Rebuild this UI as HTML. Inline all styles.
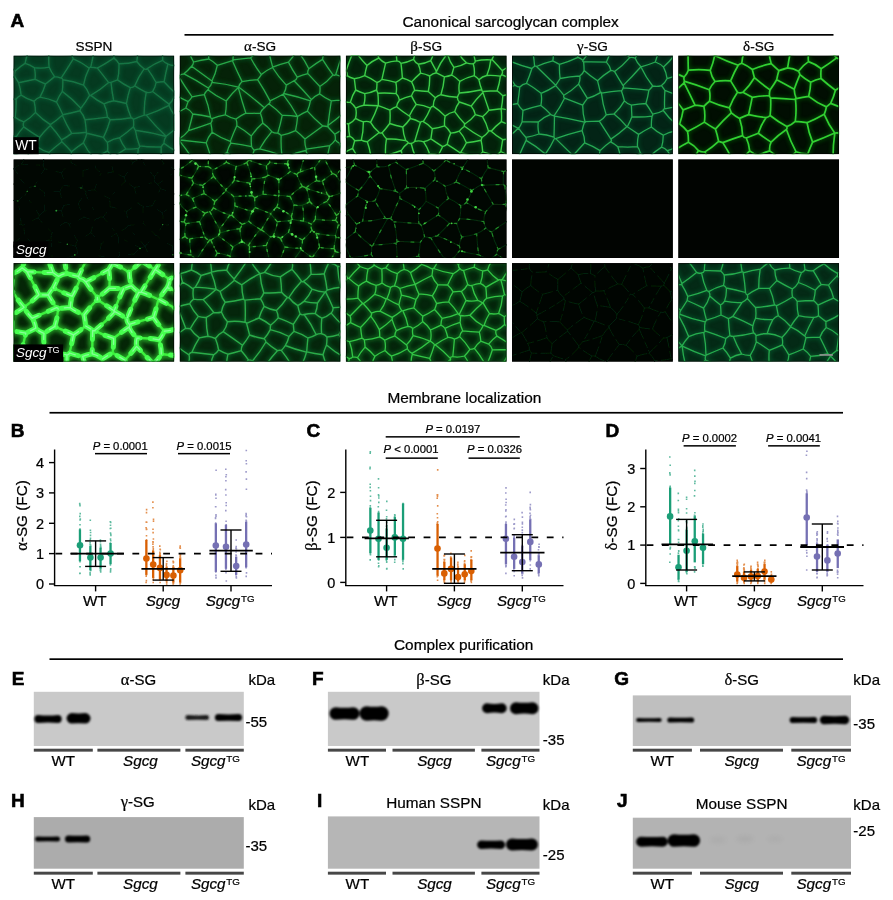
<!DOCTYPE html><html><head><meta charset="utf-8"><style>
html,body{margin:0;padding:0;background:#fff;width:893px;height:900px;overflow:hidden}
svg{display:block}
text{font-family:"Liberation Sans",Arial,sans-serif;fill:#000;stroke:#000;stroke-width:0.22px}
.gr{font-family:"Liberation Serif","Times New Roman",serif}
.b{font-weight:bold;stroke:#000;stroke-width:0.6px}
.i{font-style:italic}
.w{fill:#fff;stroke:none}
</style></head><body>
<svg width="893" height="900" viewBox="0 0 893 900">
<defs>
<filter id="blur05" x="-5%" y="-5%" width="110%" height="110%"><feGaussianBlur stdDeviation="0.5"/></filter>
<filter id="blur2" x="-5%" y="-5%" width="110%" height="110%"><feGaussianBlur stdDeviation="2"/></filter>
<filter id="bb" x="-20%" y="-80%" width="140%" height="260%"><feGaussianBlur stdDeviation="0.8"/></filter>
<filter id="bs" x="-20%" y="-80%" width="140%" height="260%"><feGaussianBlur stdDeviation="2.5"/></filter>
</defs>
<rect width="893" height="900" fill="#fff"/>
<text x="10.5" y="26.9" class="b" font-size="19">A</text>
<text x="510.6" y="26.6" font-size="15.4" text-anchor="middle">Canonical sarcoglycan complex</text>
<rect x="184.5" y="34" width="649" height="1.7" fill="#000"/>
<text x="93.9" y="50.5" font-size="13.6" text-anchor="middle">SSPN</text>
<text x="260.1" y="50.5" font-size="13.6" text-anchor="middle"><tspan class="gr" font-size="15">α</tspan>-SG</text>
<text x="426.2" y="50.5" font-size="13.6" text-anchor="middle"><tspan class="gr" font-size="15">β</tspan>-SG</text>
<text x="592.5" y="50.5" font-size="13.6" text-anchor="middle"><tspan class="gr" font-size="15">γ</tspan>-SG</text>
<text x="758.7" y="50.5" font-size="13.6" text-anchor="middle"><tspan class="gr" font-size="15">δ</tspan>-SG</text>
<clipPath id="c1"><rect x="13.4" y="55.5" width="160.9" height="98.7"/></clipPath>
<g clip-path="url(#c1)">
<rect x="13.4" y="55.5" width="160.9" height="98.7" fill="#053a20"/>
<g fill="none" stroke-linejoin="round" stroke-linecap="round">
<path d="M73.3 58.9Q81.8 62.5 89.2 68.1M73.3 58.9Q71.7 56.3 72 53.4M72 53.4Q77.4 48.7 81 42.6M94 50.6Q92.7 59 90.7 67.3M90.7 67.3Q89.5 66.9 89.2 68.1M27.8 152.5Q25.7 152.3 23.9 151M27.8 152.5Q29.6 159.9 30.2 167.5M1.1 159.6Q12.8 156.1 23.9 151M27.8 152.5Q32.1 149 37.1 146.8M37.1 146.8Q42.5 150.7 48.9 152.4M48.9 152.4Q50.8 157.5 53.4 162.3M93.1 157.3Q87.3 150.7 83.4 142.8M83.4 142.8Q77.2 146.9 71.5 151.8M71.5 151.8Q71.1 155.1 71.1 158.5M48.9 152.4Q55.2 146.8 61.9 141.7M71.5 151.8Q67 146.4 61.9 141.7M61.1 78.1Q62.7 78.2 62.8 79.8M61.1 78.1Q67.4 68.6 73.3 58.9M89.2 68.1Q85 76.2 83.5 85.1M62.8 79.8Q73.4 81.1 83.5 85.1M61.1 78.1Q58 76.8 54.6 76.6M51.6 46.7Q61.8 50 72 53.4M49.5 48Q48.2 57.5 49.1 67.1M54.6 76.6Q51.2 72.2 49.1 67.1M45 47.2Q37 51.4 28 53.1M18.5 42.2Q24.3 46.8 28 53.1M104.8 47.4Q109 50.5 112.9 53.8M112.9 53.8Q117.3 48.3 122.9 44M2 133.7Q9.1 135.3 16.3 136.6M4.4 120.2Q9.7 118.5 15.2 117.4M16.3 136.6Q19.6 131.4 23.7 126.9M15.2 117.4Q19.2 120.4 23.9 121.9M23.7 126.9Q22.7 124.3 23.9 121.9M23.9 151Q18.9 144.5 16.3 136.6M0.5 102Q8.2 99.7 16.1 98.9M16.1 98.9Q16.4 108.2 15.2 117.4M37.1 146.8Q37.9 141.9 39.6 137.3M39.6 137.3Q31.4 132.5 23.7 126.9M34.1 101.2Q27.1 99.3 21.1 95.2M34.1 101.2Q35.4 106.7 35.5 112.4M21.1 95.2Q18.3 96.6 16.1 98.9M35.5 112.4Q30.6 118.2 23.9 121.9M71.7 133.4Q66.3 124.7 62.3 115.3M71.7 133.4Q67 137.1 61.6 139.9M61.6 139.9Q56.5 132.3 50.3 125.5M62.3 115.3Q56.7 120.4 50.4 124.6M50.4 124.6Q50.6 125.1 50.3 125.5M39.6 137.3Q44.5 131 50.3 125.5M61.9 141.7Q61.3 140.9 61.6 139.9M35.5 112.4Q42.2 119.4 50.4 124.6M93.1 157.3Q100.9 155.2 107.6 150.8M107.6 150.8Q109.9 154.5 113.3 157.4M137.3 165Q137.5 156.7 138.3 148.4M138.3 148.4Q132.1 149.5 125.8 148.9M113.3 157.4Q119.3 152.7 125.8 148.9M56.5 102Q58.7 96.4 62.3 91.4M56.5 102Q60.1 108.2 62.8 114.7M62.3 91.4Q72.5 98.9 80.9 108.3M62.8 114.7Q71.5 113.1 79.9 110.8M79.9 110.8Q80.4 109.6 80.9 108.3M40 97.1Q43.4 90.9 45.5 84M40 97.1Q48.6 98.4 56.5 102M62.8 79.8Q63 85.7 62.3 91.4M54.6 76.6Q50.1 80.4 45.5 84M34.1 101.2Q36.5 98.4 40 97.1M62.3 115.3Q62.9 115.4 62.8 114.7M89.6 95.4Q87.7 89.6 83.5 85.1M89.6 95.4Q85.7 102.2 80.9 108.3M45.5 84Q40 82.1 35 79.2M49.1 67.1Q41.7 68.8 34.3 67.6M34.3 67.6Q35.8 73.3 35 79.2M28 53.1Q25.9 58 25.1 63.4M34.3 67.6Q30 64.9 25.1 63.4M21.1 95.2Q20.6 88.8 18.6 82.7M35 79.2Q26.8 81 18.6 82.7M90.7 95.4Q100.4 90 108.7 82.6M90.7 95.4Q96.8 100.5 104 103.9M104 103.9Q108.6 101.6 113.7 100.8M113.7 100.8Q111.9 91.7 111 82.4M108.7 82.6Q109.9 82.3 111 82.4M90.7 67.3Q94.1 67.5 97.4 68.1M89.6 95.4Q90.1 95.5 90.7 95.4M108.7 82.6Q103.2 75.3 97.4 68.1M112.9 53.8Q114.7 55.7 113.8 58.1M97.4 68.1Q105.9 63.5 113.8 58.1M175 65.5Q181.7 55.6 189.4 46.4M175 65.5Q178.1 68.7 181.4 71.7M139.6 145.9Q136.5 138.3 135.4 130.2M139.6 145.9Q150.3 147.5 161.2 146.9M135.4 130.2Q150.9 132.2 166 136.5M161.2 146.9Q162.2 144.8 164 143.4M164 143.4Q163.8 139.6 166 136.5M161.2 162.5Q161 154.7 161.2 146.9M138.3 148.4Q139.9 147.6 139.6 145.9M182.8 154.4Q172.8 150.1 164 143.4M71.7 133.4Q79.1 133.5 86.4 132.3M79.9 110.8Q83.5 114.8 85 119.8M85 119.8Q86 126 86.4 132.3M104 103.9Q106.9 110.2 107.4 117.1M85 119.8Q96.2 118.6 107.4 117.1M83.4 142.8Q85.6 138.2 86.9 133.2M86.4 132.3Q85.9 133.2 86.9 133.2M125.8 148.9Q121.8 143.9 119.6 137.8M135.4 130.2Q134.2 128.7 133.5 126.8M133.5 126.8Q126.9 132.7 119.6 137.8M107.4 117.1Q109 118.2 110.2 119.7M86.9 133.2Q95.2 135.1 103.5 137.4M110.2 119.7Q107.7 128.8 103.5 137.4M107.6 150.8Q108.1 146.5 107.3 142.3M119.6 137.8Q113 138.8 107.3 142.3M107.3 142.3Q105 140.2 103.5 137.4M113.7 100.8Q120.1 102 126.4 103.5M110.2 119.7Q120.8 119.7 131.2 117.7M126.4 103.5Q128.2 110.9 131.2 117.7M133.5 126.8Q133.9 123.1 133.4 119.4M133.4 119.4Q132.7 118.1 131.2 117.7M14.9 76.6Q14 73.7 15.2 70.9M14.9 76.6Q8 78.7 1.6 81.8M15.2 70.9Q10.2 67.2 6.1 62.5M25.1 63.4Q19.9 66.7 15.2 70.9M18.6 82.7Q16.6 79.7 14.9 76.6M117.5 79.9Q119.4 72 118.9 63.8M117.5 79.9Q123.5 84.4 130.3 87.6M134.8 85.8Q133 87.8 130.3 87.6M134.8 85.8Q138.3 76.7 144.1 68.8M118.9 63.8Q128.1 63.9 136.8 61.5M144.1 68.8Q139.8 65.8 136.8 61.5M111 82.4Q114.3 81.3 117.5 79.9M113.8 58.1Q117.2 60.2 118.9 63.8M126.4 103.5Q127.8 95.4 130.3 87.6M144.2 115.1Q138.6 116.9 133.4 119.4M144.2 115.1Q143.9 103.6 146.2 92.3M146.2 92.3Q140.2 89.4 134.8 85.8M137.6 46.5Q138 54.1 136.8 61.5M174.3 129.9Q170.2 133.1 166.1 136.3M174.3 129.9Q174.9 122.9 175 116M166.1 136.3Q155.5 126.3 146.3 115.1M175 116Q171.1 111.1 168.9 105.3M168.9 105.3Q158 111.2 146.3 115.1M192.3 137.9Q182.8 134.9 174.3 129.9M190.2 114.3Q182.5 114.5 175 116M144.2 115.1Q145.2 115.1 146.3 115.1M169 104.1Q160.8 97.8 152.6 91.5M169 104.1Q170.1 104.9 168.9 105.3M152.6 91.5Q149.5 93.2 146.2 92.3M162.6 60.4Q164.8 62.8 167.9 64M162.6 60.4Q154.4 63.6 147.3 68.6M167.9 64Q165.7 72.8 164.1 81.8M147.3 68.6Q152.2 75.2 156.1 82.5M156.1 82.5Q160.1 81.7 164.1 81.8M175 65.5Q171.2 65.9 167.9 64M161.5 46.3Q162.9 53.3 162.6 60.4M144.1 68.8Q145.7 70 147.3 68.6M152.6 91.5Q155.3 87.4 156.1 82.5M196.2 99.6Q184.8 98.8 173.4 97.9M181.4 82.4Q177.5 87 174.2 92.1M173.4 97.9Q175.1 95.2 174.2 92.1M169 104.1Q172.1 101.7 173.4 97.9M164.1 81.8Q168.9 87.2 174.2 92.1" stroke="#0f6a3c" stroke-width="4" filter="url(#blur2)" opacity="0.5"/>
<path d="M73.3 58.9Q81.8 62.5 89.2 68.1M73.3 58.9Q71.7 56.3 72 53.4M72 53.4Q77.4 48.7 81 42.6M94 50.6Q92.7 59 90.7 67.3M90.7 67.3Q89.5 66.9 89.2 68.1M27.8 152.5Q25.7 152.3 23.9 151M27.8 152.5Q29.6 159.9 30.2 167.5M1.1 159.6Q12.8 156.1 23.9 151M27.8 152.5Q32.1 149 37.1 146.8M37.1 146.8Q42.5 150.7 48.9 152.4M48.9 152.4Q50.8 157.5 53.4 162.3M93.1 157.3Q87.3 150.7 83.4 142.8M83.4 142.8Q77.2 146.9 71.5 151.8M71.5 151.8Q71.1 155.1 71.1 158.5M48.9 152.4Q55.2 146.8 61.9 141.7M71.5 151.8Q67 146.4 61.9 141.7M61.1 78.1Q62.7 78.2 62.8 79.8M61.1 78.1Q67.4 68.6 73.3 58.9M89.2 68.1Q85 76.2 83.5 85.1M62.8 79.8Q73.4 81.1 83.5 85.1M61.1 78.1Q58 76.8 54.6 76.6M51.6 46.7Q61.8 50 72 53.4M49.5 48Q48.2 57.5 49.1 67.1M54.6 76.6Q51.2 72.2 49.1 67.1M45 47.2Q37 51.4 28 53.1M18.5 42.2Q24.3 46.8 28 53.1M104.8 47.4Q109 50.5 112.9 53.8M112.9 53.8Q117.3 48.3 122.9 44M2 133.7Q9.1 135.3 16.3 136.6M4.4 120.2Q9.7 118.5 15.2 117.4M16.3 136.6Q19.6 131.4 23.7 126.9M15.2 117.4Q19.2 120.4 23.9 121.9M23.7 126.9Q22.7 124.3 23.9 121.9M23.9 151Q18.9 144.5 16.3 136.6M0.5 102Q8.2 99.7 16.1 98.9M16.1 98.9Q16.4 108.2 15.2 117.4M37.1 146.8Q37.9 141.9 39.6 137.3M39.6 137.3Q31.4 132.5 23.7 126.9M34.1 101.2Q27.1 99.3 21.1 95.2M34.1 101.2Q35.4 106.7 35.5 112.4M21.1 95.2Q18.3 96.6 16.1 98.9M35.5 112.4Q30.6 118.2 23.9 121.9M71.7 133.4Q66.3 124.7 62.3 115.3M71.7 133.4Q67 137.1 61.6 139.9M61.6 139.9Q56.5 132.3 50.3 125.5M62.3 115.3Q56.7 120.4 50.4 124.6M50.4 124.6Q50.6 125.1 50.3 125.5M39.6 137.3Q44.5 131 50.3 125.5M61.9 141.7Q61.3 140.9 61.6 139.9M35.5 112.4Q42.2 119.4 50.4 124.6M93.1 157.3Q100.9 155.2 107.6 150.8M107.6 150.8Q109.9 154.5 113.3 157.4M137.3 165Q137.5 156.7 138.3 148.4M138.3 148.4Q132.1 149.5 125.8 148.9M113.3 157.4Q119.3 152.7 125.8 148.9M56.5 102Q58.7 96.4 62.3 91.4M56.5 102Q60.1 108.2 62.8 114.7M62.3 91.4Q72.5 98.9 80.9 108.3M62.8 114.7Q71.5 113.1 79.9 110.8M79.9 110.8Q80.4 109.6 80.9 108.3M40 97.1Q43.4 90.9 45.5 84M40 97.1Q48.6 98.4 56.5 102M62.8 79.8Q63 85.7 62.3 91.4M54.6 76.6Q50.1 80.4 45.5 84M34.1 101.2Q36.5 98.4 40 97.1M62.3 115.3Q62.9 115.4 62.8 114.7M89.6 95.4Q87.7 89.6 83.5 85.1M89.6 95.4Q85.7 102.2 80.9 108.3M45.5 84Q40 82.1 35 79.2M49.1 67.1Q41.7 68.8 34.3 67.6M34.3 67.6Q35.8 73.3 35 79.2M28 53.1Q25.9 58 25.1 63.4M34.3 67.6Q30 64.9 25.1 63.4M21.1 95.2Q20.6 88.8 18.6 82.7M35 79.2Q26.8 81 18.6 82.7M90.7 95.4Q100.4 90 108.7 82.6M90.7 95.4Q96.8 100.5 104 103.9M104 103.9Q108.6 101.6 113.7 100.8M113.7 100.8Q111.9 91.7 111 82.4M108.7 82.6Q109.9 82.3 111 82.4M90.7 67.3Q94.1 67.5 97.4 68.1M89.6 95.4Q90.1 95.5 90.7 95.4M108.7 82.6Q103.2 75.3 97.4 68.1M112.9 53.8Q114.7 55.7 113.8 58.1M97.4 68.1Q105.9 63.5 113.8 58.1M175 65.5Q181.7 55.6 189.4 46.4M175 65.5Q178.1 68.7 181.4 71.7M139.6 145.9Q136.5 138.3 135.4 130.2M139.6 145.9Q150.3 147.5 161.2 146.9M135.4 130.2Q150.9 132.2 166 136.5M161.2 146.9Q162.2 144.8 164 143.4M164 143.4Q163.8 139.6 166 136.5M161.2 162.5Q161 154.7 161.2 146.9M138.3 148.4Q139.9 147.6 139.6 145.9M182.8 154.4Q172.8 150.1 164 143.4M71.7 133.4Q79.1 133.5 86.4 132.3M79.9 110.8Q83.5 114.8 85 119.8M85 119.8Q86 126 86.4 132.3M104 103.9Q106.9 110.2 107.4 117.1M85 119.8Q96.2 118.6 107.4 117.1M83.4 142.8Q85.6 138.2 86.9 133.2M86.4 132.3Q85.9 133.2 86.9 133.2M125.8 148.9Q121.8 143.9 119.6 137.8M135.4 130.2Q134.2 128.7 133.5 126.8M133.5 126.8Q126.9 132.7 119.6 137.8M107.4 117.1Q109 118.2 110.2 119.7M86.9 133.2Q95.2 135.1 103.5 137.4M110.2 119.7Q107.7 128.8 103.5 137.4M107.6 150.8Q108.1 146.5 107.3 142.3M119.6 137.8Q113 138.8 107.3 142.3M107.3 142.3Q105 140.2 103.5 137.4M113.7 100.8Q120.1 102 126.4 103.5M110.2 119.7Q120.8 119.7 131.2 117.7M126.4 103.5Q128.2 110.9 131.2 117.7M133.5 126.8Q133.9 123.1 133.4 119.4M133.4 119.4Q132.7 118.1 131.2 117.7M14.9 76.6Q14 73.7 15.2 70.9M14.9 76.6Q8 78.7 1.6 81.8M15.2 70.9Q10.2 67.2 6.1 62.5M25.1 63.4Q19.9 66.7 15.2 70.9M18.6 82.7Q16.6 79.7 14.9 76.6M117.5 79.9Q119.4 72 118.9 63.8M117.5 79.9Q123.5 84.4 130.3 87.6M134.8 85.8Q133 87.8 130.3 87.6M134.8 85.8Q138.3 76.7 144.1 68.8M118.9 63.8Q128.1 63.9 136.8 61.5M144.1 68.8Q139.8 65.8 136.8 61.5M111 82.4Q114.3 81.3 117.5 79.9M113.8 58.1Q117.2 60.2 118.9 63.8M126.4 103.5Q127.8 95.4 130.3 87.6M144.2 115.1Q138.6 116.9 133.4 119.4M144.2 115.1Q143.9 103.6 146.2 92.3M146.2 92.3Q140.2 89.4 134.8 85.8M137.6 46.5Q138 54.1 136.8 61.5M174.3 129.9Q170.2 133.1 166.1 136.3M174.3 129.9Q174.9 122.9 175 116M166.1 136.3Q155.5 126.3 146.3 115.1M175 116Q171.1 111.1 168.9 105.3M168.9 105.3Q158 111.2 146.3 115.1M192.3 137.9Q182.8 134.9 174.3 129.9M190.2 114.3Q182.5 114.5 175 116M144.2 115.1Q145.2 115.1 146.3 115.1M169 104.1Q160.8 97.8 152.6 91.5M169 104.1Q170.1 104.9 168.9 105.3M152.6 91.5Q149.5 93.2 146.2 92.3M162.6 60.4Q164.8 62.8 167.9 64M162.6 60.4Q154.4 63.6 147.3 68.6M167.9 64Q165.7 72.8 164.1 81.8M147.3 68.6Q152.2 75.2 156.1 82.5M156.1 82.5Q160.1 81.7 164.1 81.8M175 65.5Q171.2 65.9 167.9 64M161.5 46.3Q162.9 53.3 162.6 60.4M144.1 68.8Q145.7 70 147.3 68.6M152.6 91.5Q155.3 87.4 156.1 82.5M196.2 99.6Q184.8 98.8 173.4 97.9M181.4 82.4Q177.5 87 174.2 92.1M173.4 97.9Q175.1 95.2 174.2 92.1M169 104.1Q172.1 101.7 173.4 97.9M164.1 81.8Q168.9 87.2 174.2 92.1" stroke="#167544" stroke-width="1.4" filter="url(#blur05)"/>
</g>

<rect x="13.9" y="56" width="159.9" height="97.7" fill="none" stroke="#000" stroke-opacity="0.7" stroke-width="1"/>
</g>
<clipPath id="c2"><rect x="179.6" y="55.5" width="160.9" height="98.7"/></clipPath>
<g clip-path="url(#c2)">
<rect x="179.6" y="55.5" width="160.9" height="98.7" fill="#052208"/>
<g fill="none" stroke-linejoin="round" stroke-linecap="round">
<path d="M327.9 125.6Q329.4 113.2 331.3 100.9M327.9 125.6Q339.5 116.9 350.3 107.2M331.3 100.9Q336.7 100.1 342.3 100.1M350.3 107.2Q346.3 103.7 342.3 100.1M348.7 80Q346.6 90.5 342.3 100.1M297.6 116.5Q302.2 113.3 307.4 111.1M307.4 111.1Q309.5 106.1 310.4 100.8M283 94.3Q291.2 104.8 297.5 116.5M283 94.3Q283.3 93.8 283.7 93.5M283.7 93.5Q297.3 96.5 310.4 100.8M261.3 74.6Q255.2 66.7 250.6 57.8M261.3 74.6Q266.3 70.2 272.5 67.5M250.6 57.8Q254.9 54.5 257.8 50M268.5 49.1Q270.1 58.2 272.7 67.1M272.5 67.5Q272.3 67.2 272.7 67.1M283 94.3Q276.6 97.9 270 100.9M270 100.9Q264.4 89.9 257.6 79.6M257.6 79.6Q259.7 77.3 261.3 74.6M283.7 93.5Q286.1 89.7 286.3 85.1M272.5 67.5Q278.5 77.1 286.3 85.1M310.4 100.8Q310.9 100.2 311.4 99.6M311.4 99.6Q303 89.9 294 80.8M286.3 85.1Q290.2 83.1 294 80.8M334.8 134.3Q335.6 137 335.3 139.8M334.8 134.3Q331.1 130.5 327.6 126.5M329.8 145.6Q333 143.1 335.3 139.8M329.8 145.6Q318 147.2 306.2 149.1M327.6 126.5Q325.2 125.9 322.8 126M322.8 126Q313.9 132.5 305 139M305 139Q304.4 144.2 306.2 149.1M345.7 128.3Q339.9 130.6 334.8 134.3M327.9 125.6Q328.7 126.4 327.6 126.5M307.4 111.1Q314.4 119.1 322.8 126M319.5 93.8Q314.8 95.8 311.4 99.6M319.5 93.8Q324.9 98.1 331.3 100.9M297.6 116.5Q297 123.6 295.5 130.6M295.5 130.6Q300.5 134.5 305 139M326.3 164.5Q327.3 154.9 329.8 145.6M306.2 149.1Q307.1 150.2 305.7 150.5M310.6 161Q308.1 155.8 305.7 150.5M281.2 135.4Q288.7 133.9 295.5 130.6M281.2 135.4Q280.7 144.9 281.8 154.5M281.8 154.5Q284 155.9 286.5 156.5M305.7 150.5Q295.8 152.6 286.5 156.5M259.7 148.8Q256.8 149.1 254.2 150.2M259.7 148.8Q270.3 151.2 280.5 155M254.2 150.2Q251.7 157.1 250.9 164.4M280.5 155Q273.5 165 265.9 174.6M282.2 115.4Q276.2 108.8 268.8 103.7M282.2 115.4Q280.5 124.4 277.8 133.1M262.8 123.1Q268.1 126.6 271.8 131.7M262.8 123.1Q262.2 117.9 260.3 113.1M260.3 113.1Q261.5 109.7 264.4 107.7M271.8 131.7Q274.6 133.4 277.8 133.1M264.4 107.7Q266.4 105.5 268.8 103.7M297.5 116.5Q289.9 115.2 282.2 115.4M270 100.9Q270.5 102.8 268.8 103.7M281.2 135.4Q279.6 134.1 277.8 133.1M251.3 136Q251 141.4 251.6 146.7M251.3 136Q256.3 128.8 262.8 123.1M251.6 146.7Q252.7 148.7 254.2 150.2M259.7 148.8Q264.9 139.7 271.8 131.7M238.6 87Q251.9 96.9 264.4 107.7M245.9 113.2Q241.7 100.5 238.3 87.6M245.9 113.2Q253.1 113.5 260.3 113.1M281.8 154.5Q281.5 155.7 280.5 155M238.6 87Q239.6 83.8 242.1 81.6M257.6 79.6Q249.7 79.9 242.1 81.6M171.5 115Q178.9 112.1 185.9 108M185.9 108Q186.9 104.8 188.2 101.6M188.2 101.6Q176.4 96 165.1 89.3M188.2 101.6Q190.6 99.5 192.1 96.8M176.5 76.3Q177.6 76.2 178.7 76.3M192.1 96.8Q185 86.8 178.7 76.3M168.7 48.1Q179 51.7 189.7 53.3M199.6 33Q195.4 43.5 189.7 53.3M348.7 80Q342.5 76.6 335.7 74.7M343.6 50.5Q339.4 62.5 335.7 74.7M346 162.6Q343 152.7 339.3 143.1M339.3 143.1Q348.7 144.4 358.1 144.6M335.3 139.8Q336.9 142 339.3 143.1M286.5 156.5Q286.5 160 288.4 162.8M152 156.8Q166.5 149.8 179.9 140.8M176.3 135.2Q178.5 136.4 179.6 138.6M179.9 140.8Q179.1 140.3 180.1 140M179.6 138.6Q178.8 139.7 180.1 140M179.9 140.8Q180.8 141.1 180.1 141.7M173.1 162.3Q175.9 151.7 180.1 141.7M208.3 88Q196.6 80.1 184 73.8M208.3 88Q211.2 85.8 211.9 82.3M211.9 82.3Q212.9 81.7 211.9 81M211.9 81Q201.8 73.6 191.6 66.2M191.6 66.2Q188.1 70.2 184 73.8M207.9 89.8Q209.4 89.2 208.3 88M207.9 89.8Q205.5 91.8 204.3 94.6M204.3 94.6Q198.2 95.3 192.1 96.8M178.7 76.3Q180.8 73.8 184 73.8M226.2 101Q231.6 93.7 238.3 87.6M226.2 101Q216.3 96.5 207.9 89.8M238.4 87.2Q225.4 83.6 211.9 82.3M193.6 62Q191 57.9 189.7 53.3M193.6 62Q193.4 64.5 191.6 66.2M208.7 49Q208.5 54 208.8 59M208.8 59Q213.6 61.5 217.3 65.3M217.3 65.3Q224.9 63.2 232.4 60.7M232.4 60.7Q233.8 60.9 232.8 59.9M232.8 59.9Q233.7 55.6 232.6 51.4M193.6 62Q201 59.8 208.8 59M211.9 81Q215.7 73.6 217.3 65.3M242.1 81.6Q237 71.3 232.4 60.7M250.6 57.8Q241.7 58.8 232.8 59.9M272.7 67.1Q280.4 64.1 288.4 62.1M294 80.8Q296.7 79.9 297.2 77.2M297.2 77.2Q292.4 69.9 288.4 62.1M288.4 62.1Q293.2 56.9 296.9 50.8M322.5 59.4Q327.5 67.4 333 74.9M322.5 59.4Q315.4 63.7 308.8 68.8M307.9 73.6Q307.3 71 308.8 68.8M307.9 73.6Q313.8 80.1 319.9 86.5M319.9 86.5Q327.4 81.8 333 74.9M324.1 51.6Q323.2 55.5 322.5 59.4M335.7 74.7Q334.4 75.7 333 74.9M297.7 51.1Q304.3 59.3 308.8 68.8M297.2 77.2Q302.4 74.9 307.9 73.6M319.5 93.8Q320.4 90.2 319.9 86.5M185.9 108Q190.2 110 192.8 114M204.3 94.6Q208.6 105.5 210.5 117M210.5 117Q201.7 115.1 192.8 114M179.6 138.6Q184.8 135.5 188.5 130.7M192.8 114Q190.8 122.4 188.5 130.7M251.6 146.7Q241.2 144.6 230.8 143.2M246 166.4Q236.1 159.9 227.1 152.2M227.1 152.2Q228.3 147.4 230.8 143.2M180.1 140Q193.1 141.4 206.2 142.9M180.1 141.7Q188 151.4 194.6 162.1M206.2 142.9Q209.4 152.2 212.3 161.6M227.1 152.2Q220.2 157.7 212.3 161.6M212.1 132.2Q220.6 137.9 230.3 141.4M212.1 132.2Q211.9 127.6 210.8 123.1M212 118.7Q212.5 121.2 210.8 123.1M212 118.7Q218.4 115.9 225.2 114.8M225.2 114.8Q230.2 117.8 236 119.1M230.3 141.4Q233.2 133.4 236.8 125.7M236 119.1Q237.1 122.3 236.8 125.7M206.2 142.9Q208 136.9 212.1 132.2M230.8 143.2Q231 142.2 230.3 141.4M188.5 130.7Q199.7 127.1 210.8 123.1M210.5 117Q210.6 118.5 212 118.7M226.2 101Q226.6 107.9 225.2 114.8M245.9 113.2Q240.6 115.5 236 119.1M251.3 136Q244.6 130.1 236.8 125.7" stroke="#0e5a22" stroke-width="3.5" filter="url(#blur2)" opacity="0.7"/>
<path d="M327.9 125.6Q329.4 113.2 331.3 100.9M327.9 125.6Q339.5 116.9 350.3 107.2M331.3 100.9Q336.7 100.1 342.3 100.1M350.3 107.2Q346.3 103.7 342.3 100.1M348.7 80Q346.6 90.5 342.3 100.1M297.6 116.5Q302.2 113.3 307.4 111.1M307.4 111.1Q309.5 106.1 310.4 100.8M283 94.3Q291.2 104.8 297.5 116.5M283 94.3Q283.3 93.8 283.7 93.5M283.7 93.5Q297.3 96.5 310.4 100.8M261.3 74.6Q255.2 66.7 250.6 57.8M261.3 74.6Q266.3 70.2 272.5 67.5M250.6 57.8Q254.9 54.5 257.8 50M268.5 49.1Q270.1 58.2 272.7 67.1M272.5 67.5Q272.3 67.2 272.7 67.1M283 94.3Q276.6 97.9 270 100.9M270 100.9Q264.4 89.9 257.6 79.6M257.6 79.6Q259.7 77.3 261.3 74.6M283.7 93.5Q286.1 89.7 286.3 85.1M272.5 67.5Q278.5 77.1 286.3 85.1M310.4 100.8Q310.9 100.2 311.4 99.6M311.4 99.6Q303 89.9 294 80.8M286.3 85.1Q290.2 83.1 294 80.8M334.8 134.3Q335.6 137 335.3 139.8M334.8 134.3Q331.1 130.5 327.6 126.5M329.8 145.6Q333 143.1 335.3 139.8M329.8 145.6Q318 147.2 306.2 149.1M327.6 126.5Q325.2 125.9 322.8 126M322.8 126Q313.9 132.5 305 139M305 139Q304.4 144.2 306.2 149.1M345.7 128.3Q339.9 130.6 334.8 134.3M327.9 125.6Q328.7 126.4 327.6 126.5M307.4 111.1Q314.4 119.1 322.8 126M319.5 93.8Q314.8 95.8 311.4 99.6M319.5 93.8Q324.9 98.1 331.3 100.9M297.6 116.5Q297 123.6 295.5 130.6M295.5 130.6Q300.5 134.5 305 139M326.3 164.5Q327.3 154.9 329.8 145.6M306.2 149.1Q307.1 150.2 305.7 150.5M310.6 161Q308.1 155.8 305.7 150.5M281.2 135.4Q288.7 133.9 295.5 130.6M281.2 135.4Q280.7 144.9 281.8 154.5M281.8 154.5Q284 155.9 286.5 156.5M305.7 150.5Q295.8 152.6 286.5 156.5M259.7 148.8Q256.8 149.1 254.2 150.2M259.7 148.8Q270.3 151.2 280.5 155M254.2 150.2Q251.7 157.1 250.9 164.4M280.5 155Q273.5 165 265.9 174.6M282.2 115.4Q276.2 108.8 268.8 103.7M282.2 115.4Q280.5 124.4 277.8 133.1M262.8 123.1Q268.1 126.6 271.8 131.7M262.8 123.1Q262.2 117.9 260.3 113.1M260.3 113.1Q261.5 109.7 264.4 107.7M271.8 131.7Q274.6 133.4 277.8 133.1M264.4 107.7Q266.4 105.5 268.8 103.7M297.5 116.5Q289.9 115.2 282.2 115.4M270 100.9Q270.5 102.8 268.8 103.7M281.2 135.4Q279.6 134.1 277.8 133.1M251.3 136Q251 141.4 251.6 146.7M251.3 136Q256.3 128.8 262.8 123.1M251.6 146.7Q252.7 148.7 254.2 150.2M259.7 148.8Q264.9 139.7 271.8 131.7M238.6 87Q251.9 96.9 264.4 107.7M245.9 113.2Q241.7 100.5 238.3 87.6M245.9 113.2Q253.1 113.5 260.3 113.1M281.8 154.5Q281.5 155.7 280.5 155M238.6 87Q239.6 83.8 242.1 81.6M257.6 79.6Q249.7 79.9 242.1 81.6M171.5 115Q178.9 112.1 185.9 108M185.9 108Q186.9 104.8 188.2 101.6M188.2 101.6Q176.4 96 165.1 89.3M188.2 101.6Q190.6 99.5 192.1 96.8M176.5 76.3Q177.6 76.2 178.7 76.3M192.1 96.8Q185 86.8 178.7 76.3M168.7 48.1Q179 51.7 189.7 53.3M199.6 33Q195.4 43.5 189.7 53.3M348.7 80Q342.5 76.6 335.7 74.7M343.6 50.5Q339.4 62.5 335.7 74.7M346 162.6Q343 152.7 339.3 143.1M339.3 143.1Q348.7 144.4 358.1 144.6M335.3 139.8Q336.9 142 339.3 143.1M286.5 156.5Q286.5 160 288.4 162.8M152 156.8Q166.5 149.8 179.9 140.8M176.3 135.2Q178.5 136.4 179.6 138.6M179.9 140.8Q179.1 140.3 180.1 140M179.6 138.6Q178.8 139.7 180.1 140M179.9 140.8Q180.8 141.1 180.1 141.7M173.1 162.3Q175.9 151.7 180.1 141.7M208.3 88Q196.6 80.1 184 73.8M208.3 88Q211.2 85.8 211.9 82.3M211.9 82.3Q212.9 81.7 211.9 81M211.9 81Q201.8 73.6 191.6 66.2M191.6 66.2Q188.1 70.2 184 73.8M207.9 89.8Q209.4 89.2 208.3 88M207.9 89.8Q205.5 91.8 204.3 94.6M204.3 94.6Q198.2 95.3 192.1 96.8M178.7 76.3Q180.8 73.8 184 73.8M226.2 101Q231.6 93.7 238.3 87.6M226.2 101Q216.3 96.5 207.9 89.8M238.4 87.2Q225.4 83.6 211.9 82.3M193.6 62Q191 57.9 189.7 53.3M193.6 62Q193.4 64.5 191.6 66.2M208.7 49Q208.5 54 208.8 59M208.8 59Q213.6 61.5 217.3 65.3M217.3 65.3Q224.9 63.2 232.4 60.7M232.4 60.7Q233.8 60.9 232.8 59.9M232.8 59.9Q233.7 55.6 232.6 51.4M193.6 62Q201 59.8 208.8 59M211.9 81Q215.7 73.6 217.3 65.3M242.1 81.6Q237 71.3 232.4 60.7M250.6 57.8Q241.7 58.8 232.8 59.9M272.7 67.1Q280.4 64.1 288.4 62.1M294 80.8Q296.7 79.9 297.2 77.2M297.2 77.2Q292.4 69.9 288.4 62.1M288.4 62.1Q293.2 56.9 296.9 50.8M322.5 59.4Q327.5 67.4 333 74.9M322.5 59.4Q315.4 63.7 308.8 68.8M307.9 73.6Q307.3 71 308.8 68.8M307.9 73.6Q313.8 80.1 319.9 86.5M319.9 86.5Q327.4 81.8 333 74.9M324.1 51.6Q323.2 55.5 322.5 59.4M335.7 74.7Q334.4 75.7 333 74.9M297.7 51.1Q304.3 59.3 308.8 68.8M297.2 77.2Q302.4 74.9 307.9 73.6M319.5 93.8Q320.4 90.2 319.9 86.5M185.9 108Q190.2 110 192.8 114M204.3 94.6Q208.6 105.5 210.5 117M210.5 117Q201.7 115.1 192.8 114M179.6 138.6Q184.8 135.5 188.5 130.7M192.8 114Q190.8 122.4 188.5 130.7M251.6 146.7Q241.2 144.6 230.8 143.2M246 166.4Q236.1 159.9 227.1 152.2M227.1 152.2Q228.3 147.4 230.8 143.2M180.1 140Q193.1 141.4 206.2 142.9M180.1 141.7Q188 151.4 194.6 162.1M206.2 142.9Q209.4 152.2 212.3 161.6M227.1 152.2Q220.2 157.7 212.3 161.6M212.1 132.2Q220.6 137.9 230.3 141.4M212.1 132.2Q211.9 127.6 210.8 123.1M212 118.7Q212.5 121.2 210.8 123.1M212 118.7Q218.4 115.9 225.2 114.8M225.2 114.8Q230.2 117.8 236 119.1M230.3 141.4Q233.2 133.4 236.8 125.7M236 119.1Q237.1 122.3 236.8 125.7M206.2 142.9Q208 136.9 212.1 132.2M230.8 143.2Q231 142.2 230.3 141.4M188.5 130.7Q199.7 127.1 210.8 123.1M210.5 117Q210.6 118.5 212 118.7M226.2 101Q226.6 107.9 225.2 114.8M245.9 113.2Q240.6 115.5 236 119.1M251.3 136Q244.6 130.1 236.8 125.7" stroke="#26a848" stroke-width="1.3" filter="url(#blur05)"/>
</g>

<rect x="180.1" y="56" width="159.9" height="97.7" fill="none" stroke="#000" stroke-opacity="0.7" stroke-width="1"/>
</g>
<clipPath id="c3"><rect x="345.8" y="55.5" width="160.9" height="98.7"/></clipPath>
<g clip-path="url(#c3)">
<rect x="345.8" y="55.5" width="160.9" height="98.7" fill="#03210a"/>
<g fill="none" stroke-linejoin="round" stroke-linecap="round">
<path d="M501.3 108.6Q510.8 110.3 520.2 113M501.1 108.8Q501.9 115.2 501.4 121.6M501.4 121.6Q504.9 123.5 508.9 124.1M508.9 124.1Q514.6 122.1 520.1 119.6M508.9 124.1Q508 131 509.3 137.9M516.6 139.2Q513 138 509.3 137.9M409.3 116Q412.2 109.9 416.2 104.4M409.3 116Q402.7 111.8 396.6 106.7M396.6 106.7Q397.1 103 399.4 100.2M399.4 100.2Q405.2 97.4 411.5 95.9M411.5 95.9Q413.6 100.3 416.2 104.4M411.6 81.9Q407.2 79.3 402.4 78M411.6 81.9Q413.7 85.9 414.7 90.3M402.4 78Q399.3 80.5 395.8 82.4M414.7 90.3Q412.3 92.7 411.5 95.9M399.4 100.2Q398.9 96.3 396.1 93.6M395.8 82.4Q397.1 88 396.1 93.6M396.9 60.9Q399.5 61.1 401 63.4M396.9 60.9Q391.1 61.3 385.6 63.1M385.6 63.1Q383.7 71.3 381.9 79.4M401 63.4Q401.9 70.7 402.4 78M395.8 82.4Q388.9 80.5 381.9 79.4M454.7 111.6Q459.3 118.3 464.9 124M454.7 111.6Q456 106.3 459.4 102M464.9 124Q471 120.2 475.3 114.6M475.3 114.6Q474.4 109.8 471.2 106.1M459.4 102Q465.4 103.8 471.2 106.1M489 110.2Q485.9 101.3 482.9 92.4M489 110.2Q486.2 113.9 482.5 116.7M482.5 116.7Q478.9 115.4 475.3 114.6M471.2 106.1Q476.4 98.7 482.9 92.4M438.4 155Q440.6 150.9 442.6 146.7M438.4 155Q434.2 153.3 429.6 153.7M442.6 146.7Q436.8 142.7 430.9 138.8M429.6 153.7Q427.4 147.3 423.6 141.8M430.9 138.8Q427.6 141.1 423.6 141.8M433.4 106.3Q431.3 106.3 430.5 108.2M433.4 106.3Q439.9 110.4 445.1 116.1M430.5 108.2Q427.6 115.3 423.3 121.6M445.1 116.1Q444.2 120.9 444.6 125.8M444.6 125.8Q438.5 127.8 432.3 128.7M423.3 121.6Q428.5 124.3 432.3 128.7M410.3 118.5Q415.8 119.4 420.4 122.5M410.3 118.5Q410.6 116.9 409.3 116M416.2 104.4Q423.7 105 430.5 108.2M420.4 122.5Q421.5 120.9 423.3 121.6M454.7 111.6Q449.4 112.7 445.1 116.1M464.9 124Q463.9 124.9 464.5 126.3M459.2 131.1Q461.6 128.4 464.5 126.3M459.2 131.1Q455.2 132.9 450.7 133.1M450.7 133.1Q448.4 128.8 444.6 125.8M450.7 133.1Q448.2 138.5 447.2 144.3M442.6 146.7Q445.1 145.9 447.2 144.3M430.9 138.8Q431.7 133.7 432.3 128.7M420.4 122.5Q417.5 131.9 414.7 141.4M423.6 141.8Q419.2 140.2 414.7 141.4M336.7 86.1Q340.4 93.9 344.1 101.5M344.1 101.5Q339 106.2 332.6 108.9M339.4 140.2Q344.1 137.1 349.7 136.2M335.5 120.6Q342 122.6 348.6 124M348.6 124Q348.5 130.2 349.7 136.2M396.6 106.7Q393.1 108.1 389.9 110.2M396.1 93.6Q387 92.7 377.8 93.2M377.8 93.2Q378.6 99.4 378.2 105.6M378.2 105.6Q384.2 107.6 389.9 110.2M410.3 118.5Q407.1 123.2 402.8 127M402.8 127Q396.2 125.6 389.7 123.5M389.9 110.2Q390.5 116.8 389.7 123.5M402.4 166.6Q402.8 158.5 401.3 150.5M401.3 150.5Q404.1 146 408.3 142.9M416.6 159.5Q413.1 151.8 411.2 143.5M408.3 142.9Q409.6 143.8 411.2 143.5M429.6 153.7Q423.2 156.9 416.6 159.5M414.7 141.4Q413.2 142.8 411.2 143.5M439.8 163.6Q440.4 159.1 438.4 155M402.8 127Q403.2 134 405.7 140.6M405.7 140.6Q407.5 141.2 408.3 142.9M381.9 79.4Q379.9 81.8 377 82.5M377.8 93.2Q377.2 91.6 376.6 90M376.6 90Q377 86.3 377 82.5M351.7 55.6Q354.9 55.1 358.2 55.4M351.7 55.6Q348.6 63.3 346 71.1M358.2 55.4Q362.2 60.7 367 65.5M354.3 78.7Q359.7 78.1 364.7 75.7M354.3 78.7Q350.4 77.8 347 75.6M367 65.5Q365.5 70.5 364.7 75.7M346 71.1Q347.7 73.1 347 75.6M331.5 61.3Q339.4 65.2 346 71.1M343.8 45.5Q348.7 49.8 351.7 55.6M376.6 90Q371 92.8 364.7 93.6M377 82.5Q371.2 78.4 364.7 75.7M364.7 93.6Q360 92.1 355.7 90M355.7 90Q355 84.4 354.3 78.7M339.6 80.9Q343.3 78.1 347 75.6M350.4 102.2Q347.2 102.7 344.1 101.5M350.4 102.2Q351.9 95.6 355.7 90M385.6 63.1Q381.6 61.3 378.8 58M378.8 58Q372.4 60.9 367 65.5M378.8 58Q377.4 54 376.9 49.7M358.2 55.4Q361.2 52.1 364.5 49.1M396.9 60.9Q396 54.1 396.5 47.2M514.4 62.5Q512.3 55.9 509 49.7M501.3 108.6Q502.6 102.2 502.8 95.7M501.1 108.8Q495.1 109.8 489 110.2M483.1 91.5Q483 91.9 482.9 92.4M483.1 91.5Q490.1 90.8 497.1 90.8M502.8 95.7Q500 93.1 497.1 90.8M502.8 95.7Q511.2 93.8 519.5 91.5M460 152.8Q458.7 159.6 457.7 166.5M460 152.8Q460.8 153.7 460.5 152.6M460.5 152.6Q469.4 155.4 478.6 155.6M475.5 168Q475.9 161.5 478.6 155.6M447.2 144.3Q453.8 148.3 460 152.8M459.2 131.1Q463.9 136.2 466.4 142.8M466.4 142.8Q463.8 147.9 460.5 152.6M464.5 126.3Q472.8 132.6 482 137.5M466.4 142.8Q473.8 142 481.1 140.3M482 137.5Q481.4 138.8 481.1 140.3M482.5 116.7Q486.6 123.5 488.6 131.3M482 137.5Q485.9 135 488.6 131.3M478.6 155.6Q480.9 154 482.7 151.9M481.1 140.3Q482.4 146 482.7 151.9M501.4 121.6Q495.7 125.9 491.2 131.3M488.6 131.3Q489.9 130 491.2 131.3M509.3 137.9Q506.2 139.7 502.7 139.7M491.2 131.3Q496.5 136.2 502.7 139.7M339.3 155.6Q344.9 161.6 348.5 169M349.7 136.2Q352.9 137.7 354.7 140.7M352.6 148.4Q353.6 144.5 354.7 140.7M352.6 148.4Q345.7 151.5 339.3 155.6M358.5 159.2Q355.8 153.7 352.6 148.4M355.7 108.1Q356.9 113.2 355.5 118.3M355.7 108.1Q359.6 106.1 363.8 105.3M355.5 118.3Q359.2 120.6 363.3 121.8M363.8 105.3Q370.9 105.1 377.9 105.8M377.9 105.8Q375 114.4 370.6 122.3M363.3 121.8Q367 120.7 370.6 122.3M350.4 102.2Q353.6 104.7 355.7 108.1M348.6 124Q352.8 122.1 355.5 118.3M364.7 93.6Q365.5 99.5 363.8 105.3M361.3 140.2Q358 140.3 354.7 140.7M361.3 140.2Q363.5 131.1 363.3 121.8M370.7 155Q369.6 148.3 367.3 141.8M370.7 155Q375.5 157.4 379.7 160.7M385.6 155.7Q384 157.9 383.1 160.5M385.6 155.7Q385 147.2 386.5 138.7M367.3 141.8Q373.3 137.1 379.2 132.5M386.5 138.7Q383.8 136.1 382.1 132.7M379.2 132.5Q380.6 133.7 382.1 132.7M358.5 159.2Q364.9 158.1 370.7 155M361.3 140.2Q364.1 141.7 367.3 141.8M401.3 150.5Q393.6 153.4 385.6 155.7M405.7 140.6Q396.2 138.8 386.5 138.7M370.6 122.3Q373.9 128.3 379.2 132.5M389.7 123.5Q386.2 128.3 382.1 132.7M502.7 139.7Q501.7 145.6 500.8 151.5M512 155.8Q506.1 154.5 500.8 151.5M482.7 151.9Q488.8 153.2 494.1 156.5M495.4 163.4Q495.4 159.8 494.1 156.5M500.8 151.5Q498.2 155 494.1 156.5M502.2 70.6Q497.3 64.8 492 59.4M502.2 70.6Q503 72.8 501.6 74.7M500.4 76.1Q501.4 75.7 501.6 74.7M500.4 76.1Q493.6 75.1 486.8 75.5M486.8 75.5Q490 68 490.8 59.9M492 59.4Q491.5 59.9 490.8 59.9M496.2 49.4Q494.4 54.5 492 59.4M514.4 62.5Q508.4 66.8 502.2 70.6M518.1 83.2Q510.1 78.4 501.6 74.7M497.1 90.8Q499.5 83.7 500.4 76.1M483.1 91.5Q481.6 91.2 481.8 89.7M481.8 89.7Q479.9 84.9 478.9 79.7M478.9 79.7Q482.3 76.5 486.8 75.5M481.8 89.7Q470.7 92.1 459.4 93M478.9 79.7Q477 77.2 474.2 75.6M474.2 75.6Q466.5 77.4 459.8 81.4M459.8 81.4Q458.3 87.2 459.4 93M459.4 102Q457.3 100 457.4 97.2M457.4 97.2Q458.2 95 459.4 93M401 63.4Q407.5 62.4 413.5 59.4M416.7 48.1Q415.1 53.7 413.5 59.4M411.6 81.9Q415.8 77.2 420.6 73.1M420.6 73.1Q420.2 68.4 418.3 64.2M413.5 59.4Q415.2 62.5 418.3 64.2M444.4 76.9Q443.7 86 440.9 94.7M444.4 76.9Q440.5 74.8 436.5 72.8M429.7 76Q432.7 73.5 436.5 72.8M429.7 76Q429.9 83.8 428.3 91.5M428.3 91.5Q431.8 94.7 435.3 97.8M435.3 97.8Q437.8 95.6 440.9 94.7M459.8 81.4Q456.3 77.5 451.7 75M451.7 75Q448.2 76.3 444.4 76.9M457.4 97.2Q449.1 96.8 440.9 94.7M414.7 90.3Q421.5 91.2 428.3 91.5M420.6 73.1Q425.3 73.9 429.7 76M433.4 106.3Q433.1 101.8 435.3 97.8M418.3 64.2Q424.9 63.7 430.7 60.6M433.5 52.3Q432.9 56.7 430.7 60.6M436.5 72.8Q435.5 72.1 436.5 71.4M436.5 71.4Q433.5 66 430.7 60.6M466.4 62.8Q460.7 57.7 457.3 50.8M466.4 62.8Q469.7 64.1 473.2 63.8M475.3 61.1Q475.2 63.2 473.2 63.8M475.3 61.1Q473.1 53.5 473.4 45.5M474.2 75.6Q475 69.6 473.2 63.8M451.7 75Q452.8 71.2 453.9 67.4M453.9 67.4Q460.6 66.2 466.4 62.8M490.8 59.9Q483 59.4 475.3 61.1M438.7 50.7Q442.1 53.5 446.1 55.2M455 50.3Q452.2 53.9 447.9 55.4M446.1 55.2Q447 55.7 447.9 55.4M436.5 71.4Q440.2 62.6 446.1 55.2M453.9 67.4Q449.7 62 447.9 55.4" stroke="#108a28" stroke-width="3" filter="url(#blur2)" opacity="0.45"/>
<path d="M501.3 108.6Q510.8 110.3 520.2 113M501.1 108.8Q501.9 115.2 501.4 121.6M501.4 121.6Q504.9 123.5 508.9 124.1M508.9 124.1Q514.6 122.1 520.1 119.6M508.9 124.1Q508 131 509.3 137.9M516.6 139.2Q513 138 509.3 137.9M409.3 116Q412.2 109.9 416.2 104.4M409.3 116Q402.7 111.8 396.6 106.7M396.6 106.7Q397.1 103 399.4 100.2M399.4 100.2Q405.2 97.4 411.5 95.9M411.5 95.9Q413.6 100.3 416.2 104.4M411.6 81.9Q407.2 79.3 402.4 78M411.6 81.9Q413.7 85.9 414.7 90.3M402.4 78Q399.3 80.5 395.8 82.4M414.7 90.3Q412.3 92.7 411.5 95.9M399.4 100.2Q398.9 96.3 396.1 93.6M395.8 82.4Q397.1 88 396.1 93.6M396.9 60.9Q399.5 61.1 401 63.4M396.9 60.9Q391.1 61.3 385.6 63.1M385.6 63.1Q383.7 71.3 381.9 79.4M401 63.4Q401.9 70.7 402.4 78M395.8 82.4Q388.9 80.5 381.9 79.4M454.7 111.6Q459.3 118.3 464.9 124M454.7 111.6Q456 106.3 459.4 102M464.9 124Q471 120.2 475.3 114.6M475.3 114.6Q474.4 109.8 471.2 106.1M459.4 102Q465.4 103.8 471.2 106.1M489 110.2Q485.9 101.3 482.9 92.4M489 110.2Q486.2 113.9 482.5 116.7M482.5 116.7Q478.9 115.4 475.3 114.6M471.2 106.1Q476.4 98.7 482.9 92.4M438.4 155Q440.6 150.9 442.6 146.7M438.4 155Q434.2 153.3 429.6 153.7M442.6 146.7Q436.8 142.7 430.9 138.8M429.6 153.7Q427.4 147.3 423.6 141.8M430.9 138.8Q427.6 141.1 423.6 141.8M433.4 106.3Q431.3 106.3 430.5 108.2M433.4 106.3Q439.9 110.4 445.1 116.1M430.5 108.2Q427.6 115.3 423.3 121.6M445.1 116.1Q444.2 120.9 444.6 125.8M444.6 125.8Q438.5 127.8 432.3 128.7M423.3 121.6Q428.5 124.3 432.3 128.7M410.3 118.5Q415.8 119.4 420.4 122.5M410.3 118.5Q410.6 116.9 409.3 116M416.2 104.4Q423.7 105 430.5 108.2M420.4 122.5Q421.5 120.9 423.3 121.6M454.7 111.6Q449.4 112.7 445.1 116.1M464.9 124Q463.9 124.9 464.5 126.3M459.2 131.1Q461.6 128.4 464.5 126.3M459.2 131.1Q455.2 132.9 450.7 133.1M450.7 133.1Q448.4 128.8 444.6 125.8M450.7 133.1Q448.2 138.5 447.2 144.3M442.6 146.7Q445.1 145.9 447.2 144.3M430.9 138.8Q431.7 133.7 432.3 128.7M420.4 122.5Q417.5 131.9 414.7 141.4M423.6 141.8Q419.2 140.2 414.7 141.4M336.7 86.1Q340.4 93.9 344.1 101.5M344.1 101.5Q339 106.2 332.6 108.9M339.4 140.2Q344.1 137.1 349.7 136.2M335.5 120.6Q342 122.6 348.6 124M348.6 124Q348.5 130.2 349.7 136.2M396.6 106.7Q393.1 108.1 389.9 110.2M396.1 93.6Q387 92.7 377.8 93.2M377.8 93.2Q378.6 99.4 378.2 105.6M378.2 105.6Q384.2 107.6 389.9 110.2M410.3 118.5Q407.1 123.2 402.8 127M402.8 127Q396.2 125.6 389.7 123.5M389.9 110.2Q390.5 116.8 389.7 123.5M402.4 166.6Q402.8 158.5 401.3 150.5M401.3 150.5Q404.1 146 408.3 142.9M416.6 159.5Q413.1 151.8 411.2 143.5M408.3 142.9Q409.6 143.8 411.2 143.5M429.6 153.7Q423.2 156.9 416.6 159.5M414.7 141.4Q413.2 142.8 411.2 143.5M439.8 163.6Q440.4 159.1 438.4 155M402.8 127Q403.2 134 405.7 140.6M405.7 140.6Q407.5 141.2 408.3 142.9M381.9 79.4Q379.9 81.8 377 82.5M377.8 93.2Q377.2 91.6 376.6 90M376.6 90Q377 86.3 377 82.5M351.7 55.6Q354.9 55.1 358.2 55.4M351.7 55.6Q348.6 63.3 346 71.1M358.2 55.4Q362.2 60.7 367 65.5M354.3 78.7Q359.7 78.1 364.7 75.7M354.3 78.7Q350.4 77.8 347 75.6M367 65.5Q365.5 70.5 364.7 75.7M346 71.1Q347.7 73.1 347 75.6M331.5 61.3Q339.4 65.2 346 71.1M343.8 45.5Q348.7 49.8 351.7 55.6M376.6 90Q371 92.8 364.7 93.6M377 82.5Q371.2 78.4 364.7 75.7M364.7 93.6Q360 92.1 355.7 90M355.7 90Q355 84.4 354.3 78.7M339.6 80.9Q343.3 78.1 347 75.6M350.4 102.2Q347.2 102.7 344.1 101.5M350.4 102.2Q351.9 95.6 355.7 90M385.6 63.1Q381.6 61.3 378.8 58M378.8 58Q372.4 60.9 367 65.5M378.8 58Q377.4 54 376.9 49.7M358.2 55.4Q361.2 52.1 364.5 49.1M396.9 60.9Q396 54.1 396.5 47.2M514.4 62.5Q512.3 55.9 509 49.7M501.3 108.6Q502.6 102.2 502.8 95.7M501.1 108.8Q495.1 109.8 489 110.2M483.1 91.5Q483 91.9 482.9 92.4M483.1 91.5Q490.1 90.8 497.1 90.8M502.8 95.7Q500 93.1 497.1 90.8M502.8 95.7Q511.2 93.8 519.5 91.5M460 152.8Q458.7 159.6 457.7 166.5M460 152.8Q460.8 153.7 460.5 152.6M460.5 152.6Q469.4 155.4 478.6 155.6M475.5 168Q475.9 161.5 478.6 155.6M447.2 144.3Q453.8 148.3 460 152.8M459.2 131.1Q463.9 136.2 466.4 142.8M466.4 142.8Q463.8 147.9 460.5 152.6M464.5 126.3Q472.8 132.6 482 137.5M466.4 142.8Q473.8 142 481.1 140.3M482 137.5Q481.4 138.8 481.1 140.3M482.5 116.7Q486.6 123.5 488.6 131.3M482 137.5Q485.9 135 488.6 131.3M478.6 155.6Q480.9 154 482.7 151.9M481.1 140.3Q482.4 146 482.7 151.9M501.4 121.6Q495.7 125.9 491.2 131.3M488.6 131.3Q489.9 130 491.2 131.3M509.3 137.9Q506.2 139.7 502.7 139.7M491.2 131.3Q496.5 136.2 502.7 139.7M339.3 155.6Q344.9 161.6 348.5 169M349.7 136.2Q352.9 137.7 354.7 140.7M352.6 148.4Q353.6 144.5 354.7 140.7M352.6 148.4Q345.7 151.5 339.3 155.6M358.5 159.2Q355.8 153.7 352.6 148.4M355.7 108.1Q356.9 113.2 355.5 118.3M355.7 108.1Q359.6 106.1 363.8 105.3M355.5 118.3Q359.2 120.6 363.3 121.8M363.8 105.3Q370.9 105.1 377.9 105.8M377.9 105.8Q375 114.4 370.6 122.3M363.3 121.8Q367 120.7 370.6 122.3M350.4 102.2Q353.6 104.7 355.7 108.1M348.6 124Q352.8 122.1 355.5 118.3M364.7 93.6Q365.5 99.5 363.8 105.3M361.3 140.2Q358 140.3 354.7 140.7M361.3 140.2Q363.5 131.1 363.3 121.8M370.7 155Q369.6 148.3 367.3 141.8M370.7 155Q375.5 157.4 379.7 160.7M385.6 155.7Q384 157.9 383.1 160.5M385.6 155.7Q385 147.2 386.5 138.7M367.3 141.8Q373.3 137.1 379.2 132.5M386.5 138.7Q383.8 136.1 382.1 132.7M379.2 132.5Q380.6 133.7 382.1 132.7M358.5 159.2Q364.9 158.1 370.7 155M361.3 140.2Q364.1 141.7 367.3 141.8M401.3 150.5Q393.6 153.4 385.6 155.7M405.7 140.6Q396.2 138.8 386.5 138.7M370.6 122.3Q373.9 128.3 379.2 132.5M389.7 123.5Q386.2 128.3 382.1 132.7M502.7 139.7Q501.7 145.6 500.8 151.5M512 155.8Q506.1 154.5 500.8 151.5M482.7 151.9Q488.8 153.2 494.1 156.5M495.4 163.4Q495.4 159.8 494.1 156.5M500.8 151.5Q498.2 155 494.1 156.5M502.2 70.6Q497.3 64.8 492 59.4M502.2 70.6Q503 72.8 501.6 74.7M500.4 76.1Q501.4 75.7 501.6 74.7M500.4 76.1Q493.6 75.1 486.8 75.5M486.8 75.5Q490 68 490.8 59.9M492 59.4Q491.5 59.9 490.8 59.9M496.2 49.4Q494.4 54.5 492 59.4M514.4 62.5Q508.4 66.8 502.2 70.6M518.1 83.2Q510.1 78.4 501.6 74.7M497.1 90.8Q499.5 83.7 500.4 76.1M483.1 91.5Q481.6 91.2 481.8 89.7M481.8 89.7Q479.9 84.9 478.9 79.7M478.9 79.7Q482.3 76.5 486.8 75.5M481.8 89.7Q470.7 92.1 459.4 93M478.9 79.7Q477 77.2 474.2 75.6M474.2 75.6Q466.5 77.4 459.8 81.4M459.8 81.4Q458.3 87.2 459.4 93M459.4 102Q457.3 100 457.4 97.2M457.4 97.2Q458.2 95 459.4 93M401 63.4Q407.5 62.4 413.5 59.4M416.7 48.1Q415.1 53.7 413.5 59.4M411.6 81.9Q415.8 77.2 420.6 73.1M420.6 73.1Q420.2 68.4 418.3 64.2M413.5 59.4Q415.2 62.5 418.3 64.2M444.4 76.9Q443.7 86 440.9 94.7M444.4 76.9Q440.5 74.8 436.5 72.8M429.7 76Q432.7 73.5 436.5 72.8M429.7 76Q429.9 83.8 428.3 91.5M428.3 91.5Q431.8 94.7 435.3 97.8M435.3 97.8Q437.8 95.6 440.9 94.7M459.8 81.4Q456.3 77.5 451.7 75M451.7 75Q448.2 76.3 444.4 76.9M457.4 97.2Q449.1 96.8 440.9 94.7M414.7 90.3Q421.5 91.2 428.3 91.5M420.6 73.1Q425.3 73.9 429.7 76M433.4 106.3Q433.1 101.8 435.3 97.8M418.3 64.2Q424.9 63.7 430.7 60.6M433.5 52.3Q432.9 56.7 430.7 60.6M436.5 72.8Q435.5 72.1 436.5 71.4M436.5 71.4Q433.5 66 430.7 60.6M466.4 62.8Q460.7 57.7 457.3 50.8M466.4 62.8Q469.7 64.1 473.2 63.8M475.3 61.1Q475.2 63.2 473.2 63.8M475.3 61.1Q473.1 53.5 473.4 45.5M474.2 75.6Q475 69.6 473.2 63.8M451.7 75Q452.8 71.2 453.9 67.4M453.9 67.4Q460.6 66.2 466.4 62.8M490.8 59.9Q483 59.4 475.3 61.1M438.7 50.7Q442.1 53.5 446.1 55.2M455 50.3Q452.2 53.9 447.9 55.4M446.1 55.2Q447 55.7 447.9 55.4M436.5 71.4Q440.2 62.6 446.1 55.2M453.9 67.4Q449.7 62 447.9 55.4" stroke="#3ccc48" stroke-width="1.4" filter="url(#blur05)"/>
</g>

<rect x="346.3" y="56" width="159.9" height="97.7" fill="none" stroke="#000" stroke-opacity="0.7" stroke-width="1"/>
</g>
<clipPath id="c4"><rect x="512" y="55.5" width="160.9" height="98.7"/></clipPath>
<g clip-path="url(#c4)">
<rect x="512" y="55.5" width="160.9" height="98.7" fill="#032416"/>
<g fill="none" stroke-linejoin="round" stroke-linecap="round">
<path d="M538.3 122Q537.4 128.1 539 134M538.3 122Q543.7 117 550.7 114.4M550.7 114.4Q552.2 115.5 554.2 115.6M539 134Q546.7 134.6 554 137.1M554 137.1Q554.3 126.6 554.5 116.1M554.2 115.6Q553.5 116.3 554.5 116.1M582.1 130.7Q583 126.3 584.6 122.1M582.1 130.7Q568.7 134.1 555.7 138.6M555.7 138.6Q555 139 554.6 138.3M554.6 138.3Q554.5 137.6 554 137.1M584.6 122.1Q569.7 118.5 554.5 116.1M638.6 134.4Q633 130.4 627.3 126.7M638.6 134.4Q644.7 130.3 651.4 127M652.1 116.1Q651.1 121.5 651.4 127M652.1 116.1Q642 117.4 631.9 116.8M631.9 116.8Q630 121.9 627.3 126.7M610.9 139.1Q619.3 133.5 626.8 126.7M610.9 139.1Q605.1 130.2 599.3 121.2M614 114.1Q621.2 119.6 626.8 126.7M614 114.1Q610 114 606.2 114.9M599.3 121.2Q603.5 118.9 606.2 114.9M584.7 142.8Q592.8 145.9 600.1 150.6M584.7 142.8Q584.6 136.5 582.1 130.7M610.9 139.1Q612.1 140.6 610.6 141.8M584.6 122.1Q585.7 122.8 585 121.7M599.3 121.2Q592.1 121.2 585 121.7M600.1 150.6Q604.9 145.7 610.6 141.8M558.6 170.3Q564.5 161.7 571.9 154.4M571.9 154.4Q573.1 154 574.4 154M574.4 154Q579.4 159.7 584.1 165.7M584.7 142.8Q579.6 148.4 574.4 154M555.7 138.6Q563.7 146.5 571.9 154.4M600.2 156.5Q599 153.6 600.1 150.6M600.2 156.5Q592.5 161.7 584.1 165.7M605.2 165Q601.8 161.2 600.2 156.5M661.6 147.1Q663.3 141.3 663.2 135.2M661.6 147.1Q664.9 148.1 667.3 150.7M667.3 150.7Q673.5 148.6 679.4 145.6M663.2 135.2Q669.3 131.9 676.2 130.8M667.3 150.7Q671 156.6 675.5 162.1M522.1 121.7Q530.2 121.7 538.3 122M522.1 121.7Q522.5 116.1 523 110.4M550.7 114.4Q546.2 109.3 540.9 105.4M523 110.4Q531.8 107.4 540.9 105.4M684.1 74.2Q675.4 75.8 667.1 78.6M667.1 78.6Q666.4 72.5 663.5 67.1M663.5 67.1Q669.4 61.7 674.3 55.5M684.5 67.3Q679.7 61.2 674.3 55.5M660.5 48Q657.4 54.8 655.3 62M663.5 67.1Q660 63.6 655.3 62M674.3 55.5Q672.4 52.9 673 49.7M614 114.1Q620.3 108.3 624.4 100.9M631.9 116.8Q631.6 111 631.4 105.2M624.4 100.9Q627.3 104 631.4 105.2M606.2 114.9Q602.6 104.2 601.4 93.1M601.4 93.1Q611.3 91.3 621.4 90.7M624.4 100.9Q623.1 95.7 621.4 90.7M500.3 118.7Q509.1 123.7 518.2 128.3M504.5 139.1Q512.1 134.7 518.2 128.3M522.1 121.7Q520.9 125.2 518.7 128.3M539 134Q532.6 136.3 525.8 137.3M518.7 128.3Q522 133 525.8 137.3M554.6 138.3Q550.8 146.6 545.4 154M545.4 154Q536.4 146.2 526.1 140.4M525.8 137.3Q526.7 138.8 526.1 140.4M518.2 128.3Q518.3 126.9 518.7 128.3M526.1 140.4Q521.9 148.9 518.4 157.6M545.4 154Q546 156.5 545.1 159M661.6 147.1Q653.8 152 647.4 158.7M578.6 84.1Q571.9 90.6 563.9 95.3M578.6 84.1Q583 91.2 587.4 98.3M587.4 98.3Q584.8 101.6 582.7 105.2M582.7 105.2Q573.6 101.6 564.6 98.1M564.6 98.1Q563.1 97 563.9 95.3M600.4 92.6Q599 86.6 597.5 80.7M600.4 92.6Q594.3 96.4 587.4 98.3M579.8 76Q580.5 80.3 578.6 84.1M579.8 76Q582.9 74 584.1 70.5M597.5 80.7Q590.4 76.2 584.1 70.5M585 121.7Q582.6 113.6 582.7 105.2M600.4 92.6Q601.5 91.6 601.4 93.1M554.2 115.6Q560.3 107.4 564.6 98.1M582.9 60.4Q582.4 61.6 583.6 61.9M582.9 60.4Q580.8 58.3 578 57.3M579.8 76Q569.9 76.5 560.1 78.5M560.1 78.5Q559.2 71.5 559.5 64.4M584.1 70.5Q584.1 66.2 583.6 61.9M559.5 64.4Q569 61.5 578 57.3M582.9 60.4Q585.4 56.6 589 53.6M595.1 36.7Q591.4 45 589 53.6M578 57.3Q575.6 49.8 571.7 43M664.9 90.3Q663.2 87.9 661.5 85.6M664.9 90.3Q664.3 99.6 664.6 108.8M661.5 85.6Q657.1 87.1 652.7 86M652.7 86Q651 88.3 648.9 90.2M648.9 90.2Q647.9 97 645.9 103.5M645.9 103.5Q649.6 108.7 652.7 114.2M652.7 114.2Q658.4 113.5 663.3 110.5M664.6 108.8Q662.9 109 663.3 110.5M667.1 78.6Q665.2 82.8 661.5 85.6M684.9 98.3Q675 94.1 664.9 90.3M684.5 104.3Q674.7 107.4 664.6 108.8M641 66.9Q648.3 64.9 655.3 62M641 66.9Q645.7 77.1 652.7 86M622.9 87.9Q623 89.8 621.4 90.7M622.9 87.9Q636 88.7 648.9 90.2M631.4 105.2Q638.6 103.9 645.9 103.5M652.1 116.1Q653 115.3 652.7 114.2M651.4 127Q656.8 131.9 663.2 135.2M676.6 124.6Q669 118.5 663.3 110.5M597.5 80.7Q603.7 74.9 610.9 70.4M583.6 61.9Q595 61.7 606.4 62.1M610.9 70.4Q609.8 65.6 606.4 62.1M589 53.6Q601 50.8 612.5 46.7M606.4 62.1Q609.8 54.5 612.5 46.7M621 163.5Q620.7 154.8 617.8 146.7M621.6 163.8Q630.9 158.2 640.4 153.1M617.8 146.7Q627.6 147.6 637.5 146.7M637.5 146.7Q639.6 149.6 640.4 153.1M610.6 141.8Q614.5 143.7 617.8 146.7M647.4 158.7Q644.6 155 640.4 153.1M638.6 134.4Q637.1 140.5 637.5 146.7M512 46.7Q508.9 53.2 506.6 59.9M523 110.4Q519.6 107.5 517.7 103.5M517.7 103.5Q508.8 105.5 499.6 106.4M540.9 105.4Q542.2 99.3 541.1 93.3M519.8 87Q518.9 95.3 517.7 103.5M519.8 87Q522.5 84 526.5 83.3M526.5 83.3Q534.2 87.7 541.1 93.3M563.9 95.3Q560 90.3 555.7 85.6M541.1 93.3Q548.8 90.3 555.7 85.6M560.1 78.5Q558 82 555.7 85.3M553.2 51.4Q553.7 56.1 552.8 60.8M552.8 60.8Q544.4 62.9 536.5 66.5M532.1 47.5Q533.9 56.8 534.6 66.3M534.6 66.3Q535.6 65.7 536.5 66.5M559.5 64.4Q556.2 62.4 552.8 60.8M555.7 85.3Q546.1 75.8 536.5 66.5M506.6 59.9Q518.9 65.2 531.9 68.5M531.9 68.5Q533.1 67.3 534.6 66.3M526.5 83.3Q529.6 76 531.9 68.5M623.1 85.6Q618.7 78.7 614.6 71.6M623.1 85.6Q632.3 76.6 640.9 66.8M614.6 71.6Q622.9 65.5 629.7 57.6M640.9 66.8Q637.1 63.2 635.2 58.3M635.2 58.3Q632.6 56.9 629.7 57.6M622.9 87.9Q624.1 86.8 623.1 85.6M610.9 70.4Q612.9 70.6 614.6 71.6M614 45.9Q622.7 50.7 629.7 57.6M642.3 43.9Q638.9 51.1 635.2 58.3M503.3 87.8Q509.3 87 515.2 85.3M515.2 85.3Q509.2 77 504.7 67.9M519.8 87Q517.2 87 515.2 85.3" stroke="#0e6a36" stroke-width="3" filter="url(#blur2)" opacity="0.5"/>
<path d="M538.3 122Q537.4 128.1 539 134M538.3 122Q543.7 117 550.7 114.4M550.7 114.4Q552.2 115.5 554.2 115.6M539 134Q546.7 134.6 554 137.1M554 137.1Q554.3 126.6 554.5 116.1M554.2 115.6Q553.5 116.3 554.5 116.1M582.1 130.7Q583 126.3 584.6 122.1M582.1 130.7Q568.7 134.1 555.7 138.6M555.7 138.6Q555 139 554.6 138.3M554.6 138.3Q554.5 137.6 554 137.1M584.6 122.1Q569.7 118.5 554.5 116.1M638.6 134.4Q633 130.4 627.3 126.7M638.6 134.4Q644.7 130.3 651.4 127M652.1 116.1Q651.1 121.5 651.4 127M652.1 116.1Q642 117.4 631.9 116.8M631.9 116.8Q630 121.9 627.3 126.7M610.9 139.1Q619.3 133.5 626.8 126.7M610.9 139.1Q605.1 130.2 599.3 121.2M614 114.1Q621.2 119.6 626.8 126.7M614 114.1Q610 114 606.2 114.9M599.3 121.2Q603.5 118.9 606.2 114.9M584.7 142.8Q592.8 145.9 600.1 150.6M584.7 142.8Q584.6 136.5 582.1 130.7M610.9 139.1Q612.1 140.6 610.6 141.8M584.6 122.1Q585.7 122.8 585 121.7M599.3 121.2Q592.1 121.2 585 121.7M600.1 150.6Q604.9 145.7 610.6 141.8M558.6 170.3Q564.5 161.7 571.9 154.4M571.9 154.4Q573.1 154 574.4 154M574.4 154Q579.4 159.7 584.1 165.7M584.7 142.8Q579.6 148.4 574.4 154M555.7 138.6Q563.7 146.5 571.9 154.4M600.2 156.5Q599 153.6 600.1 150.6M600.2 156.5Q592.5 161.7 584.1 165.7M605.2 165Q601.8 161.2 600.2 156.5M661.6 147.1Q663.3 141.3 663.2 135.2M661.6 147.1Q664.9 148.1 667.3 150.7M667.3 150.7Q673.5 148.6 679.4 145.6M663.2 135.2Q669.3 131.9 676.2 130.8M667.3 150.7Q671 156.6 675.5 162.1M522.1 121.7Q530.2 121.7 538.3 122M522.1 121.7Q522.5 116.1 523 110.4M550.7 114.4Q546.2 109.3 540.9 105.4M523 110.4Q531.8 107.4 540.9 105.4M684.1 74.2Q675.4 75.8 667.1 78.6M667.1 78.6Q666.4 72.5 663.5 67.1M663.5 67.1Q669.4 61.7 674.3 55.5M684.5 67.3Q679.7 61.2 674.3 55.5M660.5 48Q657.4 54.8 655.3 62M663.5 67.1Q660 63.6 655.3 62M674.3 55.5Q672.4 52.9 673 49.7M614 114.1Q620.3 108.3 624.4 100.9M631.9 116.8Q631.6 111 631.4 105.2M624.4 100.9Q627.3 104 631.4 105.2M606.2 114.9Q602.6 104.2 601.4 93.1M601.4 93.1Q611.3 91.3 621.4 90.7M624.4 100.9Q623.1 95.7 621.4 90.7M500.3 118.7Q509.1 123.7 518.2 128.3M504.5 139.1Q512.1 134.7 518.2 128.3M522.1 121.7Q520.9 125.2 518.7 128.3M539 134Q532.6 136.3 525.8 137.3M518.7 128.3Q522 133 525.8 137.3M554.6 138.3Q550.8 146.6 545.4 154M545.4 154Q536.4 146.2 526.1 140.4M525.8 137.3Q526.7 138.8 526.1 140.4M518.2 128.3Q518.3 126.9 518.7 128.3M526.1 140.4Q521.9 148.9 518.4 157.6M545.4 154Q546 156.5 545.1 159M661.6 147.1Q653.8 152 647.4 158.7M578.6 84.1Q571.9 90.6 563.9 95.3M578.6 84.1Q583 91.2 587.4 98.3M587.4 98.3Q584.8 101.6 582.7 105.2M582.7 105.2Q573.6 101.6 564.6 98.1M564.6 98.1Q563.1 97 563.9 95.3M600.4 92.6Q599 86.6 597.5 80.7M600.4 92.6Q594.3 96.4 587.4 98.3M579.8 76Q580.5 80.3 578.6 84.1M579.8 76Q582.9 74 584.1 70.5M597.5 80.7Q590.4 76.2 584.1 70.5M585 121.7Q582.6 113.6 582.7 105.2M600.4 92.6Q601.5 91.6 601.4 93.1M554.2 115.6Q560.3 107.4 564.6 98.1M582.9 60.4Q582.4 61.6 583.6 61.9M582.9 60.4Q580.8 58.3 578 57.3M579.8 76Q569.9 76.5 560.1 78.5M560.1 78.5Q559.2 71.5 559.5 64.4M584.1 70.5Q584.1 66.2 583.6 61.9M559.5 64.4Q569 61.5 578 57.3M582.9 60.4Q585.4 56.6 589 53.6M595.1 36.7Q591.4 45 589 53.6M578 57.3Q575.6 49.8 571.7 43M664.9 90.3Q663.2 87.9 661.5 85.6M664.9 90.3Q664.3 99.6 664.6 108.8M661.5 85.6Q657.1 87.1 652.7 86M652.7 86Q651 88.3 648.9 90.2M648.9 90.2Q647.9 97 645.9 103.5M645.9 103.5Q649.6 108.7 652.7 114.2M652.7 114.2Q658.4 113.5 663.3 110.5M664.6 108.8Q662.9 109 663.3 110.5M667.1 78.6Q665.2 82.8 661.5 85.6M684.9 98.3Q675 94.1 664.9 90.3M684.5 104.3Q674.7 107.4 664.6 108.8M641 66.9Q648.3 64.9 655.3 62M641 66.9Q645.7 77.1 652.7 86M622.9 87.9Q623 89.8 621.4 90.7M622.9 87.9Q636 88.7 648.9 90.2M631.4 105.2Q638.6 103.9 645.9 103.5M652.1 116.1Q653 115.3 652.7 114.2M651.4 127Q656.8 131.9 663.2 135.2M676.6 124.6Q669 118.5 663.3 110.5M597.5 80.7Q603.7 74.9 610.9 70.4M583.6 61.9Q595 61.7 606.4 62.1M610.9 70.4Q609.8 65.6 606.4 62.1M589 53.6Q601 50.8 612.5 46.7M606.4 62.1Q609.8 54.5 612.5 46.7M621 163.5Q620.7 154.8 617.8 146.7M621.6 163.8Q630.9 158.2 640.4 153.1M617.8 146.7Q627.6 147.6 637.5 146.7M637.5 146.7Q639.6 149.6 640.4 153.1M610.6 141.8Q614.5 143.7 617.8 146.7M647.4 158.7Q644.6 155 640.4 153.1M638.6 134.4Q637.1 140.5 637.5 146.7M512 46.7Q508.9 53.2 506.6 59.9M523 110.4Q519.6 107.5 517.7 103.5M517.7 103.5Q508.8 105.5 499.6 106.4M540.9 105.4Q542.2 99.3 541.1 93.3M519.8 87Q518.9 95.3 517.7 103.5M519.8 87Q522.5 84 526.5 83.3M526.5 83.3Q534.2 87.7 541.1 93.3M563.9 95.3Q560 90.3 555.7 85.6M541.1 93.3Q548.8 90.3 555.7 85.6M560.1 78.5Q558 82 555.7 85.3M553.2 51.4Q553.7 56.1 552.8 60.8M552.8 60.8Q544.4 62.9 536.5 66.5M532.1 47.5Q533.9 56.8 534.6 66.3M534.6 66.3Q535.6 65.7 536.5 66.5M559.5 64.4Q556.2 62.4 552.8 60.8M555.7 85.3Q546.1 75.8 536.5 66.5M506.6 59.9Q518.9 65.2 531.9 68.5M531.9 68.5Q533.1 67.3 534.6 66.3M526.5 83.3Q529.6 76 531.9 68.5M623.1 85.6Q618.7 78.7 614.6 71.6M623.1 85.6Q632.3 76.6 640.9 66.8M614.6 71.6Q622.9 65.5 629.7 57.6M640.9 66.8Q637.1 63.2 635.2 58.3M635.2 58.3Q632.6 56.9 629.7 57.6M622.9 87.9Q624.1 86.8 623.1 85.6M610.9 70.4Q612.9 70.6 614.6 71.6M614 45.9Q622.7 50.7 629.7 57.6M642.3 43.9Q638.9 51.1 635.2 58.3M503.3 87.8Q509.3 87 515.2 85.3M515.2 85.3Q509.2 77 504.7 67.9M519.8 87Q517.2 87 515.2 85.3" stroke="#26a852" stroke-width="1.3" filter="url(#blur05)"/>
</g>

<rect x="512.5" y="56" width="159.9" height="97.7" fill="none" stroke="#000" stroke-opacity="0.7" stroke-width="1"/>
</g>
<clipPath id="c5"><rect x="678.2" y="55.5" width="160.9" height="98.7"/></clipPath>
<g clip-path="url(#c5)">
<rect x="678.2" y="55.5" width="160.9" height="98.7" fill="#010e02"/>
<g fill="none" stroke-linejoin="round" stroke-linecap="round">
<path d="M776.7 79.7Q785.5 84.3 794.2 89.2M776.7 79.7Q773.6 85 770 89.9M770 89.9Q769.2 92.8 769.5 95.8M794.2 89.2Q794.4 94.1 796.3 98.7M770.6 97.9Q769.6 97.1 769.5 95.8M770.6 97.9Q783.1 98.6 795.5 99.5M795.5 99.5Q795 98.3 796.3 98.7M798.5 71.2Q799.6 72.7 799.9 74.6M798.5 71.2Q793.4 68.4 787.6 67.9M778.9 70.6Q783.2 69.3 787.6 67.9M778.9 70.6Q777.6 75.1 776.7 79.7M799.9 74.6Q796.8 81.8 794.2 89.2M808.7 96.3Q802.4 97.3 796.3 98.7M808.7 96.3Q810.5 89.5 810.7 82.3M810.7 82.3Q804.9 79 799.9 74.6M770 89.9Q761.9 84.2 754.4 77.7M769.5 95.8Q760.7 95.5 752.2 97.3M752.2 97.3Q747.6 94.8 742.9 92.3M742.9 92.3Q749.7 85.8 754.4 77.7M851.7 42.3Q846.4 51 839.5 58.6M839.5 58.6Q844.3 66.2 850.3 72.8M778.9 70.6Q775 67.2 771.2 63.6M754.4 77.7Q753.3 73.6 752.3 69.5M771.2 63.6Q761.4 65.6 752.3 69.5M742.9 92.3Q740.2 93.3 737.5 92.2M737.5 92.2Q734.1 86.5 730.6 80.9M730.6 80.9Q733.8 72.7 738.2 65.2M738.2 65.2Q739.8 63.8 741.8 63.2M752.3 69.5Q747.5 65.6 741.8 63.2M821 78.5Q820.7 73.6 821.1 68.7M821 78.5Q815.5 79.7 810.7 82.3M798.5 71.2Q802.6 65.4 808.5 61.6M821.1 68.7Q815.5 63.9 808.5 61.6M660.1 58.6Q671.6 51.3 681.5 42M821 78.5Q827.9 84.7 835.4 90.2M839.5 58.6Q837.8 59 836.7 57.8M821.1 68.7Q829.2 63.6 836.7 57.8M848.7 80.5Q842.5 86 835.4 90.2M787.6 67.9Q789.3 56.8 791.7 45.7M771.2 63.6Q768.7 55.2 768.7 46.5M741.8 63.2Q742.2 56.5 744.9 50.5M836.7 57.8Q829.5 51.1 823.8 43.2M808.5 61.6Q807.8 56.9 808.9 52.4M714.7 55.6Q726.1 61.3 738.2 65.2M714.7 55.6Q713.2 63.2 710.2 70.3M730.6 80.9Q722.8 80.2 715 81.5M715 81.5Q711.4 76.4 710.2 70.3M729.4 107.8Q732.4 99.4 737.5 92.2M729.4 107.8Q719.1 105.6 709.5 101.2M709.5 101.2Q710.6 95.4 709.3 89.7M715 81.5Q711.4 85.1 709.3 89.7M661.6 124.4Q670.6 122.8 679.6 124M661 142.2Q669 146.4 677.7 148.2M679.6 124Q684.1 127.2 687.6 131.6M687.6 131.6Q688.6 136.9 688.4 142.3M688.4 142.3Q682.9 145.1 677.7 148.2M674.2 160.4Q675.1 154.1 677.7 148.2M704.4 122.1Q705.5 114.2 703.9 106.4M704.4 122.1Q696.2 127.2 687.6 131.6M703.9 106.4Q699.5 105.6 695 105.2M683.2 109.9Q689.2 107.7 695 105.2M683.2 109.9Q682 117.1 679.6 124M690.2 162.9Q694.9 157.1 698.4 150.6M698.4 150.6Q694.3 145.4 688.4 142.3M704.4 122.1Q709.8 125.8 715.4 129.1M705 151.9Q701.5 152.4 698.4 150.6M705 151.9Q712.3 147.4 718.6 141.4M718.6 141.4Q717.4 135.1 715.4 129.1M729.4 107.8Q730.4 110.3 731.3 112.9M709.5 101.2Q706.4 103.5 703.9 106.4M715.4 129.1Q722.9 120.5 731.3 112.9M705 151.9Q708.2 159 710.4 166.5M718.6 141.4Q720.7 142 722.8 142.6M722.8 142.6Q729.8 153.3 734.7 165.2M688.1 46.5Q688 58.4 688.3 70.2M688.3 70.2Q687.1 74.1 684.2 77M659.7 67.4Q672.2 71.6 684.2 77M683.2 109.9Q678 102.2 671.1 96.1M695 105.2Q689.8 93.9 684.1 82.8M671.1 96.1Q677.1 88.9 684.1 82.8M709.3 89.7Q697.2 85 684.7 81.4M710.2 70.3Q699.3 68.9 688.3 70.2M684.2 77Q683.4 79.3 684.7 81.4M684.7 81.4Q683.6 81.7 684.1 82.8M714.7 55.6Q712.3 50.8 710.8 45.6M837.9 133Q846.7 127 855.3 120.7M837.9 133Q836.3 132.8 834.8 133.2M834.7 133.1Q828.4 124.3 824.2 114.3M824.2 114.3Q825.8 110.8 826.4 106.9M851.4 111.4Q841 107.4 830.6 103.4M826.4 106.9Q828.5 105.2 830.6 103.4M850.2 140.6Q844.4 136.2 837.9 133M833.1 159.8Q832.8 146.4 834.8 133.2M835.4 90.2Q833.7 97.1 830.6 103.4M808.7 96.3Q816.8 102.8 826.4 106.9M834.7 133.1Q823.8 138.1 812.6 142.1M824.2 114.3Q815.9 119.1 807 122.7M812.6 142.1Q808.6 132.7 807 122.7M816.3 163.5Q811.6 159 807.8 153.9M812.6 142.1Q810 147.9 807.8 153.9M795.5 99.5Q796.7 110.4 795.3 121.3M795.3 121.3Q801.2 121.4 807 122.7M770.6 97.9Q771.1 106.7 770.1 115.5M795.3 121.3Q791.6 124.8 786.8 126.6M770.1 115.5Q778 121.7 786.8 126.6M742.6 135.6Q742.4 126.7 739.6 118.4M742.6 135.6Q743.8 137.8 746.3 138M746.3 138Q752.3 135.5 758.3 133.2M758.3 133.2Q761.1 124.8 766.1 117.6M766.1 117.6Q757.3 116.5 748.6 114.6M748.6 114.6Q744.1 116.4 739.6 118.4M722.8 142.6Q732.6 138.8 742.6 135.6M731.3 112.9Q735.1 116.2 739.6 118.4M734.7 165.2Q742.7 158.6 749.7 150.9M749.7 150.9Q749.1 144.2 746.3 138M752.2 97.3Q750.5 106 748.6 114.6M770.1 115.5Q768.4 117.2 766.1 117.6M749.7 150.9Q753.4 154 758.1 155.1M758.1 155.1Q758.3 166.6 760.6 177.8M796.1 151.8Q790.3 141.1 786.4 129.5M796.1 151.8Q790.1 157.4 783.2 161.7M783.2 161.7Q776.7 155.9 769.7 150.9M786.4 129.5Q778.1 135.1 771.1 142.1M771.1 142.1Q769.1 146.3 769.7 150.9M807.8 153.9Q801.7 154.2 796.1 151.8M786.8 126.6Q787.4 128.2 786.4 129.5M758.1 155.1Q763.8 152.8 769.7 150.9M758.3 133.2Q764.6 137.8 771.1 142.1" stroke="#0b7010" stroke-width="3.5" filter="url(#blur2)" opacity="0.6"/>
<path d="M776.7 79.7Q785.5 84.3 794.2 89.2M776.7 79.7Q773.6 85 770 89.9M770 89.9Q769.2 92.8 769.5 95.8M794.2 89.2Q794.4 94.1 796.3 98.7M770.6 97.9Q769.6 97.1 769.5 95.8M770.6 97.9Q783.1 98.6 795.5 99.5M795.5 99.5Q795 98.3 796.3 98.7M798.5 71.2Q799.6 72.7 799.9 74.6M798.5 71.2Q793.4 68.4 787.6 67.9M778.9 70.6Q783.2 69.3 787.6 67.9M778.9 70.6Q777.6 75.1 776.7 79.7M799.9 74.6Q796.8 81.8 794.2 89.2M808.7 96.3Q802.4 97.3 796.3 98.7M808.7 96.3Q810.5 89.5 810.7 82.3M810.7 82.3Q804.9 79 799.9 74.6M770 89.9Q761.9 84.2 754.4 77.7M769.5 95.8Q760.7 95.5 752.2 97.3M752.2 97.3Q747.6 94.8 742.9 92.3M742.9 92.3Q749.7 85.8 754.4 77.7M851.7 42.3Q846.4 51 839.5 58.6M839.5 58.6Q844.3 66.2 850.3 72.8M778.9 70.6Q775 67.2 771.2 63.6M754.4 77.7Q753.3 73.6 752.3 69.5M771.2 63.6Q761.4 65.6 752.3 69.5M742.9 92.3Q740.2 93.3 737.5 92.2M737.5 92.2Q734.1 86.5 730.6 80.9M730.6 80.9Q733.8 72.7 738.2 65.2M738.2 65.2Q739.8 63.8 741.8 63.2M752.3 69.5Q747.5 65.6 741.8 63.2M821 78.5Q820.7 73.6 821.1 68.7M821 78.5Q815.5 79.7 810.7 82.3M798.5 71.2Q802.6 65.4 808.5 61.6M821.1 68.7Q815.5 63.9 808.5 61.6M660.1 58.6Q671.6 51.3 681.5 42M821 78.5Q827.9 84.7 835.4 90.2M839.5 58.6Q837.8 59 836.7 57.8M821.1 68.7Q829.2 63.6 836.7 57.8M848.7 80.5Q842.5 86 835.4 90.2M787.6 67.9Q789.3 56.8 791.7 45.7M771.2 63.6Q768.7 55.2 768.7 46.5M741.8 63.2Q742.2 56.5 744.9 50.5M836.7 57.8Q829.5 51.1 823.8 43.2M808.5 61.6Q807.8 56.9 808.9 52.4M714.7 55.6Q726.1 61.3 738.2 65.2M714.7 55.6Q713.2 63.2 710.2 70.3M730.6 80.9Q722.8 80.2 715 81.5M715 81.5Q711.4 76.4 710.2 70.3M729.4 107.8Q732.4 99.4 737.5 92.2M729.4 107.8Q719.1 105.6 709.5 101.2M709.5 101.2Q710.6 95.4 709.3 89.7M715 81.5Q711.4 85.1 709.3 89.7M661.6 124.4Q670.6 122.8 679.6 124M661 142.2Q669 146.4 677.7 148.2M679.6 124Q684.1 127.2 687.6 131.6M687.6 131.6Q688.6 136.9 688.4 142.3M688.4 142.3Q682.9 145.1 677.7 148.2M674.2 160.4Q675.1 154.1 677.7 148.2M704.4 122.1Q705.5 114.2 703.9 106.4M704.4 122.1Q696.2 127.2 687.6 131.6M703.9 106.4Q699.5 105.6 695 105.2M683.2 109.9Q689.2 107.7 695 105.2M683.2 109.9Q682 117.1 679.6 124M690.2 162.9Q694.9 157.1 698.4 150.6M698.4 150.6Q694.3 145.4 688.4 142.3M704.4 122.1Q709.8 125.8 715.4 129.1M705 151.9Q701.5 152.4 698.4 150.6M705 151.9Q712.3 147.4 718.6 141.4M718.6 141.4Q717.4 135.1 715.4 129.1M729.4 107.8Q730.4 110.3 731.3 112.9M709.5 101.2Q706.4 103.5 703.9 106.4M715.4 129.1Q722.9 120.5 731.3 112.9M705 151.9Q708.2 159 710.4 166.5M718.6 141.4Q720.7 142 722.8 142.6M722.8 142.6Q729.8 153.3 734.7 165.2M688.1 46.5Q688 58.4 688.3 70.2M688.3 70.2Q687.1 74.1 684.2 77M659.7 67.4Q672.2 71.6 684.2 77M683.2 109.9Q678 102.2 671.1 96.1M695 105.2Q689.8 93.9 684.1 82.8M671.1 96.1Q677.1 88.9 684.1 82.8M709.3 89.7Q697.2 85 684.7 81.4M710.2 70.3Q699.3 68.9 688.3 70.2M684.2 77Q683.4 79.3 684.7 81.4M684.7 81.4Q683.6 81.7 684.1 82.8M714.7 55.6Q712.3 50.8 710.8 45.6M837.9 133Q846.7 127 855.3 120.7M837.9 133Q836.3 132.8 834.8 133.2M834.7 133.1Q828.4 124.3 824.2 114.3M824.2 114.3Q825.8 110.8 826.4 106.9M851.4 111.4Q841 107.4 830.6 103.4M826.4 106.9Q828.5 105.2 830.6 103.4M850.2 140.6Q844.4 136.2 837.9 133M833.1 159.8Q832.8 146.4 834.8 133.2M835.4 90.2Q833.7 97.1 830.6 103.4M808.7 96.3Q816.8 102.8 826.4 106.9M834.7 133.1Q823.8 138.1 812.6 142.1M824.2 114.3Q815.9 119.1 807 122.7M812.6 142.1Q808.6 132.7 807 122.7M816.3 163.5Q811.6 159 807.8 153.9M812.6 142.1Q810 147.9 807.8 153.9M795.5 99.5Q796.7 110.4 795.3 121.3M795.3 121.3Q801.2 121.4 807 122.7M770.6 97.9Q771.1 106.7 770.1 115.5M795.3 121.3Q791.6 124.8 786.8 126.6M770.1 115.5Q778 121.7 786.8 126.6M742.6 135.6Q742.4 126.7 739.6 118.4M742.6 135.6Q743.8 137.8 746.3 138M746.3 138Q752.3 135.5 758.3 133.2M758.3 133.2Q761.1 124.8 766.1 117.6M766.1 117.6Q757.3 116.5 748.6 114.6M748.6 114.6Q744.1 116.4 739.6 118.4M722.8 142.6Q732.6 138.8 742.6 135.6M731.3 112.9Q735.1 116.2 739.6 118.4M734.7 165.2Q742.7 158.6 749.7 150.9M749.7 150.9Q749.1 144.2 746.3 138M752.2 97.3Q750.5 106 748.6 114.6M770.1 115.5Q768.4 117.2 766.1 117.6M749.7 150.9Q753.4 154 758.1 155.1M758.1 155.1Q758.3 166.6 760.6 177.8M796.1 151.8Q790.3 141.1 786.4 129.5M796.1 151.8Q790.1 157.4 783.2 161.7M783.2 161.7Q776.7 155.9 769.7 150.9M786.4 129.5Q778.1 135.1 771.1 142.1M771.1 142.1Q769.1 146.3 769.7 150.9M807.8 153.9Q801.7 154.2 796.1 151.8M786.8 126.6Q787.4 128.2 786.4 129.5M758.1 155.1Q763.8 152.8 769.7 150.9M758.3 133.2Q764.6 137.8 771.1 142.1" stroke="#30d030" stroke-width="1.7" filter="url(#blur05)"/>
</g>

<rect x="678.7" y="56" width="159.9" height="97.7" fill="none" stroke="#000" stroke-opacity="0.7" stroke-width="1"/>
</g>
<clipPath id="c6"><rect x="13.4" y="159.3" width="160.9" height="98.7"/></clipPath>
<g clip-path="url(#c6)">
<rect x="13.4" y="159.3" width="160.9" height="98.7" fill="#010702"/>
<g fill="none" stroke-linejoin="round" stroke-linecap="round">
<path d="M71.2 157Q64 152.6 57 147.9M71.2 157Q78.2 151.6 83.9 144.8M2.2 238.8Q8.9 239.6 15 242.4M4.2 224.4Q12.7 224.8 21.2 224.4M15 242.4Q19.6 238 24.7 234.4M21.2 224.4Q22.7 223.9 22.9 225.4M24.7 234.4Q24.5 229.8 22.9 225.4M15 242.4Q12.1 249.3 10 256.5M31.7 243.4Q28.1 239 24.7 234.4M31.7 243.4Q30.8 249.8 29.8 256.2M29.8 256.2Q19.9 256.7 10 256.5M178.9 201.7Q170.4 206.8 162.5 212.9M183.7 222.4Q173.4 225 162.7 225M162.5 212.9Q163.7 218.9 162.7 225M185.9 239.2Q179.6 243.6 172.3 246M172.3 246Q164 241.8 156.9 235.7M162.7 225Q159.7 230.3 156.9 235.7M61.4 210.6Q62.4 208 63.7 205.6M61.4 210.6Q52.9 210.3 44.3 210.9M59.8 191.7Q61.7 198.6 63.7 205.6M59.8 191.7Q52 191.3 44.2 192.5M44.3 210.9Q44.9 201.7 44.2 192.5M59.8 191.7Q60.8 187.8 64 185.3M61.6 173Q64 178.9 64 185.3M61.6 173Q53.3 170.5 44.8 168.9M44.8 168.9Q39 177.1 34.9 186.3M44.2 192.5Q40.1 188.6 34.9 186.3M18.1 201Q20.9 197.2 25.2 195.3M18.1 201Q10 199.9 1.9 199.4M0.7 195.8Q9.8 186.6 20.2 178.8M25.2 195.3Q26.8 191.1 29.3 187.4M20.2 178.8Q24.1 183.8 29.3 187.4M21.2 224.4Q20 212.7 18.1 201M38.1 218.1Q30.1 220.9 22.9 225.4M38.1 218.1Q39 216.8 39.3 215.3M39.3 215.3Q33.2 204.7 25.2 195.3M44.3 210.9Q42.3 213.6 39.3 215.3M34.9 186.3Q32.1 186.9 29.3 187.4M29.8 256.2Q30.2 259.4 32.7 261.4M147.2 276.7Q149.9 269 151.2 261M151.2 261Q162.3 259.5 173.4 260.6M173.4 260.6Q175.9 263.7 176.9 267.6M172.3 246Q173.2 253.3 173.4 260.6M145.2 246.1Q147.9 253.7 151.2 261M145.2 246.1Q150.3 240.6 156.1 235.9M156.9 235.7Q156.3 234.9 156.1 235.9M197.5 254.9Q186.8 260.5 176.9 267.6M135.6 275.8Q134.6 265 134.2 254.1M134.2 254.1Q136.8 250.6 140.3 248.1M144.8 246.2Q142.9 247.8 140.3 248.1M126.3 211.6Q127.9 218.5 128.1 225.5M126.3 211.6Q132.3 207.5 138.2 203.4M138.2 203.4Q140.7 205.1 143.3 206.5M143.3 206.5Q142.3 215.1 143.5 223.6M128.1 225.5Q135.8 224.6 143.5 223.6M134.2 187.5Q129.9 184.3 125.4 181.4M134.2 187.5Q136.9 195.3 138.2 203.4M125.4 181.4Q116.5 189.1 109.6 198.6M110.2 206.8Q109.8 202.7 109.6 198.6M110.2 206.8Q118.5 208.2 126.3 211.6M162.5 212.9Q157.1 209.7 152.4 205.6M156.1 235.9Q150.3 229.3 143.5 223.6M152.4 205.6Q147.9 206.7 143.3 206.5M144.8 246.2Q136.8 235.8 126.9 227.3M126.9 227.3Q127.6 226.5 128.1 225.5M152.4 205.6Q157.2 197.4 160.4 188.4M160.4 188.4Q169.9 192.4 179.6 195.8M157.8 184.3Q167.3 177.9 176.1 170.7M157.8 184.3Q156 183.3 154.5 181.8M154.5 181.8Q155.2 179.3 154.3 176.8M154.3 176.8Q159.7 170.6 163.7 163.5M176.1 170.7Q170.3 166.3 163.7 163.5M160.4 188.4Q159.4 186.1 157.8 184.3M183.6 171.2Q179.9 170.1 176.1 170.7M134.2 187.5Q144.5 185.5 154.5 181.8M154.3 176.8Q147.2 168.5 141.3 159.4M163.7 163.5Q160.8 158.8 160.4 153.2M141.3 159.4Q151.2 157.5 160.4 153.2M184.4 159.3Q175.2 150.9 166.5 142M78.5 203.8Q81 198.1 85.5 193.8M78.5 203.8Q80.3 210.8 83.9 217.1M85.5 193.8Q91.2 206.3 98.6 218M83.9 217.1Q89 219 94.3 220.3M94.3 220.3Q95.9 218.1 98.6 218M94.4 189.9Q90 189.8 86 191.7M94.4 189.9Q97.8 181.3 101.3 172.7M82.9 170.7Q83.7 179.4 82.2 188.1M82.9 170.7Q89 168.4 95.5 167.9M82.2 188.1Q84.8 189.2 86 191.7M95.5 167.9Q97.7 171.1 101.3 172.7M102.9 217Q107.4 212.5 110.2 206.8M102.9 217Q100.5 216.3 98.6 218M109.6 198.6Q101.8 194.7 94.4 189.9M85.5 193.8Q86 192.8 86 191.7M125.4 181.4Q125.1 179.1 124.2 177.1M124.2 177.1Q118.5 174.8 113.1 171.9M113.1 171.9Q107.3 173.6 101.3 172.7M61.6 173Q65.4 166.9 71 162.5M71 162.5Q77.6 165.6 82.9 170.7M64 185.3Q73.1 186.6 82.2 188.1M71 162.5Q70.8 159.8 71.2 157M94.9 150.8Q96.5 159.3 95.5 167.9M63.7 205.6Q71 203.5 78.5 203.8M113.1 171.9Q110.9 160 109.3 148.1M21.6 164.1Q32.4 165.1 43.2 165.3M21.6 164.1Q25.3 156.3 28.9 148.5M33.4 147.3Q37.9 153.8 43.6 159.4M43.6 159.4Q43.2 162.3 43.2 165.3M13.9 168.9Q18 173.2 20.2 178.8M13.9 168.9Q17.1 165.6 21.6 164.1M44.8 168.9Q43.6 167.2 43.2 165.3M10.9 140.7Q6.5 148.5 2.5 156.6M13.9 168.9Q8.8 166 3.1 165M57 147.9Q49.6 152.8 43.6 159.4M90.4 261.5Q84.6 256.2 77.4 253.1M72.7 256.3Q75.6 255.6 77.4 253.1M72.7 256.3Q70.8 265.3 68.3 274.1M72.7 256.3Q62.6 258.8 52.5 261.6M77.4 240.4Q72.2 232.8 69.1 224M77.4 240.4Q75.4 243 75.7 246.2M75.7 246.2Q63.7 243.2 51.6 240.6M65.1 222.4Q67.6 222 69.1 224M65.1 222.4Q57.9 226.5 52.1 232.4M52.1 232.4Q50.9 236 51 239.7M51 239.7Q50.1 240.9 51.6 240.6M90.9 232.6Q84.7 237.5 77.4 240.4M90.9 232.6Q92.4 226.4 94.3 220.3M83.9 217.1Q77 221.6 69.1 224M77.4 253.1Q77.7 249.4 75.7 246.2M52.5 261.6Q51.1 251.2 51.6 240.6M61.4 210.6Q62.7 216.7 65.1 222.4M38.1 218.1Q44.8 225.6 52.1 232.4M31.7 243.4Q41.4 241.8 51 239.7M118.4 237.3Q117.5 235.6 116.7 233.8M118.4 237.3Q119.1 246.4 119.3 255.6M116.3 233.7Q108.3 238.1 101.2 243.9M101.2 243.9Q99.9 249.8 99 255.9M99 255.9Q107.4 257.2 115.7 259.5M115.7 259.5Q118 258 119.3 255.6M140.3 248.1Q129.6 242.3 118.4 237.3M126.9 227.3Q121.9 230.7 116.7 233.8M134.2 254.1Q126.7 254.3 119.3 255.6M102.9 217Q110.3 224.8 116.3 233.7M90.9 232.6Q96.2 238.1 101.2 243.9M90.4 261.5Q95.1 259.3 99 255.9M119.4 273.2Q118.3 266.1 115.7 259.5M139.5 136.6Q139 147.9 139.8 159.2M121.2 149.1Q126 156.6 133 162.3M133 162.3Q136.3 160.5 139.8 159.2M141.3 159.4Q140.8 158.2 139.8 159.2M124.2 177.1Q129.3 170.1 133 162.3" stroke="#04180a" stroke-width="1.0" stroke-dasharray="6 9 3 12" filter="url(#blur05)"/>
</g>
<g fill="#2a9a30" filter="url(#blur05)"><circle cx="17.8" cy="200.9" r="0.6"/><circle cx="74.8" cy="254.9" r="0.8"/><circle cx="56.3" cy="210.7" r="0.9"/><circle cx="140" cy="248.5" r="0.8"/><circle cx="67.3" cy="244.3" r="0.7"/><circle cx="162.7" cy="224.6" r="0.7"/><circle cx="173" cy="254.7" r="0.7"/><circle cx="35" cy="186.3" r="0.7"/><circle cx="30.4" cy="252.1" r="0.8"/><circle cx="27.2" cy="191.4" r="0.6"/><circle cx="81" cy="187.9" r="0.6"/></g>

<rect x="13.9" y="159.8" width="159.9" height="97.7" fill="none" stroke="#000" stroke-opacity="0.7" stroke-width="1"/>
</g>
<clipPath id="c7"><rect x="179.6" y="159.3" width="160.9" height="98.7"/></clipPath>
<g clip-path="url(#c7)">
<rect x="179.6" y="159.3" width="160.9" height="98.7" fill="#010702"/>
<g fill="none" stroke-linejoin="round" stroke-linecap="round">
<path d="M343.4 185.4Q348.3 182.4 352.8 178.8M343.4 185.4Q343.1 188.6 343 191.9M343 191.9Q347 195.8 350.6 200.2M336.4 215.4Q332.2 208 326.7 201.5M336.4 215.4Q344.5 209.4 351.2 201.9M343 191.9Q336.5 195.1 329.3 196.6M329.3 196.6Q328.9 199.5 326.7 201.5M335.4 220.2Q325.3 220.7 315.4 219.1M335.4 220.2Q337.2 218.1 336.4 215.4M326.7 201.5Q321.1 203.6 316.8 207.8M315.4 219.1Q315.3 213.4 316.8 207.8M331.5 258.8Q327.3 260.1 324.7 263.6M331.5 258.8Q338.3 264.9 343.9 272.2M331.5 258.8Q333.4 255.2 335.2 251.5M335.2 251.5Q341.8 253.3 348.5 255.2M185.1 236.4Q186.8 238.8 189.7 239.2M185.1 236.4Q184.3 230 186.1 223.7M186.1 223.7Q192.8 222.2 199.6 221.7M199.6 221.7Q202.1 229.6 205.1 237.3M189.7 239.2Q197.2 237 205.1 237.3M270.1 262.1Q267.5 253.9 266.2 245.4M266.2 245.4Q257.9 246.3 249.5 247M249.5 247Q248.7 255.2 250 263.2M231.8 215Q236.4 220.2 242 224.3M231.8 215Q234.2 210.7 234.8 205.8M234.8 205.8Q243.4 209.3 252.5 211.4M242 224.3Q245.6 223.3 248.8 221.3M252.5 211.4Q249.7 216 248.8 221.3M239.9 228.7Q240.4 235.3 241.9 241.7M239.9 228.7Q241.5 226.8 242 224.3M241.9 241.7Q245.4 243.1 248.4 245.5M248.4 245.5Q253.6 236.9 260.3 229.4M248.8 221.3Q254.1 225.9 260.3 229.4M213.3 207.7Q212.3 210.3 209.8 211.6M213.3 207.7Q221.1 212.5 229.8 215.1M209.8 211.6Q214.4 220.4 219.5 228.8M229.8 215.1Q225 222.3 219.5 228.8M239.9 228.7Q229.6 229.6 219.9 232.9M231.8 215Q230.8 216.1 229.8 215.1M219.9 232.9Q219.7 230.9 219.5 228.8M306.3 187.9Q310.8 183.3 316.7 180.6M306.3 187.9Q305.3 188.9 306.6 188.4M306.6 188.4Q317 191.8 327.6 194.9M316.7 180.6Q319.5 181.6 322.4 181M327.6 194.9Q324.4 188.2 322.4 181M329.3 196.6Q329.1 195.1 327.6 194.9M309.7 201.5Q312.9 205.1 316.8 207.8M309.7 201.5Q308.5 194.9 306.6 188.4M303.4 221.1Q304.1 213 302.4 205.1M303.4 221.1Q297.8 220.4 292.3 219.4M292.3 219.4Q291.7 217.9 291.4 216.3M291.4 216.3Q293.2 210.7 294 204.9M294 204.9Q298.2 205.9 302.4 205.1M315.4 219.1Q313.7 221.9 311.3 224.2M311.3 224.2Q307.5 222.2 303.4 221.1M309.7 201.5Q306.4 204 302.4 205.1M302.4 240Q295.5 236.1 288.4 232.4M302.4 240Q307.8 235.6 312 230M312 230Q310.5 227.3 311.3 224.2M288.4 232.4Q290.4 226.6 291.2 220.6M291.2 220.6Q290.8 219.1 292.3 219.4M302.3 186.4Q295.3 190.4 290 196.5M302.3 186.4Q304.3 187.1 306.3 187.9M290 196.5Q292.2 200.6 294 204.9M278.6 262.7Q282.3 255.1 284.9 247M288.2 268Q294.7 258.8 301.1 249.6M284.9 247Q292.7 248.3 300.5 248.2M300.5 248.2Q301.9 248.4 301.1 249.6M312.1 257.7Q312 258.1 312.3 258.4M312.1 257.7Q306.7 253.5 301.1 249.6M312.3 258.4Q308.7 262.6 307.3 268M302.4 240Q302.7 244.4 300.5 248.2M280.6 238.4Q284.4 235.3 288.4 232.4M280.6 238.4Q282.4 242.9 284.9 247M312.3 258.4Q318.4 261.1 324.7 263.6M335.4 220.2Q337.9 222 338.3 225.1M338.3 225.1Q344.2 224.9 350.1 224.1M334.1 248.7Q334.3 242.9 336.1 237.3M334.1 248.7Q326.7 248.8 319.5 247.2M316.1 233.4Q325.6 235.5 335.3 235.5M316.1 233.4Q318.6 240.1 319.5 247.2M335.3 235.5Q335.8 236.4 336.1 237.3M335.2 251.5Q335.3 249.8 334.1 248.7M350.9 239.9Q343.6 238 336.1 237.3M312.1 257.7Q315.9 252.6 319.5 247.2M312 230Q313.5 232.4 316.1 233.4M338.3 225.1Q336.9 230.3 335.3 235.5M189.7 239.2Q190 247.1 191 254.9M205.1 237.3Q206.7 239.5 209.4 240.3M209.4 240.3Q202.7 249.3 197 258.9M197 258.9Q196.1 258.4 195.3 258.8M195.3 258.8Q193 257 191 254.9M208.9 269.2Q203.1 263.9 197 258.9M195.3 258.8Q193.8 260.8 191.9 262.4M270.6 150.6Q269.5 156.5 269.8 162.5M270.6 150.6Q259.9 153.8 249 156.5M249 156.5Q249 158.2 248.8 159.9M248.8 159.9Q257.4 163.6 266.4 166M269.8 162.5Q268.1 164.2 266.4 166M343.4 185.4Q339.4 180.7 336.1 175.4M347.4 162.7Q341 168.4 336.1 175.4M322.4 181Q327.2 177.1 332.4 173.7M336.1 175.4Q334.7 173.6 332.4 173.7M343.8 157.5Q335.7 155.3 327.4 154.6M332.4 173.7Q328.2 166.2 324.3 158.5M324.3 158.5Q326.3 157 327.4 154.6M287.6 163.6Q278.6 164.3 269.8 162.5M287.6 163.6Q287.6 161.7 288.3 160M288.3 160Q281.2 152.2 272.8 145.8M248.7 154.6Q248.6 155.6 249 156.5M219.9 232.9Q218.9 234.3 218.2 235.9M241.9 241.7Q237.1 244 232.9 247M232.9 247Q225.8 241.1 218.2 235.9M204.9 213.3Q202.1 217.4 199.6 221.7M204.9 213.3Q207.3 212.2 209.8 211.6M209.4 240.3Q210.1 239.4 210.9 240.3M210.9 240.3Q214.2 237.6 218.2 235.9M261.5 229.7Q265.7 221.6 270.9 214.2M261.5 229.7Q266.1 233.1 270.4 236.8M273 236.3Q276.5 229.4 277.3 221.7M273 236.3Q271.8 237 270.4 236.8M277.3 221.7Q274 218 270.9 214.2M252.5 211.4Q253.5 209.3 255.2 207.6M255.2 207.6Q262.9 210.8 270.8 213.5M270.8 213.5Q269.6 214.1 270.9 214.2M260.3 229.4Q260.7 230.6 261.5 229.7M266.2 245.4Q268 241 270.4 236.8M248.4 245.5Q249.5 245.9 249.5 247M280.6 238.4Q277.1 236.3 273 236.3M291.2 220.6Q284.2 221.1 277.3 221.7M276.8 207Q273.4 209.9 270.8 213.5M276.8 207Q284.7 210.7 291.4 216.3M178.4 201.9Q182 207.4 187.1 211.5M178.4 201.9Q178 198.8 178.6 195.7M178.6 195.7Q182.4 195.1 186.2 194.6M186.2 194.6Q189.7 195.9 192.4 198.6M192.4 198.6Q194.4 202.8 196.1 207.1M196.1 207.1Q191.2 208.5 187.1 211.5M214.8 201.5Q210.1 196.9 204.2 193.7M214.8 201.5Q214.1 204.6 213.3 207.7M204.2 193.7Q198 195.4 192.4 198.6M204.9 213.3Q200.4 210.3 196.1 207.1M186.1 223.7Q185 223.1 184.2 221.9M184.2 221.9Q185.8 216.8 187.1 211.5M185.1 236.4Q180.1 239.6 174.4 241.2M191 254.9Q183.6 254.1 176.3 252.3M169.2 189.2Q173.6 192.9 178.6 195.7M178.4 201.9Q174.3 209.1 171.6 217M184.2 221.9Q177.8 221.5 172 218.8M279.1 179.7Q273.7 176.8 267.8 175.1M279.1 179.7Q278.3 187.5 279.2 195.3M263.1 194.2Q270.9 194.8 278.6 195.8M263.1 194.2Q263.2 185.4 265.7 176.9M265.7 176.9Q267.1 176.4 267.8 175.1M278.6 195.8Q278.5 195 279.2 195.3M287.6 163.6Q288.6 167.7 290.3 171.6M290.3 171.6Q284.9 175.9 279.1 179.7M266.4 166Q266.7 170.6 267.8 175.1M302.3 186.4Q299 180.8 296.9 174.6M296.9 174.6Q293.5 173.2 290.3 171.6M290 196.5Q284.6 195.8 279.2 195.3M254.8 197.8Q254.6 202.7 255.2 207.6M254.8 197.8Q258.6 195.3 263.1 194.2M276.8 207Q279 201.6 278.6 195.8M316.7 180.6Q315.1 174 314.7 167.3M324.3 158.5Q322.5 159.4 320.5 159.3M320.5 159.3Q318.1 163.7 314.7 167.3M296.9 174.6Q297.8 172.4 300.2 172M300.2 172Q307.4 169.4 314.7 167.3M320.5 159.3Q316.7 156.5 312.3 155.2M288.3 160Q292.1 156 294.9 151.4M300.2 172Q301.8 163.7 305.1 155.8M230.4 257Q229.3 256.9 230.1 256.2M230.4 257Q226.9 262.8 222.7 268M230.1 256.2Q223.8 253.9 217.2 253M217.2 253Q213.2 261.1 209.2 269.1M246.1 267.3Q238.9 261.1 230.4 257M232.9 247Q231.1 251.5 230.1 256.2M210.9 240.3Q213.7 246.8 217.2 253M209.4 150.7Q208.1 158.7 208.3 166.7M225.4 150.1Q225.2 156.3 226.5 162.3M226.5 162.3Q219.9 166.5 212.8 170M208.3 166.7Q210.9 167.8 212.8 170M204.2 193.7Q203.3 189.5 202.8 185.3M186.2 194.6Q189.8 188.8 193.5 182.9M202.8 185.3Q197.9 185.1 193.5 182.9M248.8 159.9Q247.9 161.3 246.8 162.5M226.5 162.3Q231.2 164.8 236.1 166.5M246.8 162.5Q241.8 165.5 236.1 166.5M265.7 176.9Q258.9 178.9 251.9 178.8M246.8 162.5Q250.2 170.4 251.9 178.8M198.6 166.4Q195.7 172.5 191.9 178M198.6 166.4Q196.2 162.4 192 160.4M192 160.4Q186.4 165.9 179.3 169.2M191.9 178Q185.6 177.4 179.8 175.1M179.8 175.1Q178.6 172.2 179.3 169.2M208.3 166.7Q203.4 166.6 198.6 166.4M213.7 176.3Q211.9 173.4 212.8 170M213.7 176.3Q208.3 180.9 202.8 185.3M193.5 182.9Q191.8 180.8 191.9 178M189.4 151.3Q191.3 155.7 192 160.4M174.6 164.8Q176.4 167.6 179.3 169.2M169 188.1Q173.7 181 179.8 175.1M252.1 195.7Q242.9 195.8 233.7 196.6M252.1 195.7Q250.7 189.5 249.8 183.2M249.8 183.2Q241.9 182 234.2 180.4M233.7 196.6Q230.2 192.9 225.7 190.8M234.2 180.4Q230.6 185.7 225.6 189.6M225.7 190.8Q226.8 190.1 225.6 189.6M234.8 205.8Q235.3 201 233.7 196.6M254.8 197.8Q253.7 196.4 252.1 195.7M251.9 178.8Q252 181.6 249.8 183.2M236.1 166.5Q234.7 173.4 234.2 180.4M214.8 201.5Q220.4 196.3 225.7 190.8M213.7 176.3Q219.1 183.5 225.6 189.6" stroke="#0a380e" stroke-width="1.1" filter="url(#blur05)"/>
<path d="M343.4 185.4Q348.3 182.4 352.8 178.8M343.4 185.4Q343.1 188.6 343 191.9M343 191.9Q347 195.8 350.6 200.2M336.4 215.4Q332.2 208 326.7 201.5M336.4 215.4Q344.5 209.4 351.2 201.9M343 191.9Q336.5 195.1 329.3 196.6M329.3 196.6Q328.9 199.5 326.7 201.5M335.4 220.2Q325.3 220.7 315.4 219.1M335.4 220.2Q337.2 218.1 336.4 215.4M326.7 201.5Q321.1 203.6 316.8 207.8M315.4 219.1Q315.3 213.4 316.8 207.8M331.5 258.8Q327.3 260.1 324.7 263.6M331.5 258.8Q338.3 264.9 343.9 272.2M331.5 258.8Q333.4 255.2 335.2 251.5M335.2 251.5Q341.8 253.3 348.5 255.2M185.1 236.4Q186.8 238.8 189.7 239.2M185.1 236.4Q184.3 230 186.1 223.7M186.1 223.7Q192.8 222.2 199.6 221.7M199.6 221.7Q202.1 229.6 205.1 237.3M189.7 239.2Q197.2 237 205.1 237.3M270.1 262.1Q267.5 253.9 266.2 245.4M266.2 245.4Q257.9 246.3 249.5 247M249.5 247Q248.7 255.2 250 263.2M231.8 215Q236.4 220.2 242 224.3M231.8 215Q234.2 210.7 234.8 205.8M234.8 205.8Q243.4 209.3 252.5 211.4M242 224.3Q245.6 223.3 248.8 221.3M252.5 211.4Q249.7 216 248.8 221.3M239.9 228.7Q240.4 235.3 241.9 241.7M239.9 228.7Q241.5 226.8 242 224.3M241.9 241.7Q245.4 243.1 248.4 245.5M248.4 245.5Q253.6 236.9 260.3 229.4M248.8 221.3Q254.1 225.9 260.3 229.4M213.3 207.7Q212.3 210.3 209.8 211.6M213.3 207.7Q221.1 212.5 229.8 215.1M209.8 211.6Q214.4 220.4 219.5 228.8M229.8 215.1Q225 222.3 219.5 228.8M239.9 228.7Q229.6 229.6 219.9 232.9M231.8 215Q230.8 216.1 229.8 215.1M219.9 232.9Q219.7 230.9 219.5 228.8M306.3 187.9Q310.8 183.3 316.7 180.6M306.3 187.9Q305.3 188.9 306.6 188.4M306.6 188.4Q317 191.8 327.6 194.9M316.7 180.6Q319.5 181.6 322.4 181M327.6 194.9Q324.4 188.2 322.4 181M329.3 196.6Q329.1 195.1 327.6 194.9M309.7 201.5Q312.9 205.1 316.8 207.8M309.7 201.5Q308.5 194.9 306.6 188.4M303.4 221.1Q304.1 213 302.4 205.1M303.4 221.1Q297.8 220.4 292.3 219.4M292.3 219.4Q291.7 217.9 291.4 216.3M291.4 216.3Q293.2 210.7 294 204.9M294 204.9Q298.2 205.9 302.4 205.1M315.4 219.1Q313.7 221.9 311.3 224.2M311.3 224.2Q307.5 222.2 303.4 221.1M309.7 201.5Q306.4 204 302.4 205.1M302.4 240Q295.5 236.1 288.4 232.4M302.4 240Q307.8 235.6 312 230M312 230Q310.5 227.3 311.3 224.2M288.4 232.4Q290.4 226.6 291.2 220.6M291.2 220.6Q290.8 219.1 292.3 219.4M302.3 186.4Q295.3 190.4 290 196.5M302.3 186.4Q304.3 187.1 306.3 187.9M290 196.5Q292.2 200.6 294 204.9M278.6 262.7Q282.3 255.1 284.9 247M288.2 268Q294.7 258.8 301.1 249.6M284.9 247Q292.7 248.3 300.5 248.2M300.5 248.2Q301.9 248.4 301.1 249.6M312.1 257.7Q312 258.1 312.3 258.4M312.1 257.7Q306.7 253.5 301.1 249.6M312.3 258.4Q308.7 262.6 307.3 268M302.4 240Q302.7 244.4 300.5 248.2M280.6 238.4Q284.4 235.3 288.4 232.4M280.6 238.4Q282.4 242.9 284.9 247M312.3 258.4Q318.4 261.1 324.7 263.6M335.4 220.2Q337.9 222 338.3 225.1M338.3 225.1Q344.2 224.9 350.1 224.1M334.1 248.7Q334.3 242.9 336.1 237.3M334.1 248.7Q326.7 248.8 319.5 247.2M316.1 233.4Q325.6 235.5 335.3 235.5M316.1 233.4Q318.6 240.1 319.5 247.2M335.3 235.5Q335.8 236.4 336.1 237.3M335.2 251.5Q335.3 249.8 334.1 248.7M350.9 239.9Q343.6 238 336.1 237.3M312.1 257.7Q315.9 252.6 319.5 247.2M312 230Q313.5 232.4 316.1 233.4M338.3 225.1Q336.9 230.3 335.3 235.5M189.7 239.2Q190 247.1 191 254.9M205.1 237.3Q206.7 239.5 209.4 240.3M209.4 240.3Q202.7 249.3 197 258.9M197 258.9Q196.1 258.4 195.3 258.8M195.3 258.8Q193 257 191 254.9M208.9 269.2Q203.1 263.9 197 258.9M195.3 258.8Q193.8 260.8 191.9 262.4M270.6 150.6Q269.5 156.5 269.8 162.5M270.6 150.6Q259.9 153.8 249 156.5M249 156.5Q249 158.2 248.8 159.9M248.8 159.9Q257.4 163.6 266.4 166M269.8 162.5Q268.1 164.2 266.4 166M343.4 185.4Q339.4 180.7 336.1 175.4M347.4 162.7Q341 168.4 336.1 175.4M322.4 181Q327.2 177.1 332.4 173.7M336.1 175.4Q334.7 173.6 332.4 173.7M343.8 157.5Q335.7 155.3 327.4 154.6M332.4 173.7Q328.2 166.2 324.3 158.5M324.3 158.5Q326.3 157 327.4 154.6M287.6 163.6Q278.6 164.3 269.8 162.5M287.6 163.6Q287.6 161.7 288.3 160M288.3 160Q281.2 152.2 272.8 145.8M248.7 154.6Q248.6 155.6 249 156.5M219.9 232.9Q218.9 234.3 218.2 235.9M241.9 241.7Q237.1 244 232.9 247M232.9 247Q225.8 241.1 218.2 235.9M204.9 213.3Q202.1 217.4 199.6 221.7M204.9 213.3Q207.3 212.2 209.8 211.6M209.4 240.3Q210.1 239.4 210.9 240.3M210.9 240.3Q214.2 237.6 218.2 235.9M261.5 229.7Q265.7 221.6 270.9 214.2M261.5 229.7Q266.1 233.1 270.4 236.8M273 236.3Q276.5 229.4 277.3 221.7M273 236.3Q271.8 237 270.4 236.8M277.3 221.7Q274 218 270.9 214.2M252.5 211.4Q253.5 209.3 255.2 207.6M255.2 207.6Q262.9 210.8 270.8 213.5M270.8 213.5Q269.6 214.1 270.9 214.2M260.3 229.4Q260.7 230.6 261.5 229.7M266.2 245.4Q268 241 270.4 236.8M248.4 245.5Q249.5 245.9 249.5 247M280.6 238.4Q277.1 236.3 273 236.3M291.2 220.6Q284.2 221.1 277.3 221.7M276.8 207Q273.4 209.9 270.8 213.5M276.8 207Q284.7 210.7 291.4 216.3M178.4 201.9Q182 207.4 187.1 211.5M178.4 201.9Q178 198.8 178.6 195.7M178.6 195.7Q182.4 195.1 186.2 194.6M186.2 194.6Q189.7 195.9 192.4 198.6M192.4 198.6Q194.4 202.8 196.1 207.1M196.1 207.1Q191.2 208.5 187.1 211.5M214.8 201.5Q210.1 196.9 204.2 193.7M214.8 201.5Q214.1 204.6 213.3 207.7M204.2 193.7Q198 195.4 192.4 198.6M204.9 213.3Q200.4 210.3 196.1 207.1M186.1 223.7Q185 223.1 184.2 221.9M184.2 221.9Q185.8 216.8 187.1 211.5M185.1 236.4Q180.1 239.6 174.4 241.2M191 254.9Q183.6 254.1 176.3 252.3M169.2 189.2Q173.6 192.9 178.6 195.7M178.4 201.9Q174.3 209.1 171.6 217M184.2 221.9Q177.8 221.5 172 218.8M279.1 179.7Q273.7 176.8 267.8 175.1M279.1 179.7Q278.3 187.5 279.2 195.3M263.1 194.2Q270.9 194.8 278.6 195.8M263.1 194.2Q263.2 185.4 265.7 176.9M265.7 176.9Q267.1 176.4 267.8 175.1M278.6 195.8Q278.5 195 279.2 195.3M287.6 163.6Q288.6 167.7 290.3 171.6M290.3 171.6Q284.9 175.9 279.1 179.7M266.4 166Q266.7 170.6 267.8 175.1M302.3 186.4Q299 180.8 296.9 174.6M296.9 174.6Q293.5 173.2 290.3 171.6M290 196.5Q284.6 195.8 279.2 195.3M254.8 197.8Q254.6 202.7 255.2 207.6M254.8 197.8Q258.6 195.3 263.1 194.2M276.8 207Q279 201.6 278.6 195.8M316.7 180.6Q315.1 174 314.7 167.3M324.3 158.5Q322.5 159.4 320.5 159.3M320.5 159.3Q318.1 163.7 314.7 167.3M296.9 174.6Q297.8 172.4 300.2 172M300.2 172Q307.4 169.4 314.7 167.3M320.5 159.3Q316.7 156.5 312.3 155.2M288.3 160Q292.1 156 294.9 151.4M300.2 172Q301.8 163.7 305.1 155.8M230.4 257Q229.3 256.9 230.1 256.2M230.4 257Q226.9 262.8 222.7 268M230.1 256.2Q223.8 253.9 217.2 253M217.2 253Q213.2 261.1 209.2 269.1M246.1 267.3Q238.9 261.1 230.4 257M232.9 247Q231.1 251.5 230.1 256.2M210.9 240.3Q213.7 246.8 217.2 253M209.4 150.7Q208.1 158.7 208.3 166.7M225.4 150.1Q225.2 156.3 226.5 162.3M226.5 162.3Q219.9 166.5 212.8 170M208.3 166.7Q210.9 167.8 212.8 170M204.2 193.7Q203.3 189.5 202.8 185.3M186.2 194.6Q189.8 188.8 193.5 182.9M202.8 185.3Q197.9 185.1 193.5 182.9M248.8 159.9Q247.9 161.3 246.8 162.5M226.5 162.3Q231.2 164.8 236.1 166.5M246.8 162.5Q241.8 165.5 236.1 166.5M265.7 176.9Q258.9 178.9 251.9 178.8M246.8 162.5Q250.2 170.4 251.9 178.8M198.6 166.4Q195.7 172.5 191.9 178M198.6 166.4Q196.2 162.4 192 160.4M192 160.4Q186.4 165.9 179.3 169.2M191.9 178Q185.6 177.4 179.8 175.1M179.8 175.1Q178.6 172.2 179.3 169.2M208.3 166.7Q203.4 166.6 198.6 166.4M213.7 176.3Q211.9 173.4 212.8 170M213.7 176.3Q208.3 180.9 202.8 185.3M193.5 182.9Q191.8 180.8 191.9 178M189.4 151.3Q191.3 155.7 192 160.4M174.6 164.8Q176.4 167.6 179.3 169.2M169 188.1Q173.7 181 179.8 175.1M252.1 195.7Q242.9 195.8 233.7 196.6M252.1 195.7Q250.7 189.5 249.8 183.2M249.8 183.2Q241.9 182 234.2 180.4M233.7 196.6Q230.2 192.9 225.7 190.8M234.2 180.4Q230.6 185.7 225.6 189.6M225.7 190.8Q226.8 190.1 225.6 189.6M234.8 205.8Q235.3 201 233.7 196.6M254.8 197.8Q253.7 196.4 252.1 195.7M251.9 178.8Q252 181.6 249.8 183.2M236.1 166.5Q234.7 173.4 234.2 180.4M214.8 201.5Q220.4 196.3 225.7 190.8M213.7 176.3Q219.1 183.5 225.6 189.6" stroke="#0a6a14" stroke-width="3.5" stroke-dasharray="5 9 3 13" filter="url(#blur2)" opacity="0.5"/>
<path d="M343.4 185.4Q348.3 182.4 352.8 178.8M343.4 185.4Q343.1 188.6 343 191.9M343 191.9Q347 195.8 350.6 200.2M336.4 215.4Q332.2 208 326.7 201.5M336.4 215.4Q344.5 209.4 351.2 201.9M343 191.9Q336.5 195.1 329.3 196.6M329.3 196.6Q328.9 199.5 326.7 201.5M335.4 220.2Q325.3 220.7 315.4 219.1M335.4 220.2Q337.2 218.1 336.4 215.4M326.7 201.5Q321.1 203.6 316.8 207.8M315.4 219.1Q315.3 213.4 316.8 207.8M331.5 258.8Q327.3 260.1 324.7 263.6M331.5 258.8Q338.3 264.9 343.9 272.2M331.5 258.8Q333.4 255.2 335.2 251.5M335.2 251.5Q341.8 253.3 348.5 255.2M185.1 236.4Q186.8 238.8 189.7 239.2M185.1 236.4Q184.3 230 186.1 223.7M186.1 223.7Q192.8 222.2 199.6 221.7M199.6 221.7Q202.1 229.6 205.1 237.3M189.7 239.2Q197.2 237 205.1 237.3M270.1 262.1Q267.5 253.9 266.2 245.4M266.2 245.4Q257.9 246.3 249.5 247M249.5 247Q248.7 255.2 250 263.2M231.8 215Q236.4 220.2 242 224.3M231.8 215Q234.2 210.7 234.8 205.8M234.8 205.8Q243.4 209.3 252.5 211.4M242 224.3Q245.6 223.3 248.8 221.3M252.5 211.4Q249.7 216 248.8 221.3M239.9 228.7Q240.4 235.3 241.9 241.7M239.9 228.7Q241.5 226.8 242 224.3M241.9 241.7Q245.4 243.1 248.4 245.5M248.4 245.5Q253.6 236.9 260.3 229.4M248.8 221.3Q254.1 225.9 260.3 229.4M213.3 207.7Q212.3 210.3 209.8 211.6M213.3 207.7Q221.1 212.5 229.8 215.1M209.8 211.6Q214.4 220.4 219.5 228.8M229.8 215.1Q225 222.3 219.5 228.8M239.9 228.7Q229.6 229.6 219.9 232.9M231.8 215Q230.8 216.1 229.8 215.1M219.9 232.9Q219.7 230.9 219.5 228.8M306.3 187.9Q310.8 183.3 316.7 180.6M306.3 187.9Q305.3 188.9 306.6 188.4M306.6 188.4Q317 191.8 327.6 194.9M316.7 180.6Q319.5 181.6 322.4 181M327.6 194.9Q324.4 188.2 322.4 181M329.3 196.6Q329.1 195.1 327.6 194.9M309.7 201.5Q312.9 205.1 316.8 207.8M309.7 201.5Q308.5 194.9 306.6 188.4M303.4 221.1Q304.1 213 302.4 205.1M303.4 221.1Q297.8 220.4 292.3 219.4M292.3 219.4Q291.7 217.9 291.4 216.3M291.4 216.3Q293.2 210.7 294 204.9M294 204.9Q298.2 205.9 302.4 205.1M315.4 219.1Q313.7 221.9 311.3 224.2M311.3 224.2Q307.5 222.2 303.4 221.1M309.7 201.5Q306.4 204 302.4 205.1M302.4 240Q295.5 236.1 288.4 232.4M302.4 240Q307.8 235.6 312 230M312 230Q310.5 227.3 311.3 224.2M288.4 232.4Q290.4 226.6 291.2 220.6M291.2 220.6Q290.8 219.1 292.3 219.4M302.3 186.4Q295.3 190.4 290 196.5M302.3 186.4Q304.3 187.1 306.3 187.9M290 196.5Q292.2 200.6 294 204.9M278.6 262.7Q282.3 255.1 284.9 247M288.2 268Q294.7 258.8 301.1 249.6M284.9 247Q292.7 248.3 300.5 248.2M300.5 248.2Q301.9 248.4 301.1 249.6M312.1 257.7Q312 258.1 312.3 258.4M312.1 257.7Q306.7 253.5 301.1 249.6M312.3 258.4Q308.7 262.6 307.3 268M302.4 240Q302.7 244.4 300.5 248.2M280.6 238.4Q284.4 235.3 288.4 232.4M280.6 238.4Q282.4 242.9 284.9 247M312.3 258.4Q318.4 261.1 324.7 263.6M335.4 220.2Q337.9 222 338.3 225.1M338.3 225.1Q344.2 224.9 350.1 224.1M334.1 248.7Q334.3 242.9 336.1 237.3M334.1 248.7Q326.7 248.8 319.5 247.2M316.1 233.4Q325.6 235.5 335.3 235.5M316.1 233.4Q318.6 240.1 319.5 247.2M335.3 235.5Q335.8 236.4 336.1 237.3M335.2 251.5Q335.3 249.8 334.1 248.7M350.9 239.9Q343.6 238 336.1 237.3M312.1 257.7Q315.9 252.6 319.5 247.2M312 230Q313.5 232.4 316.1 233.4M338.3 225.1Q336.9 230.3 335.3 235.5M189.7 239.2Q190 247.1 191 254.9M205.1 237.3Q206.7 239.5 209.4 240.3M209.4 240.3Q202.7 249.3 197 258.9M197 258.9Q196.1 258.4 195.3 258.8M195.3 258.8Q193 257 191 254.9M208.9 269.2Q203.1 263.9 197 258.9M195.3 258.8Q193.8 260.8 191.9 262.4M270.6 150.6Q269.5 156.5 269.8 162.5M270.6 150.6Q259.9 153.8 249 156.5M249 156.5Q249 158.2 248.8 159.9M248.8 159.9Q257.4 163.6 266.4 166M269.8 162.5Q268.1 164.2 266.4 166M343.4 185.4Q339.4 180.7 336.1 175.4M347.4 162.7Q341 168.4 336.1 175.4M322.4 181Q327.2 177.1 332.4 173.7M336.1 175.4Q334.7 173.6 332.4 173.7M343.8 157.5Q335.7 155.3 327.4 154.6M332.4 173.7Q328.2 166.2 324.3 158.5M324.3 158.5Q326.3 157 327.4 154.6M287.6 163.6Q278.6 164.3 269.8 162.5M287.6 163.6Q287.6 161.7 288.3 160M288.3 160Q281.2 152.2 272.8 145.8M248.7 154.6Q248.6 155.6 249 156.5M219.9 232.9Q218.9 234.3 218.2 235.9M241.9 241.7Q237.1 244 232.9 247M232.9 247Q225.8 241.1 218.2 235.9M204.9 213.3Q202.1 217.4 199.6 221.7M204.9 213.3Q207.3 212.2 209.8 211.6M209.4 240.3Q210.1 239.4 210.9 240.3M210.9 240.3Q214.2 237.6 218.2 235.9M261.5 229.7Q265.7 221.6 270.9 214.2M261.5 229.7Q266.1 233.1 270.4 236.8M273 236.3Q276.5 229.4 277.3 221.7M273 236.3Q271.8 237 270.4 236.8M277.3 221.7Q274 218 270.9 214.2M252.5 211.4Q253.5 209.3 255.2 207.6M255.2 207.6Q262.9 210.8 270.8 213.5M270.8 213.5Q269.6 214.1 270.9 214.2M260.3 229.4Q260.7 230.6 261.5 229.7M266.2 245.4Q268 241 270.4 236.8M248.4 245.5Q249.5 245.9 249.5 247M280.6 238.4Q277.1 236.3 273 236.3M291.2 220.6Q284.2 221.1 277.3 221.7M276.8 207Q273.4 209.9 270.8 213.5M276.8 207Q284.7 210.7 291.4 216.3M178.4 201.9Q182 207.4 187.1 211.5M178.4 201.9Q178 198.8 178.6 195.7M178.6 195.7Q182.4 195.1 186.2 194.6M186.2 194.6Q189.7 195.9 192.4 198.6M192.4 198.6Q194.4 202.8 196.1 207.1M196.1 207.1Q191.2 208.5 187.1 211.5M214.8 201.5Q210.1 196.9 204.2 193.7M214.8 201.5Q214.1 204.6 213.3 207.7M204.2 193.7Q198 195.4 192.4 198.6M204.9 213.3Q200.4 210.3 196.1 207.1M186.1 223.7Q185 223.1 184.2 221.9M184.2 221.9Q185.8 216.8 187.1 211.5M185.1 236.4Q180.1 239.6 174.4 241.2M191 254.9Q183.6 254.1 176.3 252.3M169.2 189.2Q173.6 192.9 178.6 195.7M178.4 201.9Q174.3 209.1 171.6 217M184.2 221.9Q177.8 221.5 172 218.8M279.1 179.7Q273.7 176.8 267.8 175.1M279.1 179.7Q278.3 187.5 279.2 195.3M263.1 194.2Q270.9 194.8 278.6 195.8M263.1 194.2Q263.2 185.4 265.7 176.9M265.7 176.9Q267.1 176.4 267.8 175.1M278.6 195.8Q278.5 195 279.2 195.3M287.6 163.6Q288.6 167.7 290.3 171.6M290.3 171.6Q284.9 175.9 279.1 179.7M266.4 166Q266.7 170.6 267.8 175.1M302.3 186.4Q299 180.8 296.9 174.6M296.9 174.6Q293.5 173.2 290.3 171.6M290 196.5Q284.6 195.8 279.2 195.3M254.8 197.8Q254.6 202.7 255.2 207.6M254.8 197.8Q258.6 195.3 263.1 194.2M276.8 207Q279 201.6 278.6 195.8M316.7 180.6Q315.1 174 314.7 167.3M324.3 158.5Q322.5 159.4 320.5 159.3M320.5 159.3Q318.1 163.7 314.7 167.3M296.9 174.6Q297.8 172.4 300.2 172M300.2 172Q307.4 169.4 314.7 167.3M320.5 159.3Q316.7 156.5 312.3 155.2M288.3 160Q292.1 156 294.9 151.4M300.2 172Q301.8 163.7 305.1 155.8M230.4 257Q229.3 256.9 230.1 256.2M230.4 257Q226.9 262.8 222.7 268M230.1 256.2Q223.8 253.9 217.2 253M217.2 253Q213.2 261.1 209.2 269.1M246.1 267.3Q238.9 261.1 230.4 257M232.9 247Q231.1 251.5 230.1 256.2M210.9 240.3Q213.7 246.8 217.2 253M209.4 150.7Q208.1 158.7 208.3 166.7M225.4 150.1Q225.2 156.3 226.5 162.3M226.5 162.3Q219.9 166.5 212.8 170M208.3 166.7Q210.9 167.8 212.8 170M204.2 193.7Q203.3 189.5 202.8 185.3M186.2 194.6Q189.8 188.8 193.5 182.9M202.8 185.3Q197.9 185.1 193.5 182.9M248.8 159.9Q247.9 161.3 246.8 162.5M226.5 162.3Q231.2 164.8 236.1 166.5M246.8 162.5Q241.8 165.5 236.1 166.5M265.7 176.9Q258.9 178.9 251.9 178.8M246.8 162.5Q250.2 170.4 251.9 178.8M198.6 166.4Q195.7 172.5 191.9 178M198.6 166.4Q196.2 162.4 192 160.4M192 160.4Q186.4 165.9 179.3 169.2M191.9 178Q185.6 177.4 179.8 175.1M179.8 175.1Q178.6 172.2 179.3 169.2M208.3 166.7Q203.4 166.6 198.6 166.4M213.7 176.3Q211.9 173.4 212.8 170M213.7 176.3Q208.3 180.9 202.8 185.3M193.5 182.9Q191.8 180.8 191.9 178M189.4 151.3Q191.3 155.7 192 160.4M174.6 164.8Q176.4 167.6 179.3 169.2M169 188.1Q173.7 181 179.8 175.1M252.1 195.7Q242.9 195.8 233.7 196.6M252.1 195.7Q250.7 189.5 249.8 183.2M249.8 183.2Q241.9 182 234.2 180.4M233.7 196.6Q230.2 192.9 225.7 190.8M234.2 180.4Q230.6 185.7 225.6 189.6M225.7 190.8Q226.8 190.1 225.6 189.6M234.8 205.8Q235.3 201 233.7 196.6M254.8 197.8Q253.7 196.4 252.1 195.7M251.9 178.8Q252 181.6 249.8 183.2M236.1 166.5Q234.7 173.4 234.2 180.4M214.8 201.5Q220.4 196.3 225.7 190.8M213.7 176.3Q219.1 183.5 225.6 189.6" stroke="#3ccc40" stroke-width="1.3" stroke-dasharray="3 8 2 11 4 14" filter="url(#blur05)" opacity="0.75"/>
</g>
<g fill="#50e050" filter="url(#blur05)"><circle cx="245.9" cy="196" r="0.7"/><circle cx="329.1" cy="196.4" r="0.7"/><circle cx="249.7" cy="252" r="1"/><circle cx="249.9" cy="184.1" r="0.8"/><circle cx="317.8" cy="207.2" r="1.1"/><circle cx="251.1" cy="176.4" r="0.9"/><circle cx="241.9" cy="241.7" r="1.2"/><circle cx="232.5" cy="212.8" r="0.7"/><circle cx="290.6" cy="222.9" r="1.1"/><circle cx="300.6" cy="248.5" r="0.8"/><circle cx="300.6" cy="247.7" r="0.8"/><circle cx="327.5" cy="200.1" r="0.7"/><circle cx="203" cy="186.9" r="0.7"/><circle cx="214.1" cy="246.9" r="0.6"/><circle cx="200.1" cy="166.4" r="0.7"/><circle cx="234.6" cy="177.2" r="1.1"/><circle cx="317.2" cy="237.7" r="1.1"/><circle cx="283.4" cy="211.2" r="1.3"/><circle cx="316.1" cy="176.7" r="1.2"/><circle cx="186" cy="215.3" r="1.2"/><circle cx="180.4" cy="253" r="1.2"/><circle cx="252.6" cy="211.3" r="1.4"/><circle cx="321.6" cy="193" r="0.8"/><circle cx="250.4" cy="186.5" r="0.8"/><circle cx="195.5" cy="163.6" r="1.3"/><circle cx="274.1" cy="209.9" r="0.8"/><circle cx="316.1" cy="176.5" r="0.7"/><circle cx="282.3" cy="237.1" r="0.8"/><circle cx="335" cy="251" r="0.7"/><circle cx="219.1" cy="234.3" r="0.8"/><circle cx="292.1" cy="234.4" r="1.3"/><circle cx="340.4" cy="211.7" r="1.1"/><circle cx="314.1" cy="231.7" r="0.7"/><circle cx="287.9" cy="164.6" r="1.3"/><circle cx="295.8" cy="236.4" r="1.2"/><circle cx="278.3" cy="179.4" r="1.1"/><circle cx="274" cy="236.6" r="1.3"/><circle cx="289" cy="167.8" r="0.9"/><circle cx="203.1" cy="187.3" r="0.7"/><circle cx="251.5" cy="192.4" r="1.3"/></g>

<rect x="180.1" y="159.8" width="159.9" height="97.7" fill="none" stroke="#000" stroke-opacity="0.7" stroke-width="1"/>
</g>
<clipPath id="c8"><rect x="345.8" y="159.3" width="160.9" height="98.7"/></clipPath>
<g clip-path="url(#c8)">
<rect x="345.8" y="159.3" width="160.9" height="98.7" fill="#010702"/>
<g fill="none" stroke-linejoin="round" stroke-linecap="round">
<path d="M344 204.9Q335.9 208.7 327.4 211.3M344 204.9Q338.2 196.9 333.1 188.4M498.3 249.2Q493.9 241 491.7 232M498.3 249.2Q505.6 245.4 513.1 241.7M510 219.5Q500.5 225.2 491.7 232M528 196.2Q517.2 199.8 506.3 202.9M510 219.5Q507.6 211.8 505.1 204.2M506.3 202.9Q505.5 203.4 505.1 204.2M466.1 202.5Q475.3 208.3 485.6 212M466.1 202.5Q469.9 196.9 471.9 190.4M471.9 190.4Q476.6 187.4 481.4 184.6M485.6 212Q489 207.7 493.1 204.1M481.4 184.6Q481.2 185.6 482.1 185.2M493.1 204.1Q487.7 194.6 482.1 185.2M485.6 212Q483.8 216.6 483.8 221.6M491.7 232Q488.3 230.8 485.9 228M505.1 204.2Q499.1 204.8 493.1 204.1M483.8 221.6Q484.4 225 485.9 228M376.4 264.9Q386.7 261.9 396.9 258.3M396.9 258.3Q398.4 258.7 399.5 260M399.5 260Q402 269.2 403.8 278.5M350.7 257.8Q350.1 260.4 348.7 262.7M350.7 257.8Q361.1 256.9 371.2 254.5M371.2 254.5Q374.9 259.2 376.4 264.9M350.7 257.8Q346.6 249.6 343.9 240.8M371.2 254.5Q371.9 250.3 371.5 246M371.5 246Q362.9 239.6 355.5 231.7M355.5 231.7Q349.5 236 343.9 240.8M343.9 240.8Q338.8 241.3 333.5 241.4M396.9 258.3Q397.3 250.6 396 243M371.5 246Q372.7 246.2 373 245.1M396 243Q384.5 244.6 373 245.1M355.5 231.7Q355.2 227.8 356.6 224.1M328.9 226.2Q338 219.1 348.3 214.2M356.6 224.1Q352.3 219.3 348.3 214.2M344 204.9Q344.6 205 345 205.4M345 205.4Q346 210.1 348.3 214.2M333.1 188.4Q339.2 185.4 344.5 181.3M328.7 168.5Q340.4 168.3 352 166.7M344.5 181.3Q348.7 174.3 352 166.7M352 166.7Q353.4 166.1 354.5 164.9M354.5 164.9Q352.6 158.1 351.1 151.3M476.7 233.8Q469.4 236.2 461.8 237M476.7 233.8Q477.1 244.4 478.8 254.8M461.8 237Q459.8 241.3 459.3 246M459.3 246Q460.4 248.3 459.6 250.8M478.8 254.8Q469.1 253.4 459.6 250.8M497 290.7Q493.5 275.1 489.8 259.6M515 265.7Q505.6 260.6 496.8 254.3M496.8 254.3Q493.3 257 489.8 259.6M498.3 249.2Q496.5 251.5 496.8 254.3M485.9 228Q481.6 231.4 476.7 233.8M478.8 254.8Q483.8 257.5 489.1 259.6M489.1 259.6Q489.5 259.8 489.8 259.6M373 245.1Q379.9 231.7 387.5 218.7M387.5 218.7Q386.3 218.8 385.4 218M356.6 224.1Q359.6 222.4 362.7 221.2M385.4 218Q374.2 221 362.7 221.2M466.1 202.5Q464 205.1 460.7 205.8M483.8 221.6Q471.8 219.3 459.6 218.6M460.7 205.8Q461.1 212.3 459.6 218.6M461.8 237Q458.6 230.3 456.6 223.3M459.6 218.6Q458.2 221 456.6 223.3M459.3 246Q448.7 240.1 437.3 235.8M437.3 235.8Q443.8 230 449.4 223.4M456.6 223.3Q453 223.4 449.4 223.4M471.9 190.4Q464.3 185.6 456 182M481.4 178.9Q482 181.7 481.4 184.6M481.4 178.9Q472.4 172.8 462.6 168.2M456 182Q458.2 174.6 462.6 168.2M470.6 154.6Q467.1 161.6 462.5 167.8M481.4 178.9Q484.2 172.9 488.2 167.6M488.2 167.6Q487.2 161.7 486.8 155.8M374.8 200.7Q371.1 202 367.3 201.3M374.8 200.7Q378.4 195.1 380 188.6M367.3 201.3Q362.2 199 357.6 195.9M380 188.6Q375.2 182.1 370.1 175.8M370.1 175.8Q365.4 183.9 358.8 190.5M357.6 195.9Q358.2 193.2 358.8 190.5M385.4 218Q379.9 209.5 374.8 200.7M362.7 221.2Q363.8 211 367.3 201.3M345 205.4Q351.3 200.7 357.6 195.9M344.5 181.3Q351.4 186.4 358.8 190.5M354.5 164.9Q361.8 169.5 369.8 172.5M369.8 172.5Q369.3 174.2 370.1 175.8M503.6 171.6Q509.5 169.8 514.7 166.6M503.6 171.6Q503.1 178.1 503.3 184.6M504.9 186.5Q504.5 185.2 503.3 184.6M504.9 186.5Q513.2 183.4 521.7 180.7M488.2 167.6Q496 169.5 503.6 171.6M482.1 185.2Q492.7 184.5 503.3 184.6M506.3 202.9Q506 194.7 504.9 186.5M418.6 256Q422 260.5 425 265.3M418.6 256Q409 257.9 399.5 260M396.9 241.3Q396.5 231.4 394 221.8M396.9 241.3Q408.6 242.1 420.3 242.2M394 221.8Q406.5 222.7 419 223.6M420.3 242.2Q422.4 239.3 424.5 236.6M424.5 236.6Q423.5 231 421.3 225.6M421.3 225.6Q420.6 224.1 419 223.6M396 243Q397.4 242.7 396.9 241.3M387.5 218.7Q389.1 218.2 390.7 218.7M390.7 218.7Q392.4 220.2 394 221.8M418.6 256Q419.7 249.1 420.3 242.2M430.9 238Q436.9 248.5 444.2 258.2M430.9 238Q427.8 237.3 424.5 236.6M444.2 258.2Q434.9 262.6 425 265.3M437.3 235.8Q433.9 236.3 430.9 238M438.1 215Q444.4 218.4 449.4 223.4M438.1 215Q429.7 220.3 421.3 225.6M438.1 215Q439.5 211.5 438.1 208M460.7 205.8Q455.2 201.3 448.6 198.6M448.6 198.6Q442.6 202.5 438.1 208M456 182Q450.8 184.9 445.1 186.3M448.6 198.6Q445.5 192.8 445.1 186.3M462.5 167.8Q453.7 164.9 445.9 159.9M445.1 186.3Q440.3 182.4 434.8 179.7M434.8 179.7Q435.6 175.2 433.9 171M433.9 171Q440.8 166.4 445.9 159.9M447.6 148.6Q446.9 154.3 445.9 159.9M454.5 257.4Q462.5 267 471.5 275.7M454.5 257.4Q452.2 257.7 450.7 259.5M450.7 259.5Q451.2 266.4 449.2 272.9M489.1 259.6Q480.2 267.6 471.5 275.7M459.6 250.8Q456.5 253.7 454.5 257.4M444.2 258.2Q447.6 258.5 450.7 259.5M406.5 187.8Q403.2 190.6 399.8 193.4M406.5 187.8Q415.8 186.8 424.9 188.4M424.9 188.4Q426.3 194.8 426 201.3M399.9 198.5Q409.9 203.1 418.9 209.5M399.9 198.5Q399.8 195.9 399.8 193.4M418.9 209.5Q423.3 206.2 426 201.3M438.1 208Q432.2 204.4 426 201.3M434.8 179.7Q429.7 184 424.9 188.4M390.7 218.7Q394.8 208.4 399.9 198.5M419 223.6Q417.8 216.5 418.9 209.5M380 188.6Q387.9 189.8 395.8 191.3M395.8 191.3Q397.8 192.3 399.8 193.4M369.8 172.5Q373.1 169.2 377 166.7M395.8 191.3Q391 178.8 388.5 165.7M377 166.7Q382.8 167.4 388.5 165.7M377 166.7Q376.8 157.5 375.9 148.4M398.2 151.3Q396.9 156.8 395.9 162.3M407.4 143.3Q414.5 150.4 421.9 157.1M395.9 162.3Q400.9 166.2 406.3 169.6M406.3 169.6Q414.8 166.6 423.2 163.2M423.2 163.2Q423 160 421.9 157.1M388.5 165.7Q391.9 163.4 395.9 162.3M436 137.2Q429.7 147.7 421.9 157.1M406.5 187.8Q406.6 178.7 406.3 169.6M433.9 171Q429 166.4 423.2 163.2" stroke="#072a0a" stroke-width="1.1" filter="url(#blur05)"/>
<path d="M344 204.9Q335.9 208.7 327.4 211.3M344 204.9Q338.2 196.9 333.1 188.4M498.3 249.2Q493.9 241 491.7 232M498.3 249.2Q505.6 245.4 513.1 241.7M510 219.5Q500.5 225.2 491.7 232M528 196.2Q517.2 199.8 506.3 202.9M510 219.5Q507.6 211.8 505.1 204.2M506.3 202.9Q505.5 203.4 505.1 204.2M466.1 202.5Q475.3 208.3 485.6 212M466.1 202.5Q469.9 196.9 471.9 190.4M471.9 190.4Q476.6 187.4 481.4 184.6M485.6 212Q489 207.7 493.1 204.1M481.4 184.6Q481.2 185.6 482.1 185.2M493.1 204.1Q487.7 194.6 482.1 185.2M485.6 212Q483.8 216.6 483.8 221.6M491.7 232Q488.3 230.8 485.9 228M505.1 204.2Q499.1 204.8 493.1 204.1M483.8 221.6Q484.4 225 485.9 228M376.4 264.9Q386.7 261.9 396.9 258.3M396.9 258.3Q398.4 258.7 399.5 260M399.5 260Q402 269.2 403.8 278.5M350.7 257.8Q350.1 260.4 348.7 262.7M350.7 257.8Q361.1 256.9 371.2 254.5M371.2 254.5Q374.9 259.2 376.4 264.9M350.7 257.8Q346.6 249.6 343.9 240.8M371.2 254.5Q371.9 250.3 371.5 246M371.5 246Q362.9 239.6 355.5 231.7M355.5 231.7Q349.5 236 343.9 240.8M343.9 240.8Q338.8 241.3 333.5 241.4M396.9 258.3Q397.3 250.6 396 243M371.5 246Q372.7 246.2 373 245.1M396 243Q384.5 244.6 373 245.1M355.5 231.7Q355.2 227.8 356.6 224.1M328.9 226.2Q338 219.1 348.3 214.2M356.6 224.1Q352.3 219.3 348.3 214.2M344 204.9Q344.6 205 345 205.4M345 205.4Q346 210.1 348.3 214.2M333.1 188.4Q339.2 185.4 344.5 181.3M328.7 168.5Q340.4 168.3 352 166.7M344.5 181.3Q348.7 174.3 352 166.7M352 166.7Q353.4 166.1 354.5 164.9M354.5 164.9Q352.6 158.1 351.1 151.3M476.7 233.8Q469.4 236.2 461.8 237M476.7 233.8Q477.1 244.4 478.8 254.8M461.8 237Q459.8 241.3 459.3 246M459.3 246Q460.4 248.3 459.6 250.8M478.8 254.8Q469.1 253.4 459.6 250.8M497 290.7Q493.5 275.1 489.8 259.6M515 265.7Q505.6 260.6 496.8 254.3M496.8 254.3Q493.3 257 489.8 259.6M498.3 249.2Q496.5 251.5 496.8 254.3M485.9 228Q481.6 231.4 476.7 233.8M478.8 254.8Q483.8 257.5 489.1 259.6M489.1 259.6Q489.5 259.8 489.8 259.6M373 245.1Q379.9 231.7 387.5 218.7M387.5 218.7Q386.3 218.8 385.4 218M356.6 224.1Q359.6 222.4 362.7 221.2M385.4 218Q374.2 221 362.7 221.2M466.1 202.5Q464 205.1 460.7 205.8M483.8 221.6Q471.8 219.3 459.6 218.6M460.7 205.8Q461.1 212.3 459.6 218.6M461.8 237Q458.6 230.3 456.6 223.3M459.6 218.6Q458.2 221 456.6 223.3M459.3 246Q448.7 240.1 437.3 235.8M437.3 235.8Q443.8 230 449.4 223.4M456.6 223.3Q453 223.4 449.4 223.4M471.9 190.4Q464.3 185.6 456 182M481.4 178.9Q482 181.7 481.4 184.6M481.4 178.9Q472.4 172.8 462.6 168.2M456 182Q458.2 174.6 462.6 168.2M470.6 154.6Q467.1 161.6 462.5 167.8M481.4 178.9Q484.2 172.9 488.2 167.6M488.2 167.6Q487.2 161.7 486.8 155.8M374.8 200.7Q371.1 202 367.3 201.3M374.8 200.7Q378.4 195.1 380 188.6M367.3 201.3Q362.2 199 357.6 195.9M380 188.6Q375.2 182.1 370.1 175.8M370.1 175.8Q365.4 183.9 358.8 190.5M357.6 195.9Q358.2 193.2 358.8 190.5M385.4 218Q379.9 209.5 374.8 200.7M362.7 221.2Q363.8 211 367.3 201.3M345 205.4Q351.3 200.7 357.6 195.9M344.5 181.3Q351.4 186.4 358.8 190.5M354.5 164.9Q361.8 169.5 369.8 172.5M369.8 172.5Q369.3 174.2 370.1 175.8M503.6 171.6Q509.5 169.8 514.7 166.6M503.6 171.6Q503.1 178.1 503.3 184.6M504.9 186.5Q504.5 185.2 503.3 184.6M504.9 186.5Q513.2 183.4 521.7 180.7M488.2 167.6Q496 169.5 503.6 171.6M482.1 185.2Q492.7 184.5 503.3 184.6M506.3 202.9Q506 194.7 504.9 186.5M418.6 256Q422 260.5 425 265.3M418.6 256Q409 257.9 399.5 260M396.9 241.3Q396.5 231.4 394 221.8M396.9 241.3Q408.6 242.1 420.3 242.2M394 221.8Q406.5 222.7 419 223.6M420.3 242.2Q422.4 239.3 424.5 236.6M424.5 236.6Q423.5 231 421.3 225.6M421.3 225.6Q420.6 224.1 419 223.6M396 243Q397.4 242.7 396.9 241.3M387.5 218.7Q389.1 218.2 390.7 218.7M390.7 218.7Q392.4 220.2 394 221.8M418.6 256Q419.7 249.1 420.3 242.2M430.9 238Q436.9 248.5 444.2 258.2M430.9 238Q427.8 237.3 424.5 236.6M444.2 258.2Q434.9 262.6 425 265.3M437.3 235.8Q433.9 236.3 430.9 238M438.1 215Q444.4 218.4 449.4 223.4M438.1 215Q429.7 220.3 421.3 225.6M438.1 215Q439.5 211.5 438.1 208M460.7 205.8Q455.2 201.3 448.6 198.6M448.6 198.6Q442.6 202.5 438.1 208M456 182Q450.8 184.9 445.1 186.3M448.6 198.6Q445.5 192.8 445.1 186.3M462.5 167.8Q453.7 164.9 445.9 159.9M445.1 186.3Q440.3 182.4 434.8 179.7M434.8 179.7Q435.6 175.2 433.9 171M433.9 171Q440.8 166.4 445.9 159.9M447.6 148.6Q446.9 154.3 445.9 159.9M454.5 257.4Q462.5 267 471.5 275.7M454.5 257.4Q452.2 257.7 450.7 259.5M450.7 259.5Q451.2 266.4 449.2 272.9M489.1 259.6Q480.2 267.6 471.5 275.7M459.6 250.8Q456.5 253.7 454.5 257.4M444.2 258.2Q447.6 258.5 450.7 259.5M406.5 187.8Q403.2 190.6 399.8 193.4M406.5 187.8Q415.8 186.8 424.9 188.4M424.9 188.4Q426.3 194.8 426 201.3M399.9 198.5Q409.9 203.1 418.9 209.5M399.9 198.5Q399.8 195.9 399.8 193.4M418.9 209.5Q423.3 206.2 426 201.3M438.1 208Q432.2 204.4 426 201.3M434.8 179.7Q429.7 184 424.9 188.4M390.7 218.7Q394.8 208.4 399.9 198.5M419 223.6Q417.8 216.5 418.9 209.5M380 188.6Q387.9 189.8 395.8 191.3M395.8 191.3Q397.8 192.3 399.8 193.4M369.8 172.5Q373.1 169.2 377 166.7M395.8 191.3Q391 178.8 388.5 165.7M377 166.7Q382.8 167.4 388.5 165.7M377 166.7Q376.8 157.5 375.9 148.4M398.2 151.3Q396.9 156.8 395.9 162.3M407.4 143.3Q414.5 150.4 421.9 157.1M395.9 162.3Q400.9 166.2 406.3 169.6M406.3 169.6Q414.8 166.6 423.2 163.2M423.2 163.2Q423 160 421.9 157.1M388.5 165.7Q391.9 163.4 395.9 162.3M436 137.2Q429.7 147.7 421.9 157.1M406.5 187.8Q406.6 178.7 406.3 169.6M433.9 171Q429 166.4 423.2 163.2" stroke="#2aa030" stroke-width="1.2" stroke-dasharray="2 12 3 20" filter="url(#blur05)" opacity="0.8"/>
</g>
<g fill="#40d040" filter="url(#blur05)"><circle cx="451.6" cy="223.3" r="0.9"/><circle cx="467.5" cy="199.5" r="1.3"/><circle cx="471.4" cy="191.4" r="1.4"/><circle cx="454.1" cy="163.8" r="0.7"/><circle cx="379.4" cy="187.8" r="0.8"/><circle cx="475.5" cy="207.1" r="1"/><circle cx="462" cy="251.3" r="1"/><circle cx="424.8" cy="223.4" r="0.8"/><circle cx="462.2" cy="169.1" r="0.9"/><circle cx="482.1" cy="185.1" r="1.1"/><circle cx="450.9" cy="242.1" r="0.9"/><circle cx="356" cy="228.2" r="0.6"/><circle cx="414.7" cy="207.1" r="0.8"/><circle cx="437" cy="181.2" r="0.7"/><circle cx="359.5" cy="222.7" r="0.7"/><circle cx="475.7" cy="207.2" r="1.2"/><circle cx="368.9" cy="172" r="1.3"/><circle cx="367.1" cy="202.3" r="1"/><circle cx="416.3" cy="188.1" r="0.7"/><circle cx="378.1" cy="186.1" r="1.1"/><circle cx="418.9" cy="213.3" r="0.9"/><circle cx="365.8" cy="207.9" r="1.1"/><circle cx="353.2" cy="165.8" r="0.9"/></g>

<rect x="346.3" y="159.8" width="159.9" height="97.7" fill="none" stroke="#000" stroke-opacity="0.7" stroke-width="1"/>
</g>
<clipPath id="c9"><rect x="512" y="159.3" width="160.9" height="98.7"/></clipPath>
<g clip-path="url(#c9)">
<rect x="512" y="159.3" width="160.9" height="98.7" fill="#010401"/>

<rect x="512.5" y="159.8" width="159.9" height="97.7" fill="none" stroke="#000" stroke-opacity="0.7" stroke-width="1"/>
</g>
<clipPath id="c10"><rect x="678.2" y="159.3" width="160.9" height="98.7"/></clipPath>
<g clip-path="url(#c10)">
<rect x="678.2" y="159.3" width="160.9" height="98.7" fill="#010401"/>

<rect x="678.7" y="159.8" width="159.9" height="97.7" fill="none" stroke="#000" stroke-opacity="0.7" stroke-width="1"/>
</g>
<clipPath id="c11"><rect x="13.4" y="263.1" width="160.9" height="98.7"/></clipPath>
<g clip-path="url(#c11)">
<rect x="13.4" y="263.1" width="160.9" height="98.7" fill="#052607"/>
<g fill="none" stroke-linejoin="round" stroke-linecap="round">
<path d="M186.2 262.6Q176.8 257.1 169 249.5M142.1 252.3Q142.7 256.7 141.7 261.1M141.7 261.1Q148.5 265.1 155 269.7M169 249.5Q161.6 259.3 155.3 269.7M141.7 261.1Q135.3 266.5 129.3 272.4M108.5 253.7Q111.6 258.1 112.2 263.5M112.2 263.5Q121.4 266.8 129.3 272.4M187.5 268.1Q178.5 273.8 169.4 279.4M187.2 297Q177.6 291.3 167.1 287.6M167.1 287.6Q169.4 283.8 169.4 279.4M155.3 269.7Q162.5 274.2 169.4 279.4M90.4 253.5Q83.5 264.4 78.6 276.4M65.1 258.9Q64.9 266.4 67 273.5M78.6 276.4Q72.7 275.2 67 273.5M72.1 296.2Q76.8 287.7 80.3 278.7M72.1 296.2Q62.5 292.4 53.2 287.9M80.3 278.7Q78.6 278.1 78.6 276.4M53.2 287.9Q56.1 282.2 58.6 276.4M58.6 276.4Q62.4 273.9 67 273.5M54.7 326.6Q49.1 329.6 44 333.4M54.7 326.6Q57.3 318.1 58.2 309.2M58.2 309.2Q58.1 307.6 56.5 307.7M56.5 307.7Q44.4 313.1 32.2 318.2M44 333.4Q39.3 331.7 35.8 328.2M35.8 328.2Q35.1 322.8 32.2 318.2M70.4 307.8Q76.8 312.2 84 314.8M70.4 307.8Q64.2 307.2 58.2 309.2M73.5 334.9Q64.2 330.5 54.7 326.6M73.5 334.9Q79.8 330.8 85.6 326M84 314.8Q85.1 320.4 85.6 326M70.4 307.8Q70.4 301.9 72.1 296.2M48.3 295Q50.3 291.1 53.2 287.9M48.3 295Q51.9 301.7 56.5 307.7M7.3 343.4Q12.7 348.1 17.4 353.5M21.1 353.6Q19.3 353 17.4 353.5M21.1 353.6Q23.4 343.4 25.8 333.2M25.8 333.2Q19 332.1 12.2 330.7M7.2 336.7Q10.7 334.5 12.2 330.7M1.5 372.4Q8.7 362.3 17.4 353.5M36.2 372.4Q35.7 365.9 35.2 359.4M35.2 359.4Q27.8 357.4 21.1 353.6M44 333.4Q43.2 341.7 44.9 349.8M35.8 328.2Q30.8 330.7 25.8 333.2M35.2 359.4Q39.8 354.3 44.9 349.8M32.2 318.2Q27.3 313.4 23.9 307.5M12.2 330.7Q12.5 322.8 12.3 314.9M23.9 307.5Q18.2 311.4 12.3 314.9M-3.7 312.5Q4.4 312.7 12.3 314.9M80.3 278.7Q83.7 279.1 85.8 281.9M112.2 263.5Q110.7 266.7 108.7 269.6M85.8 281.9Q97.3 275.9 108.7 269.6M153.3 364.1Q145 355.2 136.6 346.4M153.3 364.1Q158.2 359.7 161.3 354M161.3 354Q161.3 346.8 159.1 339.9M159.1 339.9Q148.1 337.8 137 338.1M137 338.1Q135.9 342.2 136.6 346.4M152.7 366.3Q152.9 365.2 153.3 364.1M179.4 356.1Q170.4 355 161.3 354M58.6 276.4Q55.7 274.8 53.1 272.7M53.1 272.7Q49.2 262.5 45.7 252.1M69.6 353Q69 355 66.9 354.9M69.6 353Q75.9 355.5 82.7 356.4M66.9 354.9Q67.2 361.1 66 367.3M82.7 356.4Q85.4 364.7 85.5 373.3M73.5 334.9Q71.6 344 69.6 353M44.9 349.8Q55.8 352.9 66.9 354.9M48.3 295Q43.6 295.1 38.9 294.8M53.1 272.7Q40.1 272.6 27 271.6M38.9 294.8Q33.3 283 27 271.6M38.9 294.8Q32 301.7 24 307.2M25 255.8Q24.8 262.1 22 267.9M27 271.6Q24.7 269.5 22 267.9M155 269.7Q148 280.9 141.1 292.2M129.3 272.4Q129.4 279.3 131.5 285.9M141.1 292.2Q140 292.4 138.9 292.1M131.5 285.9Q134.7 289.6 138.9 292.1M129.3 324.4Q126.9 322.3 126.9 319.1M129.3 324.4Q130.4 326 128.9 327.1M128.9 327.1Q121.1 332.5 113.6 338.3M114.8 311.6Q121.3 314.7 126.9 319.1M114.8 311.6Q105.5 321.9 94.6 330.6M113.6 338.3Q103.7 335.4 94.6 330.6M85.6 326Q89.3 327.9 92.7 330.5M82.7 356.4Q87.3 354.7 92.2 353.8M92.7 330.5Q92.3 342.1 92.2 353.8M128.9 327.1Q132 333.3 137 338.1M136.6 346.4Q131 353.5 124.9 360.2M113.6 338.3Q113.9 345.7 112.5 352.9M124.9 360.2Q118.8 356.4 112.5 352.9M92.2 353.8Q98 355.2 102.5 359M101.3 374.7Q101.6 366.9 102.5 359M94.6 330.6Q93.6 331 92.7 330.5M102.5 359Q107.3 355.7 112.5 352.9M182.8 312.6Q180.6 321.1 176.2 328.5M182.8 312.6Q170.9 305.8 158.8 299.3M153.5 317.4Q156.3 308.5 158.4 299.5M153.5 317.4Q158.3 324.7 164.3 331.1M164.3 331.1Q170.5 331.1 176.2 328.5M186.7 339.8Q181.1 334.4 176.2 328.5M167.1 287.6Q162.6 293.2 158.8 299.3M129.3 324.4Q141.3 320.8 153.5 317.4M141.1 292.2Q150.1 295.1 158.4 299.5M138.9 292.1Q131.9 305.2 126.9 319.1M159.1 339.9Q162.3 335.9 164.3 331.1M11.2 289.4Q13.1 281.6 12.5 273.5M11.2 289.4Q2.4 293.4 -5.6 298.9M5.3 272Q8.7 273.9 12.5 273.5M24 307.2Q16.7 298.9 11.2 289.4M22 267.9Q17.9 271.9 12.5 273.5M109.3 288.3Q103.8 293.5 97.4 297.4M109.3 288.3Q116.4 288.3 123.5 288.8M123.5 288.8Q118.4 299.6 114.2 310.8M114.2 310.8Q105.7 305.2 97.4 299.4M97.4 299.4Q97.4 298.4 97.4 297.4M85.8 281.9Q91 290 97.4 297.4M108.7 269.6Q110.2 278.9 109.3 288.3M131.5 285.9Q127.3 286.9 123.5 288.8M114.8 311.6Q113.5 311.9 114.2 310.8M84 314.8Q90.2 306.7 97.4 299.4M124.9 360.2Q126.6 365.9 129.5 371.1" stroke="#30d030" stroke-width="8" stroke-dasharray="14 8 10 12" filter="url(#blur2)" opacity="0.7"/>
<path d="M186.2 262.6Q176.8 257.1 169 249.5M142.1 252.3Q142.7 256.7 141.7 261.1M141.7 261.1Q148.5 265.1 155 269.7M169 249.5Q161.6 259.3 155.3 269.7M141.7 261.1Q135.3 266.5 129.3 272.4M108.5 253.7Q111.6 258.1 112.2 263.5M112.2 263.5Q121.4 266.8 129.3 272.4M187.5 268.1Q178.5 273.8 169.4 279.4M187.2 297Q177.6 291.3 167.1 287.6M167.1 287.6Q169.4 283.8 169.4 279.4M155.3 269.7Q162.5 274.2 169.4 279.4M90.4 253.5Q83.5 264.4 78.6 276.4M65.1 258.9Q64.9 266.4 67 273.5M78.6 276.4Q72.7 275.2 67 273.5M72.1 296.2Q76.8 287.7 80.3 278.7M72.1 296.2Q62.5 292.4 53.2 287.9M80.3 278.7Q78.6 278.1 78.6 276.4M53.2 287.9Q56.1 282.2 58.6 276.4M58.6 276.4Q62.4 273.9 67 273.5M54.7 326.6Q49.1 329.6 44 333.4M54.7 326.6Q57.3 318.1 58.2 309.2M58.2 309.2Q58.1 307.6 56.5 307.7M56.5 307.7Q44.4 313.1 32.2 318.2M44 333.4Q39.3 331.7 35.8 328.2M35.8 328.2Q35.1 322.8 32.2 318.2M70.4 307.8Q76.8 312.2 84 314.8M70.4 307.8Q64.2 307.2 58.2 309.2M73.5 334.9Q64.2 330.5 54.7 326.6M73.5 334.9Q79.8 330.8 85.6 326M84 314.8Q85.1 320.4 85.6 326M70.4 307.8Q70.4 301.9 72.1 296.2M48.3 295Q50.3 291.1 53.2 287.9M48.3 295Q51.9 301.7 56.5 307.7M7.3 343.4Q12.7 348.1 17.4 353.5M21.1 353.6Q19.3 353 17.4 353.5M21.1 353.6Q23.4 343.4 25.8 333.2M25.8 333.2Q19 332.1 12.2 330.7M7.2 336.7Q10.7 334.5 12.2 330.7M1.5 372.4Q8.7 362.3 17.4 353.5M36.2 372.4Q35.7 365.9 35.2 359.4M35.2 359.4Q27.8 357.4 21.1 353.6M44 333.4Q43.2 341.7 44.9 349.8M35.8 328.2Q30.8 330.7 25.8 333.2M35.2 359.4Q39.8 354.3 44.9 349.8M32.2 318.2Q27.3 313.4 23.9 307.5M12.2 330.7Q12.5 322.8 12.3 314.9M23.9 307.5Q18.2 311.4 12.3 314.9M-3.7 312.5Q4.4 312.7 12.3 314.9M80.3 278.7Q83.7 279.1 85.8 281.9M112.2 263.5Q110.7 266.7 108.7 269.6M85.8 281.9Q97.3 275.9 108.7 269.6M153.3 364.1Q145 355.2 136.6 346.4M153.3 364.1Q158.2 359.7 161.3 354M161.3 354Q161.3 346.8 159.1 339.9M159.1 339.9Q148.1 337.8 137 338.1M137 338.1Q135.9 342.2 136.6 346.4M152.7 366.3Q152.9 365.2 153.3 364.1M179.4 356.1Q170.4 355 161.3 354M58.6 276.4Q55.7 274.8 53.1 272.7M53.1 272.7Q49.2 262.5 45.7 252.1M69.6 353Q69 355 66.9 354.9M69.6 353Q75.9 355.5 82.7 356.4M66.9 354.9Q67.2 361.1 66 367.3M82.7 356.4Q85.4 364.7 85.5 373.3M73.5 334.9Q71.6 344 69.6 353M44.9 349.8Q55.8 352.9 66.9 354.9M48.3 295Q43.6 295.1 38.9 294.8M53.1 272.7Q40.1 272.6 27 271.6M38.9 294.8Q33.3 283 27 271.6M38.9 294.8Q32 301.7 24 307.2M25 255.8Q24.8 262.1 22 267.9M27 271.6Q24.7 269.5 22 267.9M155 269.7Q148 280.9 141.1 292.2M129.3 272.4Q129.4 279.3 131.5 285.9M141.1 292.2Q140 292.4 138.9 292.1M131.5 285.9Q134.7 289.6 138.9 292.1M129.3 324.4Q126.9 322.3 126.9 319.1M129.3 324.4Q130.4 326 128.9 327.1M128.9 327.1Q121.1 332.5 113.6 338.3M114.8 311.6Q121.3 314.7 126.9 319.1M114.8 311.6Q105.5 321.9 94.6 330.6M113.6 338.3Q103.7 335.4 94.6 330.6M85.6 326Q89.3 327.9 92.7 330.5M82.7 356.4Q87.3 354.7 92.2 353.8M92.7 330.5Q92.3 342.1 92.2 353.8M128.9 327.1Q132 333.3 137 338.1M136.6 346.4Q131 353.5 124.9 360.2M113.6 338.3Q113.9 345.7 112.5 352.9M124.9 360.2Q118.8 356.4 112.5 352.9M92.2 353.8Q98 355.2 102.5 359M101.3 374.7Q101.6 366.9 102.5 359M94.6 330.6Q93.6 331 92.7 330.5M102.5 359Q107.3 355.7 112.5 352.9M182.8 312.6Q180.6 321.1 176.2 328.5M182.8 312.6Q170.9 305.8 158.8 299.3M153.5 317.4Q156.3 308.5 158.4 299.5M153.5 317.4Q158.3 324.7 164.3 331.1M164.3 331.1Q170.5 331.1 176.2 328.5M186.7 339.8Q181.1 334.4 176.2 328.5M167.1 287.6Q162.6 293.2 158.8 299.3M129.3 324.4Q141.3 320.8 153.5 317.4M141.1 292.2Q150.1 295.1 158.4 299.5M138.9 292.1Q131.9 305.2 126.9 319.1M159.1 339.9Q162.3 335.9 164.3 331.1M11.2 289.4Q13.1 281.6 12.5 273.5M11.2 289.4Q2.4 293.4 -5.6 298.9M5.3 272Q8.7 273.9 12.5 273.5M24 307.2Q16.7 298.9 11.2 289.4M22 267.9Q17.9 271.9 12.5 273.5M109.3 288.3Q103.8 293.5 97.4 297.4M109.3 288.3Q116.4 288.3 123.5 288.8M123.5 288.8Q118.4 299.6 114.2 310.8M114.2 310.8Q105.7 305.2 97.4 299.4M97.4 299.4Q97.4 298.4 97.4 297.4M85.8 281.9Q91 290 97.4 297.4M108.7 269.6Q110.2 278.9 109.3 288.3M131.5 285.9Q127.3 286.9 123.5 288.8M114.8 311.6Q113.5 311.9 114.2 310.8M84 314.8Q90.2 306.7 97.4 299.4M124.9 360.2Q126.6 365.9 129.5 371.1" stroke="#3cf03c" stroke-width="2.4" filter="url(#blur05)"/>
<path d="M186.2 262.6Q176.8 257.1 169 249.5M142.1 252.3Q142.7 256.7 141.7 261.1M141.7 261.1Q148.5 265.1 155 269.7M169 249.5Q161.6 259.3 155.3 269.7M141.7 261.1Q135.3 266.5 129.3 272.4M108.5 253.7Q111.6 258.1 112.2 263.5M112.2 263.5Q121.4 266.8 129.3 272.4M187.5 268.1Q178.5 273.8 169.4 279.4M187.2 297Q177.6 291.3 167.1 287.6M167.1 287.6Q169.4 283.8 169.4 279.4M155.3 269.7Q162.5 274.2 169.4 279.4M90.4 253.5Q83.5 264.4 78.6 276.4M65.1 258.9Q64.9 266.4 67 273.5M78.6 276.4Q72.7 275.2 67 273.5M72.1 296.2Q76.8 287.7 80.3 278.7M72.1 296.2Q62.5 292.4 53.2 287.9M80.3 278.7Q78.6 278.1 78.6 276.4M53.2 287.9Q56.1 282.2 58.6 276.4M58.6 276.4Q62.4 273.9 67 273.5M54.7 326.6Q49.1 329.6 44 333.4M54.7 326.6Q57.3 318.1 58.2 309.2M58.2 309.2Q58.1 307.6 56.5 307.7M56.5 307.7Q44.4 313.1 32.2 318.2M44 333.4Q39.3 331.7 35.8 328.2M35.8 328.2Q35.1 322.8 32.2 318.2M70.4 307.8Q76.8 312.2 84 314.8M70.4 307.8Q64.2 307.2 58.2 309.2M73.5 334.9Q64.2 330.5 54.7 326.6M73.5 334.9Q79.8 330.8 85.6 326M84 314.8Q85.1 320.4 85.6 326M70.4 307.8Q70.4 301.9 72.1 296.2M48.3 295Q50.3 291.1 53.2 287.9M48.3 295Q51.9 301.7 56.5 307.7M7.3 343.4Q12.7 348.1 17.4 353.5M21.1 353.6Q19.3 353 17.4 353.5M21.1 353.6Q23.4 343.4 25.8 333.2M25.8 333.2Q19 332.1 12.2 330.7M7.2 336.7Q10.7 334.5 12.2 330.7M1.5 372.4Q8.7 362.3 17.4 353.5M36.2 372.4Q35.7 365.9 35.2 359.4M35.2 359.4Q27.8 357.4 21.1 353.6M44 333.4Q43.2 341.7 44.9 349.8M35.8 328.2Q30.8 330.7 25.8 333.2M35.2 359.4Q39.8 354.3 44.9 349.8M32.2 318.2Q27.3 313.4 23.9 307.5M12.2 330.7Q12.5 322.8 12.3 314.9M23.9 307.5Q18.2 311.4 12.3 314.9M-3.7 312.5Q4.4 312.7 12.3 314.9M80.3 278.7Q83.7 279.1 85.8 281.9M112.2 263.5Q110.7 266.7 108.7 269.6M85.8 281.9Q97.3 275.9 108.7 269.6M153.3 364.1Q145 355.2 136.6 346.4M153.3 364.1Q158.2 359.7 161.3 354M161.3 354Q161.3 346.8 159.1 339.9M159.1 339.9Q148.1 337.8 137 338.1M137 338.1Q135.9 342.2 136.6 346.4M152.7 366.3Q152.9 365.2 153.3 364.1M179.4 356.1Q170.4 355 161.3 354M58.6 276.4Q55.7 274.8 53.1 272.7M53.1 272.7Q49.2 262.5 45.7 252.1M69.6 353Q69 355 66.9 354.9M69.6 353Q75.9 355.5 82.7 356.4M66.9 354.9Q67.2 361.1 66 367.3M82.7 356.4Q85.4 364.7 85.5 373.3M73.5 334.9Q71.6 344 69.6 353M44.9 349.8Q55.8 352.9 66.9 354.9M48.3 295Q43.6 295.1 38.9 294.8M53.1 272.7Q40.1 272.6 27 271.6M38.9 294.8Q33.3 283 27 271.6M38.9 294.8Q32 301.7 24 307.2M25 255.8Q24.8 262.1 22 267.9M27 271.6Q24.7 269.5 22 267.9M155 269.7Q148 280.9 141.1 292.2M129.3 272.4Q129.4 279.3 131.5 285.9M141.1 292.2Q140 292.4 138.9 292.1M131.5 285.9Q134.7 289.6 138.9 292.1M129.3 324.4Q126.9 322.3 126.9 319.1M129.3 324.4Q130.4 326 128.9 327.1M128.9 327.1Q121.1 332.5 113.6 338.3M114.8 311.6Q121.3 314.7 126.9 319.1M114.8 311.6Q105.5 321.9 94.6 330.6M113.6 338.3Q103.7 335.4 94.6 330.6M85.6 326Q89.3 327.9 92.7 330.5M82.7 356.4Q87.3 354.7 92.2 353.8M92.7 330.5Q92.3 342.1 92.2 353.8M128.9 327.1Q132 333.3 137 338.1M136.6 346.4Q131 353.5 124.9 360.2M113.6 338.3Q113.9 345.7 112.5 352.9M124.9 360.2Q118.8 356.4 112.5 352.9M92.2 353.8Q98 355.2 102.5 359M101.3 374.7Q101.6 366.9 102.5 359M94.6 330.6Q93.6 331 92.7 330.5M102.5 359Q107.3 355.7 112.5 352.9M182.8 312.6Q180.6 321.1 176.2 328.5M182.8 312.6Q170.9 305.8 158.8 299.3M153.5 317.4Q156.3 308.5 158.4 299.5M153.5 317.4Q158.3 324.7 164.3 331.1M164.3 331.1Q170.5 331.1 176.2 328.5M186.7 339.8Q181.1 334.4 176.2 328.5M167.1 287.6Q162.6 293.2 158.8 299.3M129.3 324.4Q141.3 320.8 153.5 317.4M141.1 292.2Q150.1 295.1 158.4 299.5M138.9 292.1Q131.9 305.2 126.9 319.1M159.1 339.9Q162.3 335.9 164.3 331.1M11.2 289.4Q13.1 281.6 12.5 273.5M11.2 289.4Q2.4 293.4 -5.6 298.9M5.3 272Q8.7 273.9 12.5 273.5M24 307.2Q16.7 298.9 11.2 289.4M22 267.9Q17.9 271.9 12.5 273.5M109.3 288.3Q103.8 293.5 97.4 297.4M109.3 288.3Q116.4 288.3 123.5 288.8M123.5 288.8Q118.4 299.6 114.2 310.8M114.2 310.8Q105.7 305.2 97.4 299.4M97.4 299.4Q97.4 298.4 97.4 297.4M85.8 281.9Q91 290 97.4 297.4M108.7 269.6Q110.2 278.9 109.3 288.3M131.5 285.9Q127.3 286.9 123.5 288.8M114.8 311.6Q113.5 311.9 114.2 310.8M84 314.8Q90.2 306.7 97.4 299.4M124.9 360.2Q126.6 365.9 129.5 371.1" stroke="#46ff50" stroke-width="5" stroke-dasharray="9 10 6 14 12 8" filter="url(#blur05)"/>
<path d="M186.2 262.6Q176.8 257.1 169 249.5M142.1 252.3Q142.7 256.7 141.7 261.1M141.7 261.1Q148.5 265.1 155 269.7M169 249.5Q161.6 259.3 155.3 269.7M141.7 261.1Q135.3 266.5 129.3 272.4M108.5 253.7Q111.6 258.1 112.2 263.5M112.2 263.5Q121.4 266.8 129.3 272.4M187.5 268.1Q178.5 273.8 169.4 279.4M187.2 297Q177.6 291.3 167.1 287.6M167.1 287.6Q169.4 283.8 169.4 279.4M155.3 269.7Q162.5 274.2 169.4 279.4M90.4 253.5Q83.5 264.4 78.6 276.4M65.1 258.9Q64.9 266.4 67 273.5M78.6 276.4Q72.7 275.2 67 273.5M72.1 296.2Q76.8 287.7 80.3 278.7M72.1 296.2Q62.5 292.4 53.2 287.9M80.3 278.7Q78.6 278.1 78.6 276.4M53.2 287.9Q56.1 282.2 58.6 276.4M58.6 276.4Q62.4 273.9 67 273.5M54.7 326.6Q49.1 329.6 44 333.4M54.7 326.6Q57.3 318.1 58.2 309.2M58.2 309.2Q58.1 307.6 56.5 307.7M56.5 307.7Q44.4 313.1 32.2 318.2M44 333.4Q39.3 331.7 35.8 328.2M35.8 328.2Q35.1 322.8 32.2 318.2M70.4 307.8Q76.8 312.2 84 314.8M70.4 307.8Q64.2 307.2 58.2 309.2M73.5 334.9Q64.2 330.5 54.7 326.6M73.5 334.9Q79.8 330.8 85.6 326M84 314.8Q85.1 320.4 85.6 326M70.4 307.8Q70.4 301.9 72.1 296.2M48.3 295Q50.3 291.1 53.2 287.9M48.3 295Q51.9 301.7 56.5 307.7M7.3 343.4Q12.7 348.1 17.4 353.5M21.1 353.6Q19.3 353 17.4 353.5M21.1 353.6Q23.4 343.4 25.8 333.2M25.8 333.2Q19 332.1 12.2 330.7M7.2 336.7Q10.7 334.5 12.2 330.7M1.5 372.4Q8.7 362.3 17.4 353.5M36.2 372.4Q35.7 365.9 35.2 359.4M35.2 359.4Q27.8 357.4 21.1 353.6M44 333.4Q43.2 341.7 44.9 349.8M35.8 328.2Q30.8 330.7 25.8 333.2M35.2 359.4Q39.8 354.3 44.9 349.8M32.2 318.2Q27.3 313.4 23.9 307.5M12.2 330.7Q12.5 322.8 12.3 314.9M23.9 307.5Q18.2 311.4 12.3 314.9M-3.7 312.5Q4.4 312.7 12.3 314.9M80.3 278.7Q83.7 279.1 85.8 281.9M112.2 263.5Q110.7 266.7 108.7 269.6M85.8 281.9Q97.3 275.9 108.7 269.6M153.3 364.1Q145 355.2 136.6 346.4M153.3 364.1Q158.2 359.7 161.3 354M161.3 354Q161.3 346.8 159.1 339.9M159.1 339.9Q148.1 337.8 137 338.1M137 338.1Q135.9 342.2 136.6 346.4M152.7 366.3Q152.9 365.2 153.3 364.1M179.4 356.1Q170.4 355 161.3 354M58.6 276.4Q55.7 274.8 53.1 272.7M53.1 272.7Q49.2 262.5 45.7 252.1M69.6 353Q69 355 66.9 354.9M69.6 353Q75.9 355.5 82.7 356.4M66.9 354.9Q67.2 361.1 66 367.3M82.7 356.4Q85.4 364.7 85.5 373.3M73.5 334.9Q71.6 344 69.6 353M44.9 349.8Q55.8 352.9 66.9 354.9M48.3 295Q43.6 295.1 38.9 294.8M53.1 272.7Q40.1 272.6 27 271.6M38.9 294.8Q33.3 283 27 271.6M38.9 294.8Q32 301.7 24 307.2M25 255.8Q24.8 262.1 22 267.9M27 271.6Q24.7 269.5 22 267.9M155 269.7Q148 280.9 141.1 292.2M129.3 272.4Q129.4 279.3 131.5 285.9M141.1 292.2Q140 292.4 138.9 292.1M131.5 285.9Q134.7 289.6 138.9 292.1M129.3 324.4Q126.9 322.3 126.9 319.1M129.3 324.4Q130.4 326 128.9 327.1M128.9 327.1Q121.1 332.5 113.6 338.3M114.8 311.6Q121.3 314.7 126.9 319.1M114.8 311.6Q105.5 321.9 94.6 330.6M113.6 338.3Q103.7 335.4 94.6 330.6M85.6 326Q89.3 327.9 92.7 330.5M82.7 356.4Q87.3 354.7 92.2 353.8M92.7 330.5Q92.3 342.1 92.2 353.8M128.9 327.1Q132 333.3 137 338.1M136.6 346.4Q131 353.5 124.9 360.2M113.6 338.3Q113.9 345.7 112.5 352.9M124.9 360.2Q118.8 356.4 112.5 352.9M92.2 353.8Q98 355.2 102.5 359M101.3 374.7Q101.6 366.9 102.5 359M94.6 330.6Q93.6 331 92.7 330.5M102.5 359Q107.3 355.7 112.5 352.9M182.8 312.6Q180.6 321.1 176.2 328.5M182.8 312.6Q170.9 305.8 158.8 299.3M153.5 317.4Q156.3 308.5 158.4 299.5M153.5 317.4Q158.3 324.7 164.3 331.1M164.3 331.1Q170.5 331.1 176.2 328.5M186.7 339.8Q181.1 334.4 176.2 328.5M167.1 287.6Q162.6 293.2 158.8 299.3M129.3 324.4Q141.3 320.8 153.5 317.4M141.1 292.2Q150.1 295.1 158.4 299.5M138.9 292.1Q131.9 305.2 126.9 319.1M159.1 339.9Q162.3 335.9 164.3 331.1M11.2 289.4Q13.1 281.6 12.5 273.5M11.2 289.4Q2.4 293.4 -5.6 298.9M5.3 272Q8.7 273.9 12.5 273.5M24 307.2Q16.7 298.9 11.2 289.4M22 267.9Q17.9 271.9 12.5 273.5M109.3 288.3Q103.8 293.5 97.4 297.4M109.3 288.3Q116.4 288.3 123.5 288.8M123.5 288.8Q118.4 299.6 114.2 310.8M114.2 310.8Q105.7 305.2 97.4 299.4M97.4 299.4Q97.4 298.4 97.4 297.4M85.8 281.9Q91 290 97.4 297.4M108.7 269.6Q110.2 278.9 109.3 288.3M131.5 285.9Q127.3 286.9 123.5 288.8M114.8 311.6Q113.5 311.9 114.2 310.8M84 314.8Q90.2 306.7 97.4 299.4M124.9 360.2Q126.6 365.9 129.5 371.1" stroke="#b0ffc8" stroke-width="1.3" stroke-dasharray="6 14 8 20" filter="url(#blur05)" opacity="0.6"/>
</g>

<rect x="13.9" y="263.6" width="159.9" height="97.7" fill="none" stroke="#000" stroke-opacity="0.7" stroke-width="1"/>
</g>
<clipPath id="c12"><rect x="179.6" y="263.1" width="160.9" height="98.7"/></clipPath>
<g clip-path="url(#c12)">
<rect x="179.6" y="263.1" width="160.9" height="98.7" fill="#05260c"/>
<g fill="none" stroke-linejoin="round" stroke-linecap="round">
<path d="M241.8 284.8Q250.2 278.2 260 273.7M241.8 284.8Q241.8 292 243.6 299M243.6 299Q244 300.1 245 300.1M245 300.1Q252.7 299.4 260.4 298.7M260 273.7Q260.7 283.5 263.8 292.8M263.8 292.8Q262.7 296.1 260.4 298.7M281.6 292.3Q284 295.3 287.3 297.4M281.6 292.3Q281.4 284.6 280.4 276.9M280.4 276.9Q286 272.8 291.9 269.3M287.3 297.4Q288 298.2 288.9 297.5M288.9 297.5Q294.3 288.7 301.5 281.2M291.9 269.3Q297.1 274.9 301.5 281.2M264.6 272.3Q262.3 273.1 260 273.7M264.6 272.3Q272.1 275.9 280.4 276.9M263.8 292.8Q272.7 293.3 281.6 292.3M297.8 305.7Q292.5 302.5 288.9 297.5M297.8 305.7Q301.1 303.8 303.9 301.4M303.4 281.4Q302.3 282.3 301.5 281.2M303.4 281.4Q308 285.1 312.1 289.2M303.9 301.4Q309.1 296.1 312.1 289.2M260.4 298.7Q262.8 302.2 264.1 306.3M287.3 297.4Q282.7 304.6 276.4 310.5M264.1 306.3Q269.9 309.5 276.4 310.5M234.5 280.3Q227.8 286.5 220.1 291.5M234.5 280.3Q238 282.7 241.8 284.8M243.6 299Q234.5 301.3 225.2 302.2M220.1 291.5Q221.5 297.4 225.2 302.2M264.6 272.3Q270.5 264.9 275.3 256.6M291.9 269.3Q293 266.3 292.4 263.1M275.3 256.6Q284.3 258.8 292.4 263.1M309.6 258.8Q310.7 266.4 311.1 274.1M311.1 274.1Q317.7 274.9 324.2 273.7M324.2 273.7Q325.8 268.4 328.4 263.6M328.4 263.6Q325.5 262.6 324.1 259.9M303.4 281.4Q307.9 278.5 311.1 274.1M292.4 263.1Q295.9 258 300.4 253.7M327.1 290.2Q326.1 290.9 325.6 291.9M327.1 290.2Q333.7 287.9 340.7 287.2M354.7 304.7Q344 307.3 333 307.7M340.7 287.2Q343.4 287.7 346.2 288.2M333 307.7Q329.6 299.7 325.6 291.9M303.9 301.4Q310.6 303 317.5 303M312.1 289.2Q318.3 291.8 325.1 292.1M317.5 303Q321.3 297.6 325.1 292.1M327.1 290.2Q326.1 281.8 324.2 273.7M325.6 291.9Q325.5 292.5 325.1 292.1M340.6 248Q334.9 255.1 330.9 263.3M347.7 265.9Q342.7 266.6 337.6 266.4M330.9 263.3Q334.8 263.7 337.6 266.4M328.4 263.6Q329.6 262.7 330.9 263.3M340.7 287.2Q338.2 277 337.6 266.4M297.8 305.7Q298.6 309.9 300.1 313.9M276.4 310.5Q278.2 313.9 278.2 317.9M300.1 313.9Q296.8 319.2 293.3 324.4M278.2 317.9Q286 320.7 293.3 324.4M264.1 306.3Q260.8 311.8 259 318M278.2 317.9Q274.8 322 270.6 325.2M259 318Q265.2 321 270.6 325.2M234.5 280.3Q233.7 279.8 234.1 279M260 273.7Q254.6 268 250.7 261.2M234.1 279Q240.9 270.4 246.9 261.2M250.7 261.2Q248.8 261.1 246.9 261.2M226.7 270.3Q230 275 234.1 279M226.7 270.3Q228.5 263.5 232.3 257.6M246.9 261.2Q240.6 258 233.7 256.4M211.7 257.7Q210.6 259.2 209.7 260.8M194.2 256Q201.6 259.7 209.7 260.8M226.7 270.3Q218.9 269.9 211.4 272.2M209.7 260.8Q211.9 266.3 211.4 272.2M250.7 261.2Q253.7 255 256.2 248.6M215.4 338.5Q217.7 344 218.6 349.9M215.4 338.5Q211.9 336.8 208 336.2M218.6 349.9Q216.9 353 213.7 354.8M208 336.2Q203.7 336.9 199.4 337.9M199.4 337.9Q195 344.7 191.9 352.2M213.7 354.8Q202.8 353.3 191.9 352.2M281.3 350.4Q287.1 357.7 291.9 365.7M281.3 350.4Q279.3 349.9 277.4 350.7M277.4 350.7Q269.6 358.9 263.6 368.6M277.4 350.7Q271.3 346.8 265.9 342M265.9 342Q260.1 352.1 252.5 360.9M263.6 368.6Q257.9 365 252.5 360.9M241.3 350.7Q234.7 352.7 227.9 354.2M241.3 350.7Q245.1 355.1 248.4 359.9M227.9 354.2Q226 362.5 226.7 370.9M236.9 376.6Q242.1 367.8 248.4 359.9M227.5 321.7Q236.3 320.7 245.1 322.2M227.5 321.7Q226.6 327.2 223.2 331.6M223.2 331.6Q232.9 338.3 242.5 345.2M245.1 322.2Q246.3 322.3 246.6 323.4M246.6 323.4Q248.1 329.2 249.6 335M242.5 345.2Q246.5 340.4 249.6 335M245 300.1Q245.6 311.2 245.1 322.2M221.4 312Q222.3 306.7 225.2 302.2M221.4 312Q223.5 317.5 227.5 321.7M241.3 350.7Q241.1 347.8 242.5 345.2M227.9 354.2Q223 352.5 218.6 349.9M215.4 338.5Q218.4 334 223.2 331.6M259 318Q252.7 320.4 246.6 323.4M264.1 338.8Q256.7 337.6 249.6 335M264.1 338.8Q267.8 334.6 270.3 329.6M270.3 329.6Q270.2 327.4 270.6 325.2M265.9 342Q265.8 340 264.1 338.8M248.4 359.9Q250.6 359.9 252.5 360.9M198.3 316.4Q202.2 317.7 206.4 317.4M198.3 316.4Q193 310.8 189.7 303.8M203.2 299.6Q198.4 299.8 193.6 299.1M203.2 299.6Q208.9 305.8 213.8 312.5M213.8 312.5Q210.3 315.2 206.4 317.4M189.7 303.8Q191 301 193.6 299.1M190.3 328.7Q193.8 322.2 198.3 316.4M190.3 328.7Q193.9 334.2 199.4 337.9M208 336.2Q206 326.9 206.4 317.4M178.6 306.5Q184.1 305.1 189.7 303.8M178.6 306.5Q177.3 307.7 178.3 309.2M178.3 309.2Q182.1 318.6 185.7 328.2M185.7 328.2Q188 328.3 190.3 328.7M220.1 291.5Q218.2 290.3 216.2 289.3M221.4 312Q217.7 313.3 213.8 312.5M216.2 289.3Q210.2 295.1 203.2 299.6M174.1 269.3Q177 271.9 180.5 273.6M180.5 273.6Q181.2 277.9 182.5 282.1M182.5 282.1Q177.5 288.9 171.4 294.6M178.6 306.5Q175.5 304.3 172.4 302M169.4 321Q174.9 315.9 178.3 309.2M182.5 282.1Q188.3 284.9 193.3 289.1M193.3 289.1Q192.6 294.1 193.6 299.1M307.9 338Q301.4 333.6 294 331.3M307.9 338Q307.2 344.9 306.7 351.9M306.5 352.1Q295.6 349.7 285.3 345.5M294 331.3Q291.5 333.9 289 336.5M285.3 345.5Q287.9 341.3 289 336.5M281.3 350.4Q283.7 348.2 285.3 345.5M300.9 366.3Q304.6 359.6 306.5 352.1M293.3 324.4Q293.6 327.8 294 331.3M270.3 329.6Q280.1 331.8 289 336.5M333 307.7Q333.4 310.8 331.2 313.1M331.2 313.1Q337.2 320.5 344.4 326.8M349.2 351Q344 342.8 338.7 334.7M344.4 326.8Q340.6 330.1 338.7 334.7M326.5 345Q334.6 351.9 343.8 357.1M326.5 345Q324.3 349.8 323 354.8M323 354.8Q324.9 361.3 327.4 367.6M339.7 365.2Q342.4 361.5 343.8 357.1M338.7 334.7Q333 336.8 326.9 337M326.9 337Q327.1 341 326.5 345M306.7 351.9Q314.7 353.7 323 354.8M201.1 275.5Q206.1 274.1 211.2 272.5M201.1 275.5Q199 281.7 195.3 287.1M195.3 287.1Q205.7 287.7 216.1 289.2M211.2 272.5Q214.6 280.6 216.1 289.2M194.2 256Q191.9 262.8 191.4 270M191.4 270Q196.7 272 201.1 275.5M180.5 273.6Q186.1 272.2 191.4 270M193.3 289.1Q193.6 287.4 195.3 287.1M174.1 269.3Q174.6 263.8 177.1 259M225.2 371.4Q217.5 369.1 210.9 364.5M210.9 364.5Q206.3 368.5 201.2 372M213.7 354.8Q211.4 359.4 210.9 364.5M188.6 362.7Q190 358.8 189 354.8M188.6 362.7Q194.9 367.4 201.2 372M191.9 352.2Q189.7 352.7 189 354.8M182.6 367.1Q185.9 365.2 188.6 362.7M316.2 334.7Q311.3 323.9 304.1 314.5M316.2 334.7Q318.8 333.4 321.6 333.7M321.6 333.7Q321 326 321.8 318.2M321.8 318.2Q318.1 316.4 315.2 313.6M315.2 313.6Q309.6 313.2 304.1 314.5M300.1 313.9Q301.9 315.4 304.1 314.5M307.9 338Q312.3 337.1 316.2 334.7M326.9 337Q325 334.3 321.6 333.7M331.2 313.1Q327.2 316.8 321.8 318.2M317.5 303Q317.3 308.5 315.2 313.6M189 354.8Q182.1 350.8 176.4 345.3M185.7 328.2Q179.8 332.6 173.3 336.2" stroke="#0e6a2a" stroke-width="4" filter="url(#blur2)" opacity="0.7"/>
<path d="M241.8 284.8Q250.2 278.2 260 273.7M241.8 284.8Q241.8 292 243.6 299M243.6 299Q244 300.1 245 300.1M245 300.1Q252.7 299.4 260.4 298.7M260 273.7Q260.7 283.5 263.8 292.8M263.8 292.8Q262.7 296.1 260.4 298.7M281.6 292.3Q284 295.3 287.3 297.4M281.6 292.3Q281.4 284.6 280.4 276.9M280.4 276.9Q286 272.8 291.9 269.3M287.3 297.4Q288 298.2 288.9 297.5M288.9 297.5Q294.3 288.7 301.5 281.2M291.9 269.3Q297.1 274.9 301.5 281.2M264.6 272.3Q262.3 273.1 260 273.7M264.6 272.3Q272.1 275.9 280.4 276.9M263.8 292.8Q272.7 293.3 281.6 292.3M297.8 305.7Q292.5 302.5 288.9 297.5M297.8 305.7Q301.1 303.8 303.9 301.4M303.4 281.4Q302.3 282.3 301.5 281.2M303.4 281.4Q308 285.1 312.1 289.2M303.9 301.4Q309.1 296.1 312.1 289.2M260.4 298.7Q262.8 302.2 264.1 306.3M287.3 297.4Q282.7 304.6 276.4 310.5M264.1 306.3Q269.9 309.5 276.4 310.5M234.5 280.3Q227.8 286.5 220.1 291.5M234.5 280.3Q238 282.7 241.8 284.8M243.6 299Q234.5 301.3 225.2 302.2M220.1 291.5Q221.5 297.4 225.2 302.2M264.6 272.3Q270.5 264.9 275.3 256.6M291.9 269.3Q293 266.3 292.4 263.1M275.3 256.6Q284.3 258.8 292.4 263.1M309.6 258.8Q310.7 266.4 311.1 274.1M311.1 274.1Q317.7 274.9 324.2 273.7M324.2 273.7Q325.8 268.4 328.4 263.6M328.4 263.6Q325.5 262.6 324.1 259.9M303.4 281.4Q307.9 278.5 311.1 274.1M292.4 263.1Q295.9 258 300.4 253.7M327.1 290.2Q326.1 290.9 325.6 291.9M327.1 290.2Q333.7 287.9 340.7 287.2M354.7 304.7Q344 307.3 333 307.7M340.7 287.2Q343.4 287.7 346.2 288.2M333 307.7Q329.6 299.7 325.6 291.9M303.9 301.4Q310.6 303 317.5 303M312.1 289.2Q318.3 291.8 325.1 292.1M317.5 303Q321.3 297.6 325.1 292.1M327.1 290.2Q326.1 281.8 324.2 273.7M325.6 291.9Q325.5 292.5 325.1 292.1M340.6 248Q334.9 255.1 330.9 263.3M347.7 265.9Q342.7 266.6 337.6 266.4M330.9 263.3Q334.8 263.7 337.6 266.4M328.4 263.6Q329.6 262.7 330.9 263.3M340.7 287.2Q338.2 277 337.6 266.4M297.8 305.7Q298.6 309.9 300.1 313.9M276.4 310.5Q278.2 313.9 278.2 317.9M300.1 313.9Q296.8 319.2 293.3 324.4M278.2 317.9Q286 320.7 293.3 324.4M264.1 306.3Q260.8 311.8 259 318M278.2 317.9Q274.8 322 270.6 325.2M259 318Q265.2 321 270.6 325.2M234.5 280.3Q233.7 279.8 234.1 279M260 273.7Q254.6 268 250.7 261.2M234.1 279Q240.9 270.4 246.9 261.2M250.7 261.2Q248.8 261.1 246.9 261.2M226.7 270.3Q230 275 234.1 279M226.7 270.3Q228.5 263.5 232.3 257.6M246.9 261.2Q240.6 258 233.7 256.4M211.7 257.7Q210.6 259.2 209.7 260.8M194.2 256Q201.6 259.7 209.7 260.8M226.7 270.3Q218.9 269.9 211.4 272.2M209.7 260.8Q211.9 266.3 211.4 272.2M250.7 261.2Q253.7 255 256.2 248.6M215.4 338.5Q217.7 344 218.6 349.9M215.4 338.5Q211.9 336.8 208 336.2M218.6 349.9Q216.9 353 213.7 354.8M208 336.2Q203.7 336.9 199.4 337.9M199.4 337.9Q195 344.7 191.9 352.2M213.7 354.8Q202.8 353.3 191.9 352.2M281.3 350.4Q287.1 357.7 291.9 365.7M281.3 350.4Q279.3 349.9 277.4 350.7M277.4 350.7Q269.6 358.9 263.6 368.6M277.4 350.7Q271.3 346.8 265.9 342M265.9 342Q260.1 352.1 252.5 360.9M263.6 368.6Q257.9 365 252.5 360.9M241.3 350.7Q234.7 352.7 227.9 354.2M241.3 350.7Q245.1 355.1 248.4 359.9M227.9 354.2Q226 362.5 226.7 370.9M236.9 376.6Q242.1 367.8 248.4 359.9M227.5 321.7Q236.3 320.7 245.1 322.2M227.5 321.7Q226.6 327.2 223.2 331.6M223.2 331.6Q232.9 338.3 242.5 345.2M245.1 322.2Q246.3 322.3 246.6 323.4M246.6 323.4Q248.1 329.2 249.6 335M242.5 345.2Q246.5 340.4 249.6 335M245 300.1Q245.6 311.2 245.1 322.2M221.4 312Q222.3 306.7 225.2 302.2M221.4 312Q223.5 317.5 227.5 321.7M241.3 350.7Q241.1 347.8 242.5 345.2M227.9 354.2Q223 352.5 218.6 349.9M215.4 338.5Q218.4 334 223.2 331.6M259 318Q252.7 320.4 246.6 323.4M264.1 338.8Q256.7 337.6 249.6 335M264.1 338.8Q267.8 334.6 270.3 329.6M270.3 329.6Q270.2 327.4 270.6 325.2M265.9 342Q265.8 340 264.1 338.8M248.4 359.9Q250.6 359.9 252.5 360.9M198.3 316.4Q202.2 317.7 206.4 317.4M198.3 316.4Q193 310.8 189.7 303.8M203.2 299.6Q198.4 299.8 193.6 299.1M203.2 299.6Q208.9 305.8 213.8 312.5M213.8 312.5Q210.3 315.2 206.4 317.4M189.7 303.8Q191 301 193.6 299.1M190.3 328.7Q193.8 322.2 198.3 316.4M190.3 328.7Q193.9 334.2 199.4 337.9M208 336.2Q206 326.9 206.4 317.4M178.6 306.5Q184.1 305.1 189.7 303.8M178.6 306.5Q177.3 307.7 178.3 309.2M178.3 309.2Q182.1 318.6 185.7 328.2M185.7 328.2Q188 328.3 190.3 328.7M220.1 291.5Q218.2 290.3 216.2 289.3M221.4 312Q217.7 313.3 213.8 312.5M216.2 289.3Q210.2 295.1 203.2 299.6M174.1 269.3Q177 271.9 180.5 273.6M180.5 273.6Q181.2 277.9 182.5 282.1M182.5 282.1Q177.5 288.9 171.4 294.6M178.6 306.5Q175.5 304.3 172.4 302M169.4 321Q174.9 315.9 178.3 309.2M182.5 282.1Q188.3 284.9 193.3 289.1M193.3 289.1Q192.6 294.1 193.6 299.1M307.9 338Q301.4 333.6 294 331.3M307.9 338Q307.2 344.9 306.7 351.9M306.5 352.1Q295.6 349.7 285.3 345.5M294 331.3Q291.5 333.9 289 336.5M285.3 345.5Q287.9 341.3 289 336.5M281.3 350.4Q283.7 348.2 285.3 345.5M300.9 366.3Q304.6 359.6 306.5 352.1M293.3 324.4Q293.6 327.8 294 331.3M270.3 329.6Q280.1 331.8 289 336.5M333 307.7Q333.4 310.8 331.2 313.1M331.2 313.1Q337.2 320.5 344.4 326.8M349.2 351Q344 342.8 338.7 334.7M344.4 326.8Q340.6 330.1 338.7 334.7M326.5 345Q334.6 351.9 343.8 357.1M326.5 345Q324.3 349.8 323 354.8M323 354.8Q324.9 361.3 327.4 367.6M339.7 365.2Q342.4 361.5 343.8 357.1M338.7 334.7Q333 336.8 326.9 337M326.9 337Q327.1 341 326.5 345M306.7 351.9Q314.7 353.7 323 354.8M201.1 275.5Q206.1 274.1 211.2 272.5M201.1 275.5Q199 281.7 195.3 287.1M195.3 287.1Q205.7 287.7 216.1 289.2M211.2 272.5Q214.6 280.6 216.1 289.2M194.2 256Q191.9 262.8 191.4 270M191.4 270Q196.7 272 201.1 275.5M180.5 273.6Q186.1 272.2 191.4 270M193.3 289.1Q193.6 287.4 195.3 287.1M174.1 269.3Q174.6 263.8 177.1 259M225.2 371.4Q217.5 369.1 210.9 364.5M210.9 364.5Q206.3 368.5 201.2 372M213.7 354.8Q211.4 359.4 210.9 364.5M188.6 362.7Q190 358.8 189 354.8M188.6 362.7Q194.9 367.4 201.2 372M191.9 352.2Q189.7 352.7 189 354.8M182.6 367.1Q185.9 365.2 188.6 362.7M316.2 334.7Q311.3 323.9 304.1 314.5M316.2 334.7Q318.8 333.4 321.6 333.7M321.6 333.7Q321 326 321.8 318.2M321.8 318.2Q318.1 316.4 315.2 313.6M315.2 313.6Q309.6 313.2 304.1 314.5M300.1 313.9Q301.9 315.4 304.1 314.5M307.9 338Q312.3 337.1 316.2 334.7M326.9 337Q325 334.3 321.6 333.7M331.2 313.1Q327.2 316.8 321.8 318.2M317.5 303Q317.3 308.5 315.2 313.6M189 354.8Q182.1 350.8 176.4 345.3M185.7 328.2Q179.8 332.6 173.3 336.2" stroke="#2aac4a" stroke-width="1.4" filter="url(#blur05)"/>
</g>

<rect x="180.1" y="263.6" width="159.9" height="97.7" fill="none" stroke="#000" stroke-opacity="0.7" stroke-width="1"/>
</g>
<clipPath id="c13"><rect x="345.8" y="263.1" width="160.9" height="98.7"/></clipPath>
<g clip-path="url(#c13)">
<rect x="345.8" y="263.1" width="160.9" height="98.7" fill="#04250b"/>
<g fill="none" stroke-linejoin="round" stroke-linecap="round">
<path d="M467.2 251.1Q462.2 257.5 458.5 264.8M446.7 253.7Q453.4 258.4 458.5 264.8M434.5 344.6Q434.7 345.9 435.3 344.7M434.5 344.6Q432.4 351.6 429.7 358.4M435.3 344.7Q443.4 350.9 450.3 358.4M429.7 358.4Q432 363.5 432.9 369M450.3 358.4Q451.2 359.6 449.8 359.9M449.8 359.9Q443.5 365.9 436.5 371M429.7 358.4Q421 356.4 412.3 354.3M411.2 365.4Q410.6 359.7 412.3 354.3M345 326Q338.8 322.3 331.7 321M345 326Q344.3 333.2 343.2 340.3M338.6 342.2Q340.9 341.4 343.2 340.3M352.7 356.9Q351.2 358.2 349.3 358.6M352.7 356.9Q352.2 349.1 349.5 341.7M349.5 341.7Q346.6 340.1 343.2 340.3M349.3 358.6Q343.5 355.5 337.7 352.3M349.3 358.6Q348.3 364.6 344.8 369.6M345 326Q348 324.7 350.5 322.6M338 308.3Q344.3 311.8 350.1 316M350.1 316Q351.3 319.2 350.5 322.6M346.1 258.9Q343.3 263.6 340.4 268.3M475.8 260.7Q474.4 263.8 474.2 267.2M475.8 260.7Q471.9 255.6 467.2 251.1M460 268.7Q458.2 267.1 458.5 264.8M460 268.7Q461.2 270.7 463.6 270.5M463.6 270.5Q468.9 268.8 474.2 267.2M461.4 291.5Q465.4 288.7 467.7 284.4M461.4 291.5Q463.9 295.9 466 300.5M466 300.5Q471.9 301.6 477.8 300.4M467.7 284.4Q469.5 285.9 471.8 285.5M477.8 300.4Q473.6 293.5 471.8 285.5M502.6 295.9Q494.4 296.1 486.5 298.4M502.6 295.9Q503.8 295.6 504.4 294.5M504.4 294.5Q503 287.5 501.1 280.6M498.5 280.1Q500.1 279 501.1 280.6M498.5 280.1Q492 283.4 485.8 287.4M486.5 298.4Q486.6 292.9 485.8 287.4M487.6 269.8Q492.4 275.7 498.5 280.1M487.6 269.8Q485.2 270.7 482.7 271M482.7 271Q482.7 277.4 480.4 283.4M485.8 287.4Q483.5 284.9 480.4 283.4M467.7 284.4Q465.3 277.5 463.6 270.5M482.7 271Q478.2 269.6 474.2 267.2M480.4 283.4Q476 284 471.8 285.5M460.5 376Q454.1 368.7 449.8 359.9M450.3 358.4Q450.8 356.5 452.8 356.7M452.8 356.7Q458.7 357.7 464.5 356M471 368.8Q468.7 362 464.5 356M351.4 377.3Q357.5 371.6 362.4 364.8M362.4 364.8Q367 365.4 371.6 366.2M352.7 356.9Q355.1 357 357.5 357.7M357.5 357.7Q360.7 360.8 362.4 364.8M372.2 365.7Q372.3 360.6 374.9 356.3M374.9 356.3Q370.6 351.1 365.1 347.1M357.5 357.7Q360.7 352 365.1 347.1M448.7 301.9Q442.6 302 436.6 303.5M448.7 301.9Q449.8 296.4 453.1 291.9M437.9 284.9Q435.7 290.7 432.3 295.9M437.9 284.9Q442.8 284.8 447.6 285M432.3 295.9Q434.7 299.5 436.6 303.5M447.6 285Q451 288 453.1 291.9M458.2 313.6Q454.1 307.3 448.7 301.9M458.2 313.6Q450.5 317.1 442.1 318.4M442.1 318.4Q438.6 313.7 434.6 309.5M434.6 309.5Q435.8 306.6 436.6 303.5M459.4 314.1Q462.7 307.3 466 300.5M459.4 314.1Q458.5 314.7 458.2 313.6M461.4 291.5Q457.2 291.3 453.1 291.9M453.2 273.7Q456.9 271.7 460 268.7M453.2 273.7Q450.2 279.3 447.6 285M349.5 341.7Q355.8 340.1 362 338.1M350.5 322.6Q355.5 325.1 360.6 327.5M362 338.1Q361.1 332.8 360.6 327.5M365.1 347.1Q364.9 343.4 364.3 339.8M362 338.1Q363.1 339 364.3 339.8M374.9 356.3Q379.7 352.9 385 350.5M364.3 339.8Q372.2 339.3 379.7 336.9M379.7 336.9Q382.4 338.2 384.7 340.3M384.7 340.3Q386 345.4 385 350.5M412.3 354.3Q412.5 353.7 412 353.4M392.5 368Q393 362 391.4 356.1M412 353.4Q408.9 351.9 407.3 348.8M407.3 348.8Q399.9 353.7 391.4 356.1M391.4 356.1Q387.9 353.7 385 350.5M358 298.1Q357.7 292.1 358.7 286.1M358 298.1Q350.3 299.5 342.5 298.9M358.7 286.1Q353.4 282.7 348.9 278.4M347.7 278.1Q348.3 278 348.9 278.4M347.7 278.1Q343.7 283.8 338.5 288.3M350.1 316Q356.4 309.7 362.6 303.3M362.6 303.3Q360.1 300.9 358 298.1M340.4 268.3Q344.3 273 347.7 278.1M453.2 273.7Q443.1 272.2 433.7 268.5M433.7 268.5Q436.6 264.5 438.2 259.9M413.8 307.9Q418.1 312.3 422.9 316.2M413.8 307.9Q415 303.7 416 299.5M434.6 309.5Q429 313.3 422.9 316.2M432.3 295.9Q425.8 293.7 419 294.2M416 299.5Q418.1 297.1 419 294.2M352.6 255.8Q355.6 261.7 360 266.5M360 266.5Q364 268 368 269.2M373 256.2Q373.2 258.3 374.1 260.2M374.1 260.2Q373.6 262.8 374.2 265.3M374.2 265.3Q371.4 267.8 368 269.2M348.9 278.4Q353.9 272 360 266.5M366.4 281.1Q362.1 283 358.7 286.1M366.4 281.1Q366.7 275.1 368 269.2M394.7 252.4Q384.9 257.6 374.1 260.2M509.4 268.4Q505.8 274.1 502 279.8M509.4 268.4Q514 271.3 519.4 272.3M502 279.8Q512.8 282.3 523.6 285.2M504.4 294.5Q510.3 296.7 516.2 298.5M502 279.8Q500.8 279.3 501.1 280.6M508.3 258.8Q508.8 260.1 507.5 260.7M507.5 260.7Q499.7 261.9 491.8 261.4M491.8 261.4Q487.3 256.2 485.2 249.6M509.4 268.4Q508 264.6 507.5 260.7M487.6 269.8Q488.8 265.1 491.8 261.4M475.8 260.7Q480.7 255.3 485.2 249.6M459.7 336.6Q457.2 338.3 454.4 339.1M459.7 336.6Q460.2 333.2 462.7 330.8M460.1 322.4Q460.8 326.8 462.7 330.8M460.1 322.4Q452.3 324.7 445 328.4M454.4 339.1Q451.4 337.2 447.8 337.5M445 328.4Q446.8 332.8 447.8 337.5M452.8 356.7Q453.7 347.9 454.4 339.1M464.5 356Q467.5 352.9 469.9 349.3M469.9 349.3Q465.6 342.3 459.7 336.6M459.4 314.1Q458.9 315.5 460.4 315.5M460.4 315.5Q460.7 319 460.1 322.4M441 325.1Q440.8 321.6 442.1 318.4M441 325.1Q443.4 326.3 445 328.4M435.3 344.7Q441.2 340.5 447.8 337.5M413.8 307.9Q408.1 308.7 402.9 310.9M402.9 310.9Q402.4 310.5 401.7 310.7M401.4 295.1Q409 296.3 416 299.5M401.4 295.1Q399.8 299.9 398.9 304.9M398.9 304.9Q399.9 308 401.7 310.7M441 325.1Q435.8 327.6 430.5 330M422.9 316.2Q422.1 318.9 422.7 321.6M422.7 321.6Q427.5 325 430.5 330M434.5 344.6Q432.8 342.5 430.4 341.1M430.5 330Q431.7 335.6 430.4 341.1M412 353.4Q421.5 348.1 429.9 341.2M406.5 344.9Q400.8 340.3 394.9 335.9M406.5 344.9Q410.6 340.8 413.1 335.6M413.1 335.6Q412 332.1 412.8 328.5M396.4 330.7Q402 327.8 408.1 326.4M396.4 330.7Q394.8 333 394.9 335.9M408.1 326.4Q410.9 326.4 412.8 328.5M384.7 340.3Q389.6 337.6 394.9 335.9M407.3 348.8Q407.7 346.7 406.5 344.9M429.9 341.2Q421.8 337.5 413.1 335.6M422.7 321.6Q418.3 325.9 412.8 328.5M402.9 310.9Q406.6 318.3 408.1 326.4M401.4 295.1Q400.9 291.7 399.8 288.5M399.8 288.5Q407.3 285.7 415.1 284.4M419 294.2Q416.6 289.5 415.1 284.4M437.9 284.9Q433.9 280.9 432 275.5M415.1 284.4Q423.4 279.6 432 275.5M433.7 268.5Q432.6 268.2 432.7 269.3M432 275.5Q432.5 272.4 432.7 269.3M397.3 273.6Q390.9 272 385.6 268.1M397.3 273.6Q397 280 394.4 285.9M382 282.9Q385.8 286.1 390.5 287.3M382 282.9Q382.3 276 381.8 269.2M381.8 269.2Q383.5 267.8 385.6 268.1M394.4 285.9Q392.4 286.3 390.5 287.3M366.4 281.1Q370.8 284 376 285.3M376 285.3Q379.3 285 382 282.9M374.2 265.3Q377.8 267.6 381.8 269.2M394.7 252.4Q391 260.8 385.6 268.1M399.8 288.5Q397.5 286.4 394.4 285.9M386.9 298.7Q392.7 302.2 398.9 304.9M386.9 298.7Q389.6 293.2 390.5 287.3M513.6 373.6Q509 367.4 504.6 361M504.6 361Q507.5 356.3 508.5 350.8M516.4 353.8Q512.7 351.5 508.5 350.8M491.8 367.1Q498 363.6 504.6 361M471.2 368.9Q477.2 364.7 484.1 362.3M469.9 349.3Q472.2 349.1 474.4 348.3M474.4 348.3Q480 354.8 484.1 362.3M491.8 367.1Q489.4 365.2 487.6 362.8M484.1 362.3Q486 361.8 487.6 362.8M401.7 310.7Q397.1 314.3 392.1 317.4M396.4 330.7Q393.8 325.2 392 319.4M392 319.4Q392.6 318.5 392.1 317.4M379.7 336.9Q379.8 333.2 379.3 329.6M392 319.4Q386.2 325.2 379.3 329.6M360.6 327.5Q366 322.1 370.8 316.2M379.3 329.6Q375.7 322.5 370.8 316.2M404.2 269.3Q403.3 263.8 402.8 258.3M404.2 269.3Q408 269.8 410.5 272.6M410.5 272.6Q416.6 269.1 421.7 264.3M421.7 264.3Q420.8 259.6 418.8 255.4M397.3 273.6Q400.1 270.4 404.2 269.3M415.1 284.4Q412.3 278.7 410.5 272.6M432.7 269.3Q427.5 266.1 421.7 264.3M462.7 330.8Q470.9 331.8 479.3 332.1M474.4 348.3Q476.9 344.1 480.8 341.2M479.3 332.1Q480.5 336.6 480.8 341.2M386.2 299.1Q384.2 305.7 380 311.1M386.2 299.1Q380.8 295.7 374.7 294.3M380 311.1Q375.6 311.3 371.4 313.1M374.7 294.3Q369.4 299.5 363.3 303.7M363.3 303.7Q367.6 308.2 371.4 313.1M386.9 298.7Q386.2 298.3 386.2 299.1M392.1 317.4Q386.1 314.2 380 311.1M376 285.3Q376.4 289.9 374.7 294.3M370.8 316.2Q371.9 314.8 371.4 313.1M362.6 303.3Q362.7 304.1 363.3 303.7M502.6 295.9Q501.9 304.9 498.6 313.4M518.5 309.5Q510.9 312.2 504.3 316.7M498.6 313.4Q501.5 315 504.3 316.7M504.3 316.7Q504.2 320.6 504.6 324.5M513.4 332.3Q509.3 328 504.6 324.5M492.4 349.8Q491.4 346.3 488.6 344.1M492.4 349.8Q500.1 349.6 507.8 349.5M488.6 344.1Q492.3 339.6 497 336.1M497 336.1Q502.8 339.4 508.4 343.2M507.8 349.5Q509.2 346.4 508.4 343.2M487.6 362.8Q490.4 356.4 492.4 349.8M480.8 341.2Q484.6 342.8 488.6 344.1M508.5 350.8Q508.3 350.1 507.8 349.5M513.9 335.3Q511.2 339.2 508.4 343.2M496 330.3Q501 328.4 504.6 324.5M496 330.3Q495.2 333.4 497 336.1M483.1 325.8Q483.4 325.2 484.1 325.3M483.1 325.8Q475.6 321.6 469.9 315.2M484.1 325.3Q485.9 319 489.5 313.5M469.9 315.2Q475.7 308.6 482.5 302.9M489.5 313.5Q486.1 308.3 483.1 302.9M483.1 302.9Q482.8 302.4 482.5 302.9M479.3 332.1Q481.6 329.2 483.1 325.8M496 330.3Q490 327.9 484.1 325.3M460.4 315.5Q465.2 316.5 469.9 315.2M498.6 313.4Q494.1 314.5 489.5 313.5M477.8 300.4Q480.3 301.4 482.5 302.9M486.5 298.4Q484.1 300.1 483.1 302.9" stroke="#138a2a" stroke-width="4" filter="url(#blur2)" opacity="0.6"/>
<path d="M467.2 251.1Q462.2 257.5 458.5 264.8M446.7 253.7Q453.4 258.4 458.5 264.8M434.5 344.6Q434.7 345.9 435.3 344.7M434.5 344.6Q432.4 351.6 429.7 358.4M435.3 344.7Q443.4 350.9 450.3 358.4M429.7 358.4Q432 363.5 432.9 369M450.3 358.4Q451.2 359.6 449.8 359.9M449.8 359.9Q443.5 365.9 436.5 371M429.7 358.4Q421 356.4 412.3 354.3M411.2 365.4Q410.6 359.7 412.3 354.3M345 326Q338.8 322.3 331.7 321M345 326Q344.3 333.2 343.2 340.3M338.6 342.2Q340.9 341.4 343.2 340.3M352.7 356.9Q351.2 358.2 349.3 358.6M352.7 356.9Q352.2 349.1 349.5 341.7M349.5 341.7Q346.6 340.1 343.2 340.3M349.3 358.6Q343.5 355.5 337.7 352.3M349.3 358.6Q348.3 364.6 344.8 369.6M345 326Q348 324.7 350.5 322.6M338 308.3Q344.3 311.8 350.1 316M350.1 316Q351.3 319.2 350.5 322.6M346.1 258.9Q343.3 263.6 340.4 268.3M475.8 260.7Q474.4 263.8 474.2 267.2M475.8 260.7Q471.9 255.6 467.2 251.1M460 268.7Q458.2 267.1 458.5 264.8M460 268.7Q461.2 270.7 463.6 270.5M463.6 270.5Q468.9 268.8 474.2 267.2M461.4 291.5Q465.4 288.7 467.7 284.4M461.4 291.5Q463.9 295.9 466 300.5M466 300.5Q471.9 301.6 477.8 300.4M467.7 284.4Q469.5 285.9 471.8 285.5M477.8 300.4Q473.6 293.5 471.8 285.5M502.6 295.9Q494.4 296.1 486.5 298.4M502.6 295.9Q503.8 295.6 504.4 294.5M504.4 294.5Q503 287.5 501.1 280.6M498.5 280.1Q500.1 279 501.1 280.6M498.5 280.1Q492 283.4 485.8 287.4M486.5 298.4Q486.6 292.9 485.8 287.4M487.6 269.8Q492.4 275.7 498.5 280.1M487.6 269.8Q485.2 270.7 482.7 271M482.7 271Q482.7 277.4 480.4 283.4M485.8 287.4Q483.5 284.9 480.4 283.4M467.7 284.4Q465.3 277.5 463.6 270.5M482.7 271Q478.2 269.6 474.2 267.2M480.4 283.4Q476 284 471.8 285.5M460.5 376Q454.1 368.7 449.8 359.9M450.3 358.4Q450.8 356.5 452.8 356.7M452.8 356.7Q458.7 357.7 464.5 356M471 368.8Q468.7 362 464.5 356M351.4 377.3Q357.5 371.6 362.4 364.8M362.4 364.8Q367 365.4 371.6 366.2M352.7 356.9Q355.1 357 357.5 357.7M357.5 357.7Q360.7 360.8 362.4 364.8M372.2 365.7Q372.3 360.6 374.9 356.3M374.9 356.3Q370.6 351.1 365.1 347.1M357.5 357.7Q360.7 352 365.1 347.1M448.7 301.9Q442.6 302 436.6 303.5M448.7 301.9Q449.8 296.4 453.1 291.9M437.9 284.9Q435.7 290.7 432.3 295.9M437.9 284.9Q442.8 284.8 447.6 285M432.3 295.9Q434.7 299.5 436.6 303.5M447.6 285Q451 288 453.1 291.9M458.2 313.6Q454.1 307.3 448.7 301.9M458.2 313.6Q450.5 317.1 442.1 318.4M442.1 318.4Q438.6 313.7 434.6 309.5M434.6 309.5Q435.8 306.6 436.6 303.5M459.4 314.1Q462.7 307.3 466 300.5M459.4 314.1Q458.5 314.7 458.2 313.6M461.4 291.5Q457.2 291.3 453.1 291.9M453.2 273.7Q456.9 271.7 460 268.7M453.2 273.7Q450.2 279.3 447.6 285M349.5 341.7Q355.8 340.1 362 338.1M350.5 322.6Q355.5 325.1 360.6 327.5M362 338.1Q361.1 332.8 360.6 327.5M365.1 347.1Q364.9 343.4 364.3 339.8M362 338.1Q363.1 339 364.3 339.8M374.9 356.3Q379.7 352.9 385 350.5M364.3 339.8Q372.2 339.3 379.7 336.9M379.7 336.9Q382.4 338.2 384.7 340.3M384.7 340.3Q386 345.4 385 350.5M412.3 354.3Q412.5 353.7 412 353.4M392.5 368Q393 362 391.4 356.1M412 353.4Q408.9 351.9 407.3 348.8M407.3 348.8Q399.9 353.7 391.4 356.1M391.4 356.1Q387.9 353.7 385 350.5M358 298.1Q357.7 292.1 358.7 286.1M358 298.1Q350.3 299.5 342.5 298.9M358.7 286.1Q353.4 282.7 348.9 278.4M347.7 278.1Q348.3 278 348.9 278.4M347.7 278.1Q343.7 283.8 338.5 288.3M350.1 316Q356.4 309.7 362.6 303.3M362.6 303.3Q360.1 300.9 358 298.1M340.4 268.3Q344.3 273 347.7 278.1M453.2 273.7Q443.1 272.2 433.7 268.5M433.7 268.5Q436.6 264.5 438.2 259.9M413.8 307.9Q418.1 312.3 422.9 316.2M413.8 307.9Q415 303.7 416 299.5M434.6 309.5Q429 313.3 422.9 316.2M432.3 295.9Q425.8 293.7 419 294.2M416 299.5Q418.1 297.1 419 294.2M352.6 255.8Q355.6 261.7 360 266.5M360 266.5Q364 268 368 269.2M373 256.2Q373.2 258.3 374.1 260.2M374.1 260.2Q373.6 262.8 374.2 265.3M374.2 265.3Q371.4 267.8 368 269.2M348.9 278.4Q353.9 272 360 266.5M366.4 281.1Q362.1 283 358.7 286.1M366.4 281.1Q366.7 275.1 368 269.2M394.7 252.4Q384.9 257.6 374.1 260.2M509.4 268.4Q505.8 274.1 502 279.8M509.4 268.4Q514 271.3 519.4 272.3M502 279.8Q512.8 282.3 523.6 285.2M504.4 294.5Q510.3 296.7 516.2 298.5M502 279.8Q500.8 279.3 501.1 280.6M508.3 258.8Q508.8 260.1 507.5 260.7M507.5 260.7Q499.7 261.9 491.8 261.4M491.8 261.4Q487.3 256.2 485.2 249.6M509.4 268.4Q508 264.6 507.5 260.7M487.6 269.8Q488.8 265.1 491.8 261.4M475.8 260.7Q480.7 255.3 485.2 249.6M459.7 336.6Q457.2 338.3 454.4 339.1M459.7 336.6Q460.2 333.2 462.7 330.8M460.1 322.4Q460.8 326.8 462.7 330.8M460.1 322.4Q452.3 324.7 445 328.4M454.4 339.1Q451.4 337.2 447.8 337.5M445 328.4Q446.8 332.8 447.8 337.5M452.8 356.7Q453.7 347.9 454.4 339.1M464.5 356Q467.5 352.9 469.9 349.3M469.9 349.3Q465.6 342.3 459.7 336.6M459.4 314.1Q458.9 315.5 460.4 315.5M460.4 315.5Q460.7 319 460.1 322.4M441 325.1Q440.8 321.6 442.1 318.4M441 325.1Q443.4 326.3 445 328.4M435.3 344.7Q441.2 340.5 447.8 337.5M413.8 307.9Q408.1 308.7 402.9 310.9M402.9 310.9Q402.4 310.5 401.7 310.7M401.4 295.1Q409 296.3 416 299.5M401.4 295.1Q399.8 299.9 398.9 304.9M398.9 304.9Q399.9 308 401.7 310.7M441 325.1Q435.8 327.6 430.5 330M422.9 316.2Q422.1 318.9 422.7 321.6M422.7 321.6Q427.5 325 430.5 330M434.5 344.6Q432.8 342.5 430.4 341.1M430.5 330Q431.7 335.6 430.4 341.1M412 353.4Q421.5 348.1 429.9 341.2M406.5 344.9Q400.8 340.3 394.9 335.9M406.5 344.9Q410.6 340.8 413.1 335.6M413.1 335.6Q412 332.1 412.8 328.5M396.4 330.7Q402 327.8 408.1 326.4M396.4 330.7Q394.8 333 394.9 335.9M408.1 326.4Q410.9 326.4 412.8 328.5M384.7 340.3Q389.6 337.6 394.9 335.9M407.3 348.8Q407.7 346.7 406.5 344.9M429.9 341.2Q421.8 337.5 413.1 335.6M422.7 321.6Q418.3 325.9 412.8 328.5M402.9 310.9Q406.6 318.3 408.1 326.4M401.4 295.1Q400.9 291.7 399.8 288.5M399.8 288.5Q407.3 285.7 415.1 284.4M419 294.2Q416.6 289.5 415.1 284.4M437.9 284.9Q433.9 280.9 432 275.5M415.1 284.4Q423.4 279.6 432 275.5M433.7 268.5Q432.6 268.2 432.7 269.3M432 275.5Q432.5 272.4 432.7 269.3M397.3 273.6Q390.9 272 385.6 268.1M397.3 273.6Q397 280 394.4 285.9M382 282.9Q385.8 286.1 390.5 287.3M382 282.9Q382.3 276 381.8 269.2M381.8 269.2Q383.5 267.8 385.6 268.1M394.4 285.9Q392.4 286.3 390.5 287.3M366.4 281.1Q370.8 284 376 285.3M376 285.3Q379.3 285 382 282.9M374.2 265.3Q377.8 267.6 381.8 269.2M394.7 252.4Q391 260.8 385.6 268.1M399.8 288.5Q397.5 286.4 394.4 285.9M386.9 298.7Q392.7 302.2 398.9 304.9M386.9 298.7Q389.6 293.2 390.5 287.3M513.6 373.6Q509 367.4 504.6 361M504.6 361Q507.5 356.3 508.5 350.8M516.4 353.8Q512.7 351.5 508.5 350.8M491.8 367.1Q498 363.6 504.6 361M471.2 368.9Q477.2 364.7 484.1 362.3M469.9 349.3Q472.2 349.1 474.4 348.3M474.4 348.3Q480 354.8 484.1 362.3M491.8 367.1Q489.4 365.2 487.6 362.8M484.1 362.3Q486 361.8 487.6 362.8M401.7 310.7Q397.1 314.3 392.1 317.4M396.4 330.7Q393.8 325.2 392 319.4M392 319.4Q392.6 318.5 392.1 317.4M379.7 336.9Q379.8 333.2 379.3 329.6M392 319.4Q386.2 325.2 379.3 329.6M360.6 327.5Q366 322.1 370.8 316.2M379.3 329.6Q375.7 322.5 370.8 316.2M404.2 269.3Q403.3 263.8 402.8 258.3M404.2 269.3Q408 269.8 410.5 272.6M410.5 272.6Q416.6 269.1 421.7 264.3M421.7 264.3Q420.8 259.6 418.8 255.4M397.3 273.6Q400.1 270.4 404.2 269.3M415.1 284.4Q412.3 278.7 410.5 272.6M432.7 269.3Q427.5 266.1 421.7 264.3M462.7 330.8Q470.9 331.8 479.3 332.1M474.4 348.3Q476.9 344.1 480.8 341.2M479.3 332.1Q480.5 336.6 480.8 341.2M386.2 299.1Q384.2 305.7 380 311.1M386.2 299.1Q380.8 295.7 374.7 294.3M380 311.1Q375.6 311.3 371.4 313.1M374.7 294.3Q369.4 299.5 363.3 303.7M363.3 303.7Q367.6 308.2 371.4 313.1M386.9 298.7Q386.2 298.3 386.2 299.1M392.1 317.4Q386.1 314.2 380 311.1M376 285.3Q376.4 289.9 374.7 294.3M370.8 316.2Q371.9 314.8 371.4 313.1M362.6 303.3Q362.7 304.1 363.3 303.7M502.6 295.9Q501.9 304.9 498.6 313.4M518.5 309.5Q510.9 312.2 504.3 316.7M498.6 313.4Q501.5 315 504.3 316.7M504.3 316.7Q504.2 320.6 504.6 324.5M513.4 332.3Q509.3 328 504.6 324.5M492.4 349.8Q491.4 346.3 488.6 344.1M492.4 349.8Q500.1 349.6 507.8 349.5M488.6 344.1Q492.3 339.6 497 336.1M497 336.1Q502.8 339.4 508.4 343.2M507.8 349.5Q509.2 346.4 508.4 343.2M487.6 362.8Q490.4 356.4 492.4 349.8M480.8 341.2Q484.6 342.8 488.6 344.1M508.5 350.8Q508.3 350.1 507.8 349.5M513.9 335.3Q511.2 339.2 508.4 343.2M496 330.3Q501 328.4 504.6 324.5M496 330.3Q495.2 333.4 497 336.1M483.1 325.8Q483.4 325.2 484.1 325.3M483.1 325.8Q475.6 321.6 469.9 315.2M484.1 325.3Q485.9 319 489.5 313.5M469.9 315.2Q475.7 308.6 482.5 302.9M489.5 313.5Q486.1 308.3 483.1 302.9M483.1 302.9Q482.8 302.4 482.5 302.9M479.3 332.1Q481.6 329.2 483.1 325.8M496 330.3Q490 327.9 484.1 325.3M460.4 315.5Q465.2 316.5 469.9 315.2M498.6 313.4Q494.1 314.5 489.5 313.5M477.8 300.4Q480.3 301.4 482.5 302.9M486.5 298.4Q484.1 300.1 483.1 302.9" stroke="#32c444" stroke-width="1.3" filter="url(#blur05)"/>
</g>

<rect x="346.3" y="263.6" width="159.9" height="97.7" fill="none" stroke="#000" stroke-opacity="0.7" stroke-width="1"/>
</g>
<clipPath id="c14"><rect x="512" y="263.1" width="160.9" height="98.7"/></clipPath>
<g clip-path="url(#c14)">
<rect x="512" y="263.1" width="160.9" height="98.7" fill="#000501"/>
<g fill="none" stroke-linejoin="round" stroke-linecap="round">
<path d="M652.5 329Q655.7 320.2 660.7 312.3M652.5 329Q657.1 334.4 663.3 338M663.3 338Q665.2 338.3 667 337.6M667 337.6Q671.1 335.6 674.9 333.2M665.2 311.8Q663.1 313.2 660.7 312.3M665.2 311.8Q669.8 319.4 675.5 326.3M675.5 326.3Q675.1 329.7 674.9 333.2M639.8 327.5Q646.1 328.8 652.5 329M639.8 327.5Q639.7 325.8 638.3 324.7M648.9 307.9Q654.7 310.5 660.7 312.3M648.9 307.9Q646.7 307.6 644.4 308.1M638.3 324.7Q642.5 316.8 644.4 308.1M639.8 327.5Q638.9 328.2 639.3 329.3M639.3 329.3Q644.5 340.9 649.5 352.6M649.5 352.6Q657.1 345.9 663.3 338M661.2 286.2Q654.5 296.7 648.9 307.9M661.2 286.2Q662.6 286.1 663.9 285.4M663.9 285.4Q667.3 288.4 670.2 291.8M672 299.4Q670.7 295.7 670.2 291.8M672 299.4Q667.5 305 665.2 311.8M689.9 314.6Q682.4 320.1 675.5 326.3M692.4 307.2Q682.4 302.9 672 299.4M689.6 342.6Q682.2 337.9 674.9 333.2M609 327.3Q605.2 331 602.4 335.6M609 327.3Q610.3 326.7 608.9 326.3M594 321.2Q589.3 331.8 582.9 341.6M594 321.2Q594.5 321.2 595 321.1M595 321.1Q601.8 324.1 608.9 326.3M602.4 335.6Q592.9 339.3 582.9 341.6M687.3 285.2Q678.9 288.9 670.2 291.8M663.9 285.4Q663.2 284.2 664.3 283.2M682 269Q676.7 270.2 671.3 269.3M664.3 283.2Q667.9 276.3 671.3 269.3M661.2 286.2Q653.9 286.2 646.6 285.7M644.4 308.1Q639.2 300.8 632.8 294.6M646.6 285.7Q639.4 289.7 632.8 294.6M638.3 324.7Q627.6 320.8 616.5 318.5M616.5 318.5Q616.4 316.4 616.9 314.4M616.9 314.4Q624.8 305.1 630.3 294.2M630.3 294.2Q631.5 294.7 632.8 294.6M663.7 255Q667.9 261.9 671.3 269.3M609 327.3Q613.2 336.4 619.3 344.5M595.2 356.2Q599.3 346.1 602.4 335.6M595.2 356.2Q600.5 360.1 606.8 361.7M606.8 361.7Q612.6 352.8 619.3 344.5M639.3 329.3Q631.8 336.5 626.1 345.3M608.9 326.3Q612.5 322.2 616.5 318.5M619.3 344.5Q622.8 343.8 626.1 345.3M670.4 379.5Q672.1 370.2 676.3 361.8M667 337.6Q669.2 348.1 671.2 358.7M671.2 358.7Q673.6 360.5 676.3 361.8M655.1 370.2Q654.2 365.3 654.6 360.4M637.1 356.1Q635.3 362.5 631.7 368.1M637.1 356.1Q642.9 353.9 649.2 353.4M649.2 353.4Q652.6 356.4 654.6 360.4M671.2 358.7Q663.1 360.8 654.6 360.4M606.8 361.7Q609.1 364.8 609.6 368.6M626.1 345.3Q632.3 349.9 637.1 356.1M649.5 352.6Q649.6 353.1 649.2 353.4M610.5 307.4Q604 306.2 597.4 305.5M610.5 307.4Q607.5 298.9 603.9 290.7M597.4 305.5Q595 299.2 593.3 292.6M603.9 290.7Q599.9 291.4 595.7 291.1M595.7 291.1Q594.9 292.4 593.3 292.6M595 321.1Q597.1 313.5 597.4 305.5M616.9 314.4Q614.4 310.3 610.5 307.4M617.6 283.9Q619.7 284 621.8 284.3M617.6 283.9Q610.7 287.1 603.9 290.7M621.8 284.3Q626.5 288.9 630.3 294.2M578.7 304.1Q585.8 298.6 592.6 292.7M578.7 304.1Q580.4 311.2 584.1 317.4M592.6 292.7Q593.1 293.8 593.3 292.6M584.1 317.4Q589 319.6 594 321.2M578.7 304.1Q571.9 303 565.3 300.8M584.1 317.4Q575.4 323 567.5 329.9M565.3 300.8Q563.4 311.5 560 321.9M567.5 329.9Q563.3 326.4 560 321.9M582.9 341.6Q581.1 344 578.7 345.9M567.5 329.9Q567.5 330.6 567.7 331.2M578.7 345.9Q573.3 338.5 567.7 331.2M542.7 294.3Q550.2 292.3 557.7 290.2M542.7 294.3Q539.3 303.7 536.3 313.2M536.3 313.2Q537.9 313.7 537 315.1M537 315.1Q551 308 564 299M557.7 290.2Q559.3 294.3 563 296.7M563 296.7Q564.8 297.3 564 299M522.1 291.8Q526 288.1 530.7 285.6M522.1 291.8Q521.1 296.6 519.8 301.3M530.7 285.6Q536.2 290.7 542.7 294.3M519.8 301.3Q528.6 306.5 536.3 313.2M592.6 292.7Q586.9 287.8 581.1 283.1M581.1 283.1Q572.1 290 563 296.7M565.3 300.8Q565.2 299.5 564 299M664.3 283.2Q656.8 274.9 649.3 266.7M649.3 266.7Q654.1 261.5 659.5 257M646.6 285.7Q644.4 276.9 642.9 268.1M649.3 266.7Q646 266.7 642.9 268.1M621.8 284.3Q626.7 273.7 632 263.2M642.9 268.1Q637.9 264.6 632 263.2M632 263.2Q631.7 260.9 630.6 258.8M617.6 283.9Q610.8 275.6 604.9 266.7M604.9 266.7Q604.6 262.4 604.4 258.1M595.7 291.1Q594.3 283.5 595.1 275.9M604.9 266.7Q599.4 270.6 595.1 275.9M540.3 374.7Q535.3 368.6 529.1 363.8M543.7 375.4Q548 365.3 553.2 355.7M550.9 353.1Q552.4 354 553.2 355.7M550.9 353.1Q541.1 353.5 531.4 353.1M529.1 363.8Q530.1 358.4 531.4 353.1M529.1 363.8Q520.1 368.4 511.8 374.2M511.8 374.2Q508.5 365.9 504.7 357.9M560 321.9Q551.8 320.8 543.6 321.8M537 315.1Q537.1 316.9 537.4 318.7M537.4 318.7Q540.2 321 543.6 321.8M567.7 331.2Q559.4 336.8 552.1 343.6M552.1 343.6Q548.8 341.2 546.8 337.7M543.6 321.8Q546.2 329.6 546.8 337.7M591.8 356Q585 352.2 578.9 347.3M591.8 356Q586.9 366.1 581.6 376M578.9 347.3Q573.1 354.5 565.4 359.7M565.4 359.7Q567.6 365.6 567.9 372M595.2 356.2Q593.5 355.7 591.8 356M578.7 345.9Q579.1 346.5 578.9 347.3M552.1 343.6Q551.4 348.3 550.9 353.1M553.2 355.7Q559.2 357.8 565.4 359.7M578.2 274.7Q574.6 271.3 571.1 267.9M578.2 274.7Q584.2 273 590.4 273.4M590.4 273.4Q591.5 264.2 590.2 255M571.1 267.9Q572.8 264.5 572.1 260.8M572.1 260.8Q578.6 256.7 585.8 253.9M581.1 283.1Q579.5 279 578.2 274.7M557.9 279.4Q557.6 284.8 557.7 290.2M557.9 279.4Q564.9 274.1 571.1 267.9M595.1 275.9Q592.8 274.4 590.4 273.4M566.8 255.7Q568.9 258.8 572.1 260.8M522.1 291.8Q514.4 285.4 506 279.8M519.8 301.3Q513.8 305.3 507.1 307.6M511.6 338Q509.6 341.5 506.6 344.3M511.6 338Q516.3 335.3 520.9 332.6M520.9 332.6Q521.4 332.2 521.7 332.7M521.7 332.7Q525 337.8 527.7 343.3M529.5 350Q517.3 354.2 504.9 357.5M529.5 350Q529.8 346.4 527.7 343.3M489.3 327.5Q500.7 332.2 511.6 338M507.1 315.9Q513.8 324.3 520.9 332.6M537.4 318.7Q529.8 325.9 521.7 332.7M546.8 337.7Q537.5 341.3 527.7 343.3M531.4 353.1Q530.7 351.4 529.5 350M550.2 257.5Q549.3 265 546.2 271.8M542.4 249.1Q535.5 255.2 529.7 262.4M546.2 271.8Q539.4 272.5 532.6 272.2M529.7 262.4Q529 265.4 529.3 268.4M532.6 272.2Q530.1 271.1 529.3 268.4M557.9 279.4Q551.8 276 546.2 271.8M517.2 244.3Q522.7 253.9 529.7 262.4M530.7 285.6Q530.8 278.8 532.6 272.2M507.3 270.7Q518.4 270.2 529.3 268.4" stroke="#04220a" stroke-width="1.0" stroke-dasharray="10 4 6 3" filter="url(#blur05)"/>
</g>

<rect x="512.5" y="263.6" width="159.9" height="97.7" fill="none" stroke="#000" stroke-opacity="0.7" stroke-width="1"/>
</g>
<clipPath id="c15"><rect x="678.2" y="263.1" width="160.9" height="98.7"/></clipPath>
<g clip-path="url(#c15)">
<rect x="678.2" y="263.1" width="160.9" height="98.7" fill="#042a16"/>
<g fill="none" stroke-linejoin="round" stroke-linecap="round">
<path d="M841.5 313.4Q846.4 316.4 850.4 320.5M841.5 313.4Q834.2 318.4 826 321.6M826 321.6Q825.7 324.6 826.2 327.5M848.2 331.1Q843.4 332.9 838.9 335.4M826.2 327.5Q833.3 330.3 838.9 335.4M810.7 356.4Q819.5 356.1 827.9 353.7M810.7 356.4Q807.6 352 803.2 349M819.9 337.2Q824 345.4 827.9 353.7M819.9 337.2Q812.9 337.2 806 337.7M803.2 349Q804.7 343.4 806 337.7M810.7 356.4Q809.4 362.5 807.8 368.5M787.1 362.5Q794.8 366.6 801.4 372.4M787.1 362.5Q788.9 358.9 788.8 354.9M788.8 354.9Q796 352.2 803.2 349M787.1 362.5Q785.4 365.2 782.2 365.8M709.7 296.1Q707.8 302.7 703.6 308.2M709.7 296.1Q714.9 300.8 720.5 305M720.5 305Q721 310 721 315M703.6 308.2Q704.7 314.2 706.5 320.1M721 315Q714 318.2 706.5 320.1M753.7 332.9Q755.3 333.9 756.1 335.7M753.7 332.9Q752.1 329.5 752.9 325.8M772.8 319.6Q769.2 326.2 767.2 333.5M772.8 319.6Q764.1 320 755.6 318.2M755.6 318.2Q753.7 321.8 752.9 325.8M756.1 335.7Q761.5 333.5 767.2 333.5M772.8 319.6Q775.1 317 778.3 315.7M778.3 315.7Q785.3 320.1 790.6 326.5M790.7 326.9Q786.8 332.6 782 337.5M767.2 333.5Q775 334.2 782 337.5M790.7 326.9Q798.4 330.3 804.7 335.9M788.8 354.9Q786 349.6 782.4 344.8M806 337.7Q805.5 336.7 804.7 335.9M782 337.5Q783 341.1 782.4 344.8M841.5 313.4Q841.7 307.9 841.3 302.3M841.3 302.3Q846.5 299.6 850.5 295.2M681.9 283.5Q677.3 272.2 672.3 261M681.9 283.5Q689.4 278.2 696.6 272.4M696.6 272.4Q690.8 264.3 684.4 256.5M672.3 261Q674.4 259.3 676.2 257.3M681.5 284.4Q675.4 285.1 669.4 286.5M681.5 284.4Q682.4 284.3 681.9 283.5M687.8 296.4Q685.2 290.1 681.5 284.4M687.8 296.4Q697.5 294.1 706.9 290.4M696.6 272.4Q699 273.9 701.5 272.8M701.5 272.8Q703.1 281.9 706.9 290.4M687.8 296.4Q687.5 298.5 687.1 300.5M687.1 300.5Q695.5 304.1 703.6 308.2M709.7 296.1Q710.4 293.6 708.7 291.6M706.9 290.4Q707.7 291 708.7 291.6M732.8 316.4Q737.6 309.5 742.1 302.4M732.8 316.4Q730.7 317.8 728.4 318.6M720.5 305Q723.1 303.6 724.6 301.1M728.4 318.6Q724.7 316.9 721 315M742.1 302.4Q733.3 303 724.6 301.1M708.7 291.6Q715.6 287.5 723.5 285.4M723.5 285.4Q725.4 286.2 726.3 288M724.6 301.1Q726.8 294.7 726.3 288M790.6 326.5Q794 320.7 798.5 315.7M804.7 335.9Q808.9 326.4 813.9 317.3M798.5 315.7Q806.1 317.6 813.9 317.3M826 321.6Q822.1 318.9 818.5 315.8M841.3 302.3Q837.1 300.8 833.6 298.2M833.6 298.2Q825.6 301.5 818 305.2M818 305.2Q818.5 310.5 818.5 315.8M819.9 337.2Q821.9 331.6 826.2 327.5M818.5 315.8Q816.6 317.5 813.9 317.3M838.9 335.4Q837.8 342.9 836.7 350.5M827.9 353.7Q829 354.7 830.5 355.2M830.5 355.2Q833.8 353.1 836.7 350.5M836.7 350.5Q846.6 350.6 856.4 349.5M725.8 338.5Q727.9 337.2 729.9 335.6M725.8 338.5Q725.5 343.6 722.9 348M722.9 348Q727.3 352.6 730.4 358.1M733.3 336.4Q736.8 345.5 741.7 354M733.3 336.4Q731.5 336.4 729.9 335.6M741.7 354Q735.6 354.9 730.4 358.1M728.4 318.6Q728.8 327.1 729.9 335.6M704.8 330.9Q715.4 334.3 725.8 338.5M704.8 330.9Q704.3 326.3 705.2 321.9M705.2 321.9Q705.9 321 706.5 320.1M704.8 330.9Q705.2 332.3 703.7 332.4M703.7 332.4Q705.9 343.7 706 355.2M706 355.2Q714.5 351.5 722.9 348M732.8 316.4Q743.1 320.8 752.9 325.8M753.7 332.9Q743.6 335.6 733.3 336.4M756.3 341.8Q763.1 345.7 769.3 350.3M756.3 341.8Q754.3 349.1 750.2 355.4M769.3 350.3Q768.7 356.1 769.1 361.9M750.2 355.4Q752.1 361.2 754.4 366.7M769.1 361.9Q761.6 363.6 754.7 367M756.1 335.7Q755.7 338.8 756.3 341.8M782.4 344.8Q775.9 347.7 769.3 350.3M741.7 354Q745.8 355.7 750.2 355.4M782.2 365.8Q775.9 363.2 769.1 361.9M728.3 367Q729.3 362.5 730.4 358.1M705.7 355.8Q706 355.6 706 355.2M705.7 355.8Q704.9 357.9 705.5 360M723.3 368.6Q714.7 363.6 705.5 360M685.6 365.2Q683.1 355.8 682.2 346.2M666.5 354.6Q674.4 350.5 682 345.9M705.7 355.8Q693.6 351.8 682.2 346.2M705.5 360Q701.6 363.5 700 368.3M703.7 332.4Q695.9 333.4 688.7 336.7M688.7 336.7Q684.9 340.9 682 345.9M705.2 321.9Q692.3 319.4 680.2 314.4M688.7 336.7Q684.6 326 678.9 316.1M678.9 316.1Q678.8 314.7 680.2 314.4M687.1 300.5Q684 305.6 680.7 310.5M666.2 298.2Q673.6 304.2 680.7 310.5M680.2 314.4Q679.2 312.3 680.7 310.5M720.7 271Q712.5 270.5 704.3 270.7M720.7 271Q723.6 263.4 724.6 255.3M704.3 270.7Q704.6 261.9 706.8 253.5M701.5 272.8Q703.7 272.8 704.3 270.7M723.5 285.4Q724.9 280.3 724.1 275M724.1 275Q722.8 272.7 720.7 271M798.5 315.7Q796.8 308.7 797.2 301.4M818 305.2Q816 302.6 813.6 300.5M797.2 301.4Q805.4 300.7 813.6 300.5M778.3 315.7Q777.4 310.8 776.4 305.9M797.2 301.4Q795.7 298.4 792.6 297M776.4 305.9Q784.7 301.8 792.6 297M798.4 282.5Q796.2 286.5 792.4 289M798.4 282.5Q807.2 285.5 815.3 290.2M815.3 290.2Q815 295.4 813.6 300.5M792.6 297Q791.5 293 792.4 289M845.7 266.3Q841.3 257.2 835.9 248.6M830.6 355.9Q834.9 359.9 837.9 365M830.6 355.9Q825.2 364.2 820.6 372.9M852.8 364.5Q845.3 363.7 837.9 365M830.5 355.2Q831.7 355.3 830.6 355.9M682 345.9Q674.9 337.7 667.2 330.1M678.9 316.1Q673.6 318.9 668.3 321.5M724.1 275Q733.3 274.7 742.1 271.8M739.8 257.2Q741.1 264.5 742.1 271.8M726.3 288Q736 289.6 745.5 292.5M745.5 292.5Q744.8 282.6 743.2 272.9M742.1 271.8Q743.5 271.4 743.2 272.9M747.3 298.4Q748.1 296.7 747.3 295M747.3 298.4Q751.1 303.2 755.5 307.5M747.3 295Q752.7 291.1 758.7 288.4M755.5 307.5Q765.1 306.7 774.5 305M758.7 288.4Q764.2 288.4 769.6 288.4M774.5 305Q773.1 296.4 769.6 288.4M742.1 302.4Q745.3 301.1 747.3 298.4M745.5 292.5Q745.8 294.2 747.3 295M755.6 318.2Q756.4 312.8 755.5 307.5M760.2 269.2Q751.6 270.2 743.2 272.9M760.2 269.2Q758.7 278.8 758.7 288.4M776.4 305.9Q775.7 304.8 774.5 305M776.9 280.6Q773.2 284.4 769.6 288.4M776.9 280.6Q784.5 285.1 792.4 289M851.5 290.8Q844.9 282.8 837 276.1M845.7 266.3Q842 270.4 837.4 273.3M837 276.1Q838.4 274.9 837.4 273.3M833.6 298.2Q832.1 291.2 828.5 285.1M837 276.1Q832.5 280.4 828.5 285.1M815.3 290.2Q817.6 286.6 821.3 284.7M821.3 284.7Q824.9 284.5 828.5 285.1M803 254.7Q804 262.1 805 269.6M824.2 260Q823.8 261.9 823.9 263.8M823.9 263.8Q818.2 266.7 813.2 270.7M805 269.6Q809 271.3 813.2 270.7M837.4 273.3Q830 269.6 823.9 263.8M821.3 284.7Q817.4 277.6 813.2 270.7M798.4 282.5Q799.2 277.4 801.4 272.7M801.4 272.7Q803.8 271.9 805 269.6M790.1 251.4Q788.9 259.8 789.9 268.2M782 248.1Q774.7 254.8 769.3 263.2M789.9 268.2Q782.2 268 774.8 270M774.8 270Q771.1 267.4 769.3 263.2M801.4 272.7Q795.4 271.2 789.9 268.2M776.9 280.6Q774.9 275.5 774.8 270M760.2 269.2Q763.9 265.9 767.9 263.1M767.9 263.1Q768.6 262.8 769.3 263.2M767.9 263.1Q760.9 256.9 754.7 249.8" stroke="#0e6a36" stroke-width="3.5" filter="url(#blur2)" opacity="0.6"/>
<path d="M841.5 313.4Q846.4 316.4 850.4 320.5M841.5 313.4Q834.2 318.4 826 321.6M826 321.6Q825.7 324.6 826.2 327.5M848.2 331.1Q843.4 332.9 838.9 335.4M826.2 327.5Q833.3 330.3 838.9 335.4M810.7 356.4Q819.5 356.1 827.9 353.7M810.7 356.4Q807.6 352 803.2 349M819.9 337.2Q824 345.4 827.9 353.7M819.9 337.2Q812.9 337.2 806 337.7M803.2 349Q804.7 343.4 806 337.7M810.7 356.4Q809.4 362.5 807.8 368.5M787.1 362.5Q794.8 366.6 801.4 372.4M787.1 362.5Q788.9 358.9 788.8 354.9M788.8 354.9Q796 352.2 803.2 349M787.1 362.5Q785.4 365.2 782.2 365.8M709.7 296.1Q707.8 302.7 703.6 308.2M709.7 296.1Q714.9 300.8 720.5 305M720.5 305Q721 310 721 315M703.6 308.2Q704.7 314.2 706.5 320.1M721 315Q714 318.2 706.5 320.1M753.7 332.9Q755.3 333.9 756.1 335.7M753.7 332.9Q752.1 329.5 752.9 325.8M772.8 319.6Q769.2 326.2 767.2 333.5M772.8 319.6Q764.1 320 755.6 318.2M755.6 318.2Q753.7 321.8 752.9 325.8M756.1 335.7Q761.5 333.5 767.2 333.5M772.8 319.6Q775.1 317 778.3 315.7M778.3 315.7Q785.3 320.1 790.6 326.5M790.7 326.9Q786.8 332.6 782 337.5M767.2 333.5Q775 334.2 782 337.5M790.7 326.9Q798.4 330.3 804.7 335.9M788.8 354.9Q786 349.6 782.4 344.8M806 337.7Q805.5 336.7 804.7 335.9M782 337.5Q783 341.1 782.4 344.8M841.5 313.4Q841.7 307.9 841.3 302.3M841.3 302.3Q846.5 299.6 850.5 295.2M681.9 283.5Q677.3 272.2 672.3 261M681.9 283.5Q689.4 278.2 696.6 272.4M696.6 272.4Q690.8 264.3 684.4 256.5M672.3 261Q674.4 259.3 676.2 257.3M681.5 284.4Q675.4 285.1 669.4 286.5M681.5 284.4Q682.4 284.3 681.9 283.5M687.8 296.4Q685.2 290.1 681.5 284.4M687.8 296.4Q697.5 294.1 706.9 290.4M696.6 272.4Q699 273.9 701.5 272.8M701.5 272.8Q703.1 281.9 706.9 290.4M687.8 296.4Q687.5 298.5 687.1 300.5M687.1 300.5Q695.5 304.1 703.6 308.2M709.7 296.1Q710.4 293.6 708.7 291.6M706.9 290.4Q707.7 291 708.7 291.6M732.8 316.4Q737.6 309.5 742.1 302.4M732.8 316.4Q730.7 317.8 728.4 318.6M720.5 305Q723.1 303.6 724.6 301.1M728.4 318.6Q724.7 316.9 721 315M742.1 302.4Q733.3 303 724.6 301.1M708.7 291.6Q715.6 287.5 723.5 285.4M723.5 285.4Q725.4 286.2 726.3 288M724.6 301.1Q726.8 294.7 726.3 288M790.6 326.5Q794 320.7 798.5 315.7M804.7 335.9Q808.9 326.4 813.9 317.3M798.5 315.7Q806.1 317.6 813.9 317.3M826 321.6Q822.1 318.9 818.5 315.8M841.3 302.3Q837.1 300.8 833.6 298.2M833.6 298.2Q825.6 301.5 818 305.2M818 305.2Q818.5 310.5 818.5 315.8M819.9 337.2Q821.9 331.6 826.2 327.5M818.5 315.8Q816.6 317.5 813.9 317.3M838.9 335.4Q837.8 342.9 836.7 350.5M827.9 353.7Q829 354.7 830.5 355.2M830.5 355.2Q833.8 353.1 836.7 350.5M836.7 350.5Q846.6 350.6 856.4 349.5M725.8 338.5Q727.9 337.2 729.9 335.6M725.8 338.5Q725.5 343.6 722.9 348M722.9 348Q727.3 352.6 730.4 358.1M733.3 336.4Q736.8 345.5 741.7 354M733.3 336.4Q731.5 336.4 729.9 335.6M741.7 354Q735.6 354.9 730.4 358.1M728.4 318.6Q728.8 327.1 729.9 335.6M704.8 330.9Q715.4 334.3 725.8 338.5M704.8 330.9Q704.3 326.3 705.2 321.9M705.2 321.9Q705.9 321 706.5 320.1M704.8 330.9Q705.2 332.3 703.7 332.4M703.7 332.4Q705.9 343.7 706 355.2M706 355.2Q714.5 351.5 722.9 348M732.8 316.4Q743.1 320.8 752.9 325.8M753.7 332.9Q743.6 335.6 733.3 336.4M756.3 341.8Q763.1 345.7 769.3 350.3M756.3 341.8Q754.3 349.1 750.2 355.4M769.3 350.3Q768.7 356.1 769.1 361.9M750.2 355.4Q752.1 361.2 754.4 366.7M769.1 361.9Q761.6 363.6 754.7 367M756.1 335.7Q755.7 338.8 756.3 341.8M782.4 344.8Q775.9 347.7 769.3 350.3M741.7 354Q745.8 355.7 750.2 355.4M782.2 365.8Q775.9 363.2 769.1 361.9M728.3 367Q729.3 362.5 730.4 358.1M705.7 355.8Q706 355.6 706 355.2M705.7 355.8Q704.9 357.9 705.5 360M723.3 368.6Q714.7 363.6 705.5 360M685.6 365.2Q683.1 355.8 682.2 346.2M666.5 354.6Q674.4 350.5 682 345.9M705.7 355.8Q693.6 351.8 682.2 346.2M705.5 360Q701.6 363.5 700 368.3M703.7 332.4Q695.9 333.4 688.7 336.7M688.7 336.7Q684.9 340.9 682 345.9M705.2 321.9Q692.3 319.4 680.2 314.4M688.7 336.7Q684.6 326 678.9 316.1M678.9 316.1Q678.8 314.7 680.2 314.4M687.1 300.5Q684 305.6 680.7 310.5M666.2 298.2Q673.6 304.2 680.7 310.5M680.2 314.4Q679.2 312.3 680.7 310.5M720.7 271Q712.5 270.5 704.3 270.7M720.7 271Q723.6 263.4 724.6 255.3M704.3 270.7Q704.6 261.9 706.8 253.5M701.5 272.8Q703.7 272.8 704.3 270.7M723.5 285.4Q724.9 280.3 724.1 275M724.1 275Q722.8 272.7 720.7 271M798.5 315.7Q796.8 308.7 797.2 301.4M818 305.2Q816 302.6 813.6 300.5M797.2 301.4Q805.4 300.7 813.6 300.5M778.3 315.7Q777.4 310.8 776.4 305.9M797.2 301.4Q795.7 298.4 792.6 297M776.4 305.9Q784.7 301.8 792.6 297M798.4 282.5Q796.2 286.5 792.4 289M798.4 282.5Q807.2 285.5 815.3 290.2M815.3 290.2Q815 295.4 813.6 300.5M792.6 297Q791.5 293 792.4 289M845.7 266.3Q841.3 257.2 835.9 248.6M830.6 355.9Q834.9 359.9 837.9 365M830.6 355.9Q825.2 364.2 820.6 372.9M852.8 364.5Q845.3 363.7 837.9 365M830.5 355.2Q831.7 355.3 830.6 355.9M682 345.9Q674.9 337.7 667.2 330.1M678.9 316.1Q673.6 318.9 668.3 321.5M724.1 275Q733.3 274.7 742.1 271.8M739.8 257.2Q741.1 264.5 742.1 271.8M726.3 288Q736 289.6 745.5 292.5M745.5 292.5Q744.8 282.6 743.2 272.9M742.1 271.8Q743.5 271.4 743.2 272.9M747.3 298.4Q748.1 296.7 747.3 295M747.3 298.4Q751.1 303.2 755.5 307.5M747.3 295Q752.7 291.1 758.7 288.4M755.5 307.5Q765.1 306.7 774.5 305M758.7 288.4Q764.2 288.4 769.6 288.4M774.5 305Q773.1 296.4 769.6 288.4M742.1 302.4Q745.3 301.1 747.3 298.4M745.5 292.5Q745.8 294.2 747.3 295M755.6 318.2Q756.4 312.8 755.5 307.5M760.2 269.2Q751.6 270.2 743.2 272.9M760.2 269.2Q758.7 278.8 758.7 288.4M776.4 305.9Q775.7 304.8 774.5 305M776.9 280.6Q773.2 284.4 769.6 288.4M776.9 280.6Q784.5 285.1 792.4 289M851.5 290.8Q844.9 282.8 837 276.1M845.7 266.3Q842 270.4 837.4 273.3M837 276.1Q838.4 274.9 837.4 273.3M833.6 298.2Q832.1 291.2 828.5 285.1M837 276.1Q832.5 280.4 828.5 285.1M815.3 290.2Q817.6 286.6 821.3 284.7M821.3 284.7Q824.9 284.5 828.5 285.1M803 254.7Q804 262.1 805 269.6M824.2 260Q823.8 261.9 823.9 263.8M823.9 263.8Q818.2 266.7 813.2 270.7M805 269.6Q809 271.3 813.2 270.7M837.4 273.3Q830 269.6 823.9 263.8M821.3 284.7Q817.4 277.6 813.2 270.7M798.4 282.5Q799.2 277.4 801.4 272.7M801.4 272.7Q803.8 271.9 805 269.6M790.1 251.4Q788.9 259.8 789.9 268.2M782 248.1Q774.7 254.8 769.3 263.2M789.9 268.2Q782.2 268 774.8 270M774.8 270Q771.1 267.4 769.3 263.2M801.4 272.7Q795.4 271.2 789.9 268.2M776.9 280.6Q774.9 275.5 774.8 270M760.2 269.2Q763.9 265.9 767.9 263.1M767.9 263.1Q768.6 262.8 769.3 263.2M767.9 263.1Q760.9 256.9 754.7 249.8" stroke="#25ad4e" stroke-width="1.3" filter="url(#blur05)"/>
</g>
<rect x="819.5" y="354.1" width="13.4" height="1.7" fill="#909090"/>
<rect x="678.7" y="263.6" width="159.9" height="97.7" fill="none" stroke="#000" stroke-opacity="0.7" stroke-width="1"/>
</g>
<rect x="13.4" y="137.2" width="25.3" height="17" fill="#000"/>
<text x="15.3" y="149.9" font-size="13.8" class="w">WT</text>
<rect x="13.4" y="241.5" width="35" height="16.3" fill="#000"/>
<text x="16" y="253.8" font-size="13.4" class="i w">Sgcg</text>
<rect x="13.4" y="344.4" width="49.7" height="17.5" fill="#000"/>
<text x="16" y="357.3" font-size="13.4" class="i w">Sgcg<tspan font-size="9" dx="0.6" dy="-4" style="font-style:normal">TG</tspan></text>
<text x="464.4" y="403.3" font-size="15.4" text-anchor="middle">Membrane localization</text>
<rect x="49.5" y="411.9" width="793.5" height="1.7" fill="#000"/>
<text x="10.7" y="437.3" class="b" font-size="19">B</text>
<path fill="#1b9e77" opacity="0.7" d="M79.4 512.8h1.6v1.6h-1.6zM79.3 519.1h1.6v1.6h-1.6zM79 515.6h1.6v1.6h-1.6zM79 528.4h1.6v1.6h-1.6zM79.5 518.3h1.6v1.6h-1.6zM79.1 503.8h1.6v1.6h-1.6zM79.2 523.9h1.6v1.6h-1.6zM79.3 528.2h1.6v1.6h-1.6zM79.2 504.9h1.6v1.6h-1.6zM78.9 502.8h1.6v1.6h-1.6zM79.1 566h1.6v1.6h-1.6zM79.2 560.9h1.6v1.6h-1.6zM79.4 565.9h1.6v1.6h-1.6zM79.3 572.4h1.6v1.6h-1.6zM79.2 561h1.6v1.6h-1.6zM79 572.6h1.6v1.6h-1.6zM89.6 529.4h1.6v1.6h-1.6zM89.5 544.4h1.6v1.6h-1.6zM89.8 531.7h1.6v1.6h-1.6zM89.5 538.9h1.6v1.6h-1.6zM89.7 537.4h1.6v1.6h-1.6zM89.3 541.5h1.6v1.6h-1.6zM89.7 544.2h1.6v1.6h-1.6zM89.9 544.5h1.6v1.6h-1.6zM89.7 534.6h1.6v1.6h-1.6zM89.3 543.3h1.6v1.6h-1.6zM89.7 545.3h1.6v1.6h-1.6zM89.5 519.5h1.6v1.6h-1.6zM89.9 569.7h1.6v1.6h-1.6zM89.3 573.4h1.6v1.6h-1.6zM89.3 571.8h1.6v1.6h-1.6zM89.4 574.1h1.6v1.6h-1.6zM99.7 545.9h1.6v1.6h-1.6zM99.6 540.9h1.6v1.6h-1.6zM99.8 544.4h1.6v1.6h-1.6zM99.7 543.5h1.6v1.6h-1.6zM100 546.8h1.6v1.6h-1.6zM100 546.5h1.6v1.6h-1.6zM100 545.7h1.6v1.6h-1.6zM99.6 539.2h1.6v1.6h-1.6zM100 569.2h1.6v1.6h-1.6zM99.5 569.7h1.6v1.6h-1.6zM99.6 569h1.6v1.6h-1.6zM99.9 571.1h1.6v1.6h-1.6zM109.9 540h1.6v1.6h-1.6zM109.5 527.7h1.6v1.6h-1.6zM109.7 532.2h1.6v1.6h-1.6zM110 533.5h1.6v1.6h-1.6zM110.1 534.6h1.6v1.6h-1.6zM109.7 524.5h1.6v1.6h-1.6zM110 527.5h1.6v1.6h-1.6zM109.6 542.2h1.6v1.6h-1.6zM109.9 521.6h1.6v1.6h-1.6zM109.7 538.3h1.6v1.6h-1.6zM109.5 521h1.6v1.6h-1.6zM109.6 564.1h1.6v1.6h-1.6zM109.8 569.2h1.6v1.6h-1.6zM109.8 569.9h1.6v1.6h-1.6zM109.9 568h1.6v1.6h-1.6zM109.7 571.1h1.6v1.6h-1.6z"/>
<g fill="#1b9e77"><rect x="78.8" y="529.4" width="2.3" height="31.9"/><rect x="89.2" y="546.1" width="2.3" height="24.3"/><rect x="99.4" y="547.6" width="2.3" height="21.2"/><rect x="109.4" y="543" width="2.3" height="21.2"/><circle cx="80" cy="545.2" r="3.3"/><circle cx="90.4" cy="557.6" r="3.3"/><circle cx="100.6" cy="557.6" r="3.3"/><circle cx="110.6" cy="553.6" r="3.3"/></g>
<path fill="#d95f02" opacity="0.7" d="M145.9 528.4h1.6v1.6h-1.6zM145.7 534.9h1.6v1.6h-1.6zM145.5 521.3h1.6v1.6h-1.6zM145.7 539.2h1.6v1.6h-1.6zM145.6 528.7h1.6v1.6h-1.6zM145.6 528.7h1.6v1.6h-1.6zM145.7 539.1h1.6v1.6h-1.6zM145.9 521.4h1.6v1.6h-1.6zM145.3 527h1.6v1.6h-1.6zM145.7 511.8h1.6v1.6h-1.6zM145.8 508.8h1.6v1.6h-1.6zM145.5 574.4h1.6v1.6h-1.6zM145.4 575.5h1.6v1.6h-1.6zM145.6 579.8h1.6v1.6h-1.6zM145.3 581.7h1.6v1.6h-1.6zM152.7 518.4h1.6v1.6h-1.6zM152.6 538.2h1.6v1.6h-1.6zM152.2 528.4h1.6v1.6h-1.6zM152.7 520.3h1.6v1.6h-1.6zM152.3 549.8h1.6v1.6h-1.6zM152.5 548.1h1.6v1.6h-1.6zM152.3 541.3h1.6v1.6h-1.6zM152.3 531.8h1.6v1.6h-1.6zM152.1 543.3h1.6v1.6h-1.6zM152.3 546.1h1.6v1.6h-1.6zM152.3 549.8h1.6v1.6h-1.6zM152.1 540.9h1.6v1.6h-1.6zM152.1 506.9h1.6v1.6h-1.6zM152.1 501.3h1.6v1.6h-1.6zM152.6 577.1h1.6v1.6h-1.6zM152.3 578.8h1.6v1.6h-1.6zM152.6 577.3h1.6v1.6h-1.6zM152.4 581.7h1.6v1.6h-1.6zM159.1 551.5h1.6v1.6h-1.6zM159.3 553.1h1.6v1.6h-1.6zM159.5 548.8h1.6v1.6h-1.6zM159 553.3h1.6v1.6h-1.6zM159.3 548.4h1.6v1.6h-1.6zM159.4 553h1.6v1.6h-1.6zM159.3 554.2h1.6v1.6h-1.6zM159 545.3h1.6v1.6h-1.6zM159.2 579.2h1.6v1.6h-1.6zM159.5 578.7h1.6v1.6h-1.6zM159.2 579.1h1.6v1.6h-1.6zM159.3 581.7h1.6v1.6h-1.6zM165.7 565.9h1.6v1.6h-1.6zM165.7 562.7h1.6v1.6h-1.6zM165.6 564.6h1.6v1.6h-1.6zM165.8 562.8h1.6v1.6h-1.6zM166 566h1.6v1.6h-1.6zM165.7 566.2h1.6v1.6h-1.6zM165.8 566.3h1.6v1.6h-1.6zM166.1 560.4h1.6v1.6h-1.6zM165.8 581.2h1.6v1.6h-1.6zM165.7 580.2h1.6v1.6h-1.6zM166 580.5h1.6v1.6h-1.6zM166 581.5h1.6v1.6h-1.6zM165.9 583.2h1.6v1.6h-1.6zM172.3 565.9h1.6v1.6h-1.6zM172.5 565h1.6v1.6h-1.6zM172.4 565.9h1.6v1.6h-1.6zM172.7 561.3h1.6v1.6h-1.6zM172.8 566.5h1.6v1.6h-1.6zM172.5 561.9h1.6v1.6h-1.6zM172.5 566.1h1.6v1.6h-1.6zM172.3 560.4h1.6v1.6h-1.6zM172.4 581.7h1.6v1.6h-1.6zM172.3 582.8h1.6v1.6h-1.6zM172.7 582.6h1.6v1.6h-1.6zM172.4 583.2h1.6v1.6h-1.6zM179.4 554.8h1.6v1.6h-1.6zM179.4 556.5h1.6v1.6h-1.6zM179.7 554.1h1.6v1.6h-1.6zM179.4 553.7h1.6v1.6h-1.6zM179.3 555.9h1.6v1.6h-1.6zM179.7 556.6h1.6v1.6h-1.6zM179.5 547.4h1.6v1.6h-1.6zM179.2 546.8h1.6v1.6h-1.6zM179.4 545.3h1.6v1.6h-1.6zM179.6 582h1.6v1.6h-1.6zM179.4 581.9h1.6v1.6h-1.6zM179.3 583.2h1.6v1.6h-1.6z"/>
<g fill="#d95f02"><rect x="145.2" y="540" width="2.3" height="34.9"/><rect x="152" y="550.6" width="2.3" height="27.3"/><rect x="158.8" y="555.2" width="2.3" height="24.3"/><rect x="165.4" y="567.3" width="2.3" height="13.7"/><rect x="172.2" y="567.3" width="2.3" height="15.2"/><rect x="179" y="558.2" width="2.3" height="24.3"/><circle cx="146.4" cy="558.5" r="3.3"/><circle cx="153.2" cy="564.6" r="3.3"/><circle cx="160" cy="567.9" r="3.3"/><circle cx="166.6" cy="574.9" r="3.3"/><circle cx="173.4" cy="575.5" r="3.3"/><circle cx="180.2" cy="570.3" r="3.3"/></g>
<path fill="#7570b3" opacity="0.7" d="M215.2 515.5h1.6v1.6h-1.6zM215 494.2h1.6v1.6h-1.6zM215 506h1.6v1.6h-1.6zM214.9 522.5h1.6v1.6h-1.6zM214.8 517h1.6v1.6h-1.6zM215 493.4h1.6v1.6h-1.6zM214.9 522.3h1.6v1.6h-1.6zM215.2 513.9h1.6v1.6h-1.6zM214.8 506h1.6v1.6h-1.6zM214.7 517.6h1.6v1.6h-1.6zM215.2 497.5h1.6v1.6h-1.6zM215.3 469.4h1.6v1.6h-1.6zM215 571.1h1.6v1.6h-1.6zM215.2 576.4h1.6v1.6h-1.6zM215.1 574.5h1.6v1.6h-1.6zM215.2 577.1h1.6v1.6h-1.6zM225.4 504.7h1.6v1.6h-1.6zM225 509.8h1.6v1.6h-1.6zM225.4 502h1.6v1.6h-1.6zM224.9 488.8h1.6v1.6h-1.6zM225.5 473.9h1.6v1.6h-1.6zM225.1 480h1.6v1.6h-1.6zM225.1 494.2h1.6v1.6h-1.6zM225.1 476h1.6v1.6h-1.6zM225.3 524h1.6v1.6h-1.6zM225.4 524h1.6v1.6h-1.6zM225.3 520.4h1.6v1.6h-1.6zM225 468.5h1.6v1.6h-1.6zM225.1 568h1.6v1.6h-1.6zM225.2 571.8h1.6v1.6h-1.6zM225.1 568.5h1.6v1.6h-1.6zM225.5 580.2h1.6v1.6h-1.6zM235.1 547.5h1.6v1.6h-1.6zM235.2 547.7h1.6v1.6h-1.6zM235.5 554.9h1.6v1.6h-1.6zM235.3 551.2h1.6v1.6h-1.6zM235.2 555h1.6v1.6h-1.6zM235.2 554.2h1.6v1.6h-1.6zM235.4 545.8h1.6v1.6h-1.6zM235.3 554.8h1.6v1.6h-1.6zM235.6 548.1h1.6v1.6h-1.6zM235.5 554.9h1.6v1.6h-1.6zM235.4 539.2h1.6v1.6h-1.6zM235.5 576h1.6v1.6h-1.6zM235.2 574.2h1.6v1.6h-1.6zM235.4 576.5h1.6v1.6h-1.6zM235.6 577.1h1.6v1.6h-1.6zM245.6 462.9h1.6v1.6h-1.6zM245.3 519.4h1.6v1.6h-1.6zM245.4 513.7h1.6v1.6h-1.6zM245.6 478.3h1.6v1.6h-1.6zM245.2 515.1h1.6v1.6h-1.6zM245.3 512.8h1.6v1.6h-1.6zM245.6 520.3h1.6v1.6h-1.6zM245.3 471.1h1.6v1.6h-1.6zM245.4 520.1h1.6v1.6h-1.6zM245.6 488.5h1.6v1.6h-1.6zM245.5 520.4h1.6v1.6h-1.6zM245.7 516h1.6v1.6h-1.6zM245.4 459.9h1.6v1.6h-1.6zM245.5 449.7h1.6v1.6h-1.6zM245.1 566.6h1.6v1.6h-1.6zM245.7 572.1h1.6v1.6h-1.6zM245.4 566.9h1.6v1.6h-1.6zM245.4 575.6h1.6v1.6h-1.6z"/>
<g fill="#7570b3"><rect x="214.7" y="523.3" width="2.3" height="48.6"/><rect x="224.8" y="524.8" width="2.3" height="44"/><rect x="235" y="556.7" width="2.3" height="18.2"/><rect x="245" y="521.8" width="2.3" height="45.5"/><circle cx="215.8" cy="545.5" r="3.3"/><circle cx="226" cy="546.7" r="3.3"/><circle cx="236.2" cy="566.1" r="3.3"/><circle cx="246.2" cy="544.5" r="3.3"/></g>
<line x1="55.4" y1="553.6" x2="272" y2="553.6" stroke="#000" stroke-width="1.6" stroke-dasharray="6.8 8.6"/>
<g stroke="#000" stroke-width="1.4" fill="none"><line x1="95.6" y1="540.9" x2="95.6" y2="566.4"/><line x1="85.1" y1="540.9" x2="106.1" y2="540.9"/><line x1="85.1" y1="566.4" x2="106.1" y2="566.4"/><line x1="70.4" y1="553.6" x2="124" y2="553.6" stroke-width="1.8"/></g>
<g stroke="#000" stroke-width="1.4" fill="none"><line x1="163.2" y1="557.6" x2="163.2" y2="580.1"/><line x1="152.7" y1="557.6" x2="173.7" y2="557.6"/><line x1="152.7" y1="580.1" x2="173.7" y2="580.1"/><line x1="141.4" y1="568.8" x2="185" y2="568.8" stroke-width="1.8"/></g>
<g stroke="#000" stroke-width="1.4" fill="none"><line x1="231" y1="530" x2="231" y2="571.3"/><line x1="220.5" y1="530" x2="241.5" y2="530"/><line x1="220.5" y1="571.3" x2="241.5" y2="571.3"/><line x1="209.4" y1="550.6" x2="252.8" y2="550.6" stroke-width="1.8"/></g>
<g stroke="#000" stroke-width="1.4" fill="none"><line x1="54.6" y1="449.5" x2="54.6" y2="586"/><line x1="53.9" y1="585.6" x2="272" y2="585.6"/><line x1="49.0" y1="584" x2="54.6" y2="584"/><line x1="49.0" y1="553.6" x2="54.6" y2="553.6"/><line x1="49.0" y1="523.3" x2="54.6" y2="523.3"/><line x1="49.0" y1="492.9" x2="54.6" y2="492.9"/><line x1="49.0" y1="462.6" x2="54.6" y2="462.6"/><line x1="95.6" y1="585.6" x2="95.6" y2="591.4"/><line x1="163.2" y1="585.6" x2="163.2" y2="591.4"/><line x1="231" y1="585.6" x2="231" y2="591.4"/></g>
<text x="44.2" y="589.2" font-size="14.5" text-anchor="end">0</text>
<text x="44.2" y="558.9" font-size="14.5" text-anchor="end">1</text>
<text x="44.2" y="528.5" font-size="14.5" text-anchor="end">2</text>
<text x="44.2" y="498.1" font-size="14.5" text-anchor="end">3</text>
<text x="44.2" y="467.8" font-size="14.5" text-anchor="end">4</text>
<text transform="translate(26.7,515.5) rotate(-90)" font-size="15.3" text-anchor="middle"><tspan class="gr" font-size="16.5">α</tspan>-SG (FC)</text>
<text x="94.8" y="606.3" font-size="15.3" text-anchor="middle">WT</text>
<text x="162.9" y="606.3" font-size="15.1" text-anchor="middle" class="i">Sgcg</text>
<text x="230.1" y="606.3" font-size="15.1" text-anchor="middle"><tspan class="i">Sgcg</tspan><tspan font-size="9.7" dx="0.9" dy="-4.6">TG</tspan></text>
<text x="120.2" y="450.4" font-size="11.3" text-anchor="middle"><tspan class="i">P</tspan> = 0.0001</text>
<rect x="95" y="452.9" width="52" height="1.5" fill="#000"/>
<text x="204" y="450.4" font-size="11.3" text-anchor="middle"><tspan class="i">P</tspan> = 0.0015</text>
<rect x="178" y="452.9" width="52" height="1.5" fill="#000"/>
<text x="306.4" y="437.3" class="b" font-size="19">C</text>
<path fill="#1b9e77" opacity="0.7" d="M369.7 499.8h1.6v1.6h-1.6zM369.5 505.1h1.6v1.6h-1.6zM369.3 506.9h1.6v1.6h-1.6zM369.4 483.4h1.6v1.6h-1.6zM369.7 495.5h1.6v1.6h-1.6zM369.4 452.5h1.6v1.6h-1.6zM369.3 466.6h1.6v1.6h-1.6zM369.2 467.9h1.6v1.6h-1.6zM369.5 507.2h1.6v1.6h-1.6zM369.6 490h1.6v1.6h-1.6zM369.4 486.6h1.6v1.6h-1.6zM369.7 507.2h1.6v1.6h-1.6zM369.5 451.1h1.6v1.6h-1.6zM369.7 553.9h1.6v1.6h-1.6zM369.5 553.1h1.6v1.6h-1.6zM369.6 552.7h1.6v1.6h-1.6zM369.4 559.1h1.6v1.6h-1.6zM377.8 511.4h1.6v1.6h-1.6zM378 495.1h1.6v1.6h-1.6zM377.8 487h1.6v1.6h-1.6zM377.7 494.1h1.6v1.6h-1.6zM377.5 505.9h1.6v1.6h-1.6zM377.8 511.6h1.6v1.6h-1.6zM377.8 510.7h1.6v1.6h-1.6zM378 501.6h1.6v1.6h-1.6zM378 497.2h1.6v1.6h-1.6zM377.7 478.1h1.6v1.6h-1.6zM377.9 559.1h1.6v1.6h-1.6zM378 565.1h1.6v1.6h-1.6zM377.7 562.5h1.6v1.6h-1.6zM377.8 565.9h1.6v1.6h-1.6zM385.7 518.1h1.6v1.6h-1.6zM385.9 521.4h1.6v1.6h-1.6zM385.9 521.7h1.6v1.6h-1.6zM386 526.3h1.6v1.6h-1.6zM386 526.6h1.6v1.6h-1.6zM386.1 525h1.6v1.6h-1.6zM385.7 518.1h1.6v1.6h-1.6zM385.9 515.9h1.6v1.6h-1.6zM385.7 509.5h1.6v1.6h-1.6zM385.7 525.4h1.6v1.6h-1.6zM386 500.6h1.6v1.6h-1.6zM385.9 561.5h1.6v1.6h-1.6zM385.9 560.9h1.6v1.6h-1.6zM385.6 559.4h1.6v1.6h-1.6zM386.1 567.8h1.6v1.6h-1.6zM385.9 568.1h1.6v1.6h-1.6zM393.8 515.9h1.6v1.6h-1.6zM394.2 514.5h1.6v1.6h-1.6zM394.1 516.3h1.6v1.6h-1.6zM393.9 514.1h1.6v1.6h-1.6zM394.2 555.2h1.6v1.6h-1.6zM393.7 554.7h1.6v1.6h-1.6zM393.8 555.3h1.6v1.6h-1.6zM394 558.8h1.6v1.6h-1.6zM393.9 561.4h1.6v1.6h-1.6zM402.4 502.8h1.6v1.6h-1.6zM402.3 502.8h1.6v1.6h-1.6zM402.5 502.8h1.6v1.6h-1.6zM402.1 502.8h1.6v1.6h-1.6zM402.1 563h1.6v1.6h-1.6zM402.1 561h1.6v1.6h-1.6zM402.2 559.5h1.6v1.6h-1.6zM401.9 559.2h1.6v1.6h-1.6zM402.4 568.1h1.6v1.6h-1.6z"/>
<g fill="#1b9e77"><rect x="369.2" y="508.1" width="2.3" height="45"/><rect x="377.4" y="512.6" width="2.3" height="47.2"/><rect x="385.5" y="528.4" width="2.3" height="31.5"/><rect x="393.7" y="517.1" width="2.3" height="38.2"/><rect x="401.9" y="503.6" width="2.3" height="56.2"/><circle cx="370.3" cy="530.6" r="3.3"/><circle cx="378.5" cy="538.8" r="3.3"/><circle cx="386.6" cy="547.8" r="3.3"/><circle cx="394.8" cy="537.4" r="3.3"/><circle cx="403" cy="538.8" r="3.3"/></g>
<path fill="#d95f02" opacity="0.7" d="M436.8 494.1h1.6v1.6h-1.6zM436.5 522.6h1.6v1.6h-1.6zM436.7 495.7h1.6v1.6h-1.6zM436.7 516.9h1.6v1.6h-1.6zM436.5 513h1.6v1.6h-1.6zM436.9 520.9h1.6v1.6h-1.6zM436.4 497.5h1.6v1.6h-1.6zM436.9 505.1h1.6v1.6h-1.6zM436.6 523.1h1.6v1.6h-1.6zM436.6 521.9h1.6v1.6h-1.6zM436.5 494.1h1.6v1.6h-1.6zM436.9 469.1h1.6v1.6h-1.6zM437 574.9h1.6v1.6h-1.6zM436.5 575.8h1.6v1.6h-1.6zM436.8 579.4h1.6v1.6h-1.6zM443.2 561.3h1.6v1.6h-1.6zM443.6 560.3h1.6v1.6h-1.6zM443.7 561h1.6v1.6h-1.6zM443.3 558.7h1.6v1.6h-1.6zM443.5 561.1h1.6v1.6h-1.6zM443.8 558.8h1.6v1.6h-1.6zM443.3 555.1h1.6v1.6h-1.6zM443.7 554.6h1.6v1.6h-1.6zM443.6 579.5h1.6v1.6h-1.6zM443.2 579.4h1.6v1.6h-1.6zM443.3 581h1.6v1.6h-1.6zM443.8 581.6h1.6v1.6h-1.6zM450.2 556.8h1.6v1.6h-1.6zM450 556.3h1.6v1.6h-1.6zM450.2 556.8h1.6v1.6h-1.6zM449.9 556.6h1.6v1.6h-1.6zM450 556.6h1.6v1.6h-1.6zM450.1 552.4h1.6v1.6h-1.6zM450.3 580.8h1.6v1.6h-1.6zM450.4 579.4h1.6v1.6h-1.6zM450 579.4h1.6v1.6h-1.6zM450.2 581.6h1.6v1.6h-1.6zM456.9 563.2h1.6v1.6h-1.6zM457.5 566.2h1.6v1.6h-1.6zM456.9 563.9h1.6v1.6h-1.6zM457.1 563.2h1.6v1.6h-1.6zM456.9 567.4h1.6v1.6h-1.6zM457.1 565.6h1.6v1.6h-1.6zM457.2 566.2h1.6v1.6h-1.6zM457.2 567.8h1.6v1.6h-1.6zM457.1 561.4h1.6v1.6h-1.6zM457.2 581.2h1.6v1.6h-1.6zM457.3 581.4h1.6v1.6h-1.6zM457.3 581.6h1.6v1.6h-1.6zM464.1 563.4h1.6v1.6h-1.6zM463.7 560.8h1.6v1.6h-1.6zM464 563.6h1.6v1.6h-1.6zM463.9 559.9h1.6v1.6h-1.6zM464.1 563.6h1.6v1.6h-1.6zM463.8 560.8h1.6v1.6h-1.6zM463.7 563.1h1.6v1.6h-1.6zM463.8 563.6h1.6v1.6h-1.6zM464 554.6h1.6v1.6h-1.6zM463.8 579.9h1.6v1.6h-1.6zM464.1 579.6h1.6v1.6h-1.6zM463.8 579.4h1.6v1.6h-1.6zM463.7 581.6h1.6v1.6h-1.6zM470.7 556.1h1.6v1.6h-1.6zM470.4 556.2h1.6v1.6h-1.6zM470.4 556h1.6v1.6h-1.6zM470.5 559.1h1.6v1.6h-1.6zM470.3 556.6h1.6v1.6h-1.6zM470.7 555.9h1.6v1.6h-1.6zM470.7 558.9h1.6v1.6h-1.6zM470.2 559.1h1.6v1.6h-1.6zM470.4 550.1h1.6v1.6h-1.6zM470.2 579.8h1.6v1.6h-1.6zM470.3 580.3h1.6v1.6h-1.6zM470.7 579.4h1.6v1.6h-1.6zM470.6 581.6h1.6v1.6h-1.6z"/>
<g fill="#d95f02"><rect x="436.4" y="523.9" width="2.3" height="51.8"/><rect x="443.2" y="562.1" width="2.3" height="18"/><rect x="449.9" y="557.6" width="2.3" height="22.5"/><rect x="456.9" y="568.9" width="2.3" height="12.6"/><rect x="463.6" y="564.4" width="2.3" height="15.8"/><rect x="470.2" y="559.9" width="2.3" height="20.2"/><circle cx="437.5" cy="548.6" r="3.3"/><circle cx="444.3" cy="573.4" r="3.3"/><circle cx="451" cy="568.9" r="3.3"/><circle cx="458" cy="577" r="3.3"/><circle cx="464.7" cy="574.3" r="3.3"/><circle cx="471.3" cy="571.1" r="3.3"/></g>
<path fill="#7570b3" opacity="0.7" d="M505.2 521.3h1.6v1.6h-1.6zM505.1 523.1h1.6v1.6h-1.6zM505.2 508.9h1.6v1.6h-1.6zM505.3 515.4h1.6v1.6h-1.6zM504.9 504.2h1.6v1.6h-1.6zM505.3 501.7h1.6v1.6h-1.6zM505.3 498.4h1.6v1.6h-1.6zM504.9 515.9h1.6v1.6h-1.6zM505 510.2h1.6v1.6h-1.6zM505 492.2h1.6v1.6h-1.6zM505.2 487.1h1.6v1.6h-1.6zM505.4 565.1h1.6v1.6h-1.6zM505 565.8h1.6v1.6h-1.6zM505 564.6h1.6v1.6h-1.6zM505.1 572.6h1.6v1.6h-1.6zM513.1 523.4h1.6v1.6h-1.6zM513.4 536h1.6v1.6h-1.6zM513.5 527.4h1.6v1.6h-1.6zM513.1 534.9h1.6v1.6h-1.6zM513.3 528h1.6v1.6h-1.6zM513.6 523.1h1.6v1.6h-1.6zM513.4 534.3h1.6v1.6h-1.6zM513.5 523h1.6v1.6h-1.6zM513.5 518.6h1.6v1.6h-1.6zM513.3 570.7h1.6v1.6h-1.6zM513.3 570.2h1.6v1.6h-1.6zM513.5 570.7h1.6v1.6h-1.6zM513 568.2h1.6v1.6h-1.6zM513.4 574.9h1.6v1.6h-1.6zM521.5 526.4h1.6v1.6h-1.6zM521.6 521.6h1.6v1.6h-1.6zM521.4 535.8h1.6v1.6h-1.6zM521.6 523.1h1.6v1.6h-1.6zM521.6 516.3h1.6v1.6h-1.6zM521.2 545.5h1.6v1.6h-1.6zM521.6 545.6h1.6v1.6h-1.6zM521.5 544.9h1.6v1.6h-1.6zM521.5 529.3h1.6v1.6h-1.6zM521.5 544.7h1.6v1.6h-1.6zM521.8 545.6h1.6v1.6h-1.6zM521.5 531.8h1.6v1.6h-1.6zM521.3 511.8h1.6v1.6h-1.6zM521.8 572.8h1.6v1.6h-1.6zM521.2 572.8h1.6v1.6h-1.6zM521.4 574.7h1.6v1.6h-1.6zM521.7 577.1h1.6v1.6h-1.6zM529.3 506.4h1.6v1.6h-1.6zM529.3 517.6h1.6v1.6h-1.6zM529.6 503.8h1.6v1.6h-1.6zM529.3 516.1h1.6v1.6h-1.6zM529.6 508.9h1.6v1.6h-1.6zM529.7 514.4h1.6v1.6h-1.6zM529.2 512.4h1.6v1.6h-1.6zM529.4 508.1h1.6v1.6h-1.6zM529.7 518.4h1.6v1.6h-1.6zM529.4 491.6h1.6v1.6h-1.6zM529.5 564.2h1.6v1.6h-1.6zM529.4 559.8h1.6v1.6h-1.6zM529.6 559.1h1.6v1.6h-1.6zM529.6 559.5h1.6v1.6h-1.6zM529.4 568.1h1.6v1.6h-1.6zM537.8 554.6h1.6v1.6h-1.6zM538 546.1h1.6v1.6h-1.6zM538 554.1h1.6v1.6h-1.6zM537.7 549h1.6v1.6h-1.6zM538.3 546.3h1.6v1.6h-1.6zM537.8 553h1.6v1.6h-1.6zM537.7 554.4h1.6v1.6h-1.6zM538.3 552.8h1.6v1.6h-1.6zM538.1 554.3h1.6v1.6h-1.6zM538.3 543.4h1.6v1.6h-1.6zM537.7 572.7h1.6v1.6h-1.6zM537.9 574.5h1.6v1.6h-1.6zM538.1 574.2h1.6v1.6h-1.6zM538 574.9h1.6v1.6h-1.6z"/>
<g fill="#7570b3"><rect x="504.8" y="523.9" width="2.3" height="40.5"/><rect x="513" y="537.4" width="2.3" height="31.5"/><rect x="521.1" y="546.4" width="2.3" height="27"/><rect x="529.1" y="519.4" width="2.3" height="40.5"/><rect x="537.6" y="555.4" width="2.3" height="18"/><circle cx="505.9" cy="538.8" r="3.3"/><circle cx="514.1" cy="556.8" r="3.3"/><circle cx="522.3" cy="562.1" r="3.3"/><circle cx="530.3" cy="541.9" r="3.3"/><circle cx="538.8" cy="564.4" r="3.3"/></g>
<line x1="346.6" y1="537.4" x2="563.5" y2="537.4" stroke="#000" stroke-width="1.6" stroke-dasharray="6.8 8.6"/>
<g stroke="#000" stroke-width="1.4" fill="none"><line x1="386.6" y1="520.3" x2="386.6" y2="556.8"/><line x1="376.1" y1="520.3" x2="397.1" y2="520.3"/><line x1="376.1" y1="556.8" x2="397.1" y2="556.8"/><line x1="364.6" y1="538.3" x2="408.9" y2="538.3" stroke-width="1.8"/></g>
<g stroke="#000" stroke-width="1.4" fill="none"><line x1="454.4" y1="554" x2="454.4" y2="583.3"/><line x1="443.9" y1="554" x2="464.9" y2="554"/><line x1="443.9" y1="583.3" x2="464.9" y2="583.3"/><line x1="432.2" y1="568.9" x2="476.5" y2="568.9" stroke-width="1.8"/></g>
<g stroke="#000" stroke-width="1.4" fill="none"><line x1="522.3" y1="534.7" x2="522.3" y2="570.7"/><line x1="511.8" y1="534.7" x2="532.8" y2="534.7"/><line x1="511.8" y1="570.7" x2="532.8" y2="570.7"/><line x1="500.2" y1="552.7" x2="544.5" y2="552.7" stroke-width="1.8"/></g>
<g stroke="#000" stroke-width="1.4" fill="none"><line x1="345.8" y1="449.5" x2="345.8" y2="586"/><line x1="345.1" y1="585.6" x2="563.5" y2="585.6"/><line x1="340.2" y1="582.4" x2="345.8" y2="582.4"/><line x1="340.2" y1="537.4" x2="345.8" y2="537.4"/><line x1="340.2" y1="492.4" x2="345.8" y2="492.4"/><line x1="386.6" y1="585.6" x2="386.6" y2="591.4"/><line x1="454.4" y1="585.6" x2="454.4" y2="591.4"/><line x1="522.3" y1="585.6" x2="522.3" y2="591.4"/></g>
<text x="335.4" y="587.6" font-size="14.5" text-anchor="end">0</text>
<text x="335.4" y="542.6" font-size="14.5" text-anchor="end">1</text>
<text x="335.4" y="497.6" font-size="14.5" text-anchor="end">2</text>
<text transform="translate(316.7,515.5) rotate(-90)" font-size="15.3" text-anchor="middle"><tspan class="gr" font-size="16.5">β</tspan>-SG (FC)</text>
<text x="385.8" y="606.3" font-size="15.3" text-anchor="middle">WT</text>
<text x="454.1" y="606.3" font-size="15.1" text-anchor="middle" class="i">Sgcg</text>
<text x="521.4" y="606.3" font-size="15.1" text-anchor="middle"><tspan class="i">Sgcg</tspan><tspan font-size="9.7" dx="0.9" dy="-4.6">TG</tspan></text>
<text x="452.9" y="432.8" font-size="11.3" text-anchor="middle"><tspan class="i">P</tspan> = 0.0197</text>
<rect x="385.7" y="436.1" width="134.1" height="1.5" fill="#000"/>
<text x="411" y="452.8" font-size="11.3" text-anchor="middle"><tspan class="i">P</tspan> &lt; 0.0001</text>
<rect x="385.7" y="457.4" width="52.1" height="1.5" fill="#000"/>
<text x="494.5" y="452.8" font-size="11.3" text-anchor="middle"><tspan class="i">P</tspan> = 0.0326</text>
<rect x="468.5" y="457.4" width="51.3" height="1.5" fill="#000"/>
<text x="605.5" y="437.3" class="b" font-size="19">D</text>
<path fill="#1b9e77" opacity="0.7" d="M669 472.1h1.6v1.6h-1.6zM669.3 474.2h1.6v1.6h-1.6zM669.2 486.3h1.6v1.6h-1.6zM669.2 486.5h1.6v1.6h-1.6zM669.3 473.8h1.6v1.6h-1.6zM669.4 464.5h1.6v1.6h-1.6zM669.4 485.6h1.6v1.6h-1.6zM669.4 485.4h1.6v1.6h-1.6zM669 456.2h1.6v1.6h-1.6zM669.4 553.2h1.6v1.6h-1.6zM669.3 548.1h1.6v1.6h-1.6zM669.5 547.3h1.6v1.6h-1.6zM669.6 546.4h1.6v1.6h-1.6zM669 561.5h1.6v1.6h-1.6zM677.7 511.8h1.6v1.6h-1.6zM677.9 549.9h1.6v1.6h-1.6zM677.8 530h1.6v1.6h-1.6zM677.9 518.1h1.6v1.6h-1.6zM677.6 509.9h1.6v1.6h-1.6zM677.5 499.7h1.6v1.6h-1.6zM677.7 529.2h1.6v1.6h-1.6zM677.6 508.6h1.6v1.6h-1.6zM677.6 538.7h1.6v1.6h-1.6zM678 550.5h1.6v1.6h-1.6zM677.6 552.3h1.6v1.6h-1.6zM677.9 538.7h1.6v1.6h-1.6zM677.5 519.8h1.6v1.6h-1.6zM677.8 541.5h1.6v1.6h-1.6zM677.6 525.4h1.6v1.6h-1.6zM677.5 492.6h1.6v1.6h-1.6zM677.6 578.8h1.6v1.6h-1.6zM678 580.6h1.6v1.6h-1.6zM677.7 580.7h1.6v1.6h-1.6zM685.9 520.2h1.6v1.6h-1.6zM685.8 508h1.6v1.6h-1.6zM685.5 520.7h1.6v1.6h-1.6zM685.9 528.6h1.6v1.6h-1.6zM685.7 528.4h1.6v1.6h-1.6zM685.8 512.2h1.6v1.6h-1.6zM685.9 521.9h1.6v1.6h-1.6zM686.1 527.6h1.6v1.6h-1.6zM685.8 498.5h1.6v1.6h-1.6zM685.9 526.6h1.6v1.6h-1.6zM685.8 496.4h1.6v1.6h-1.6zM685.9 572.3h1.6v1.6h-1.6zM685.6 571.3h1.6v1.6h-1.6zM686.1 573h1.6v1.6h-1.6zM693.7 514.6h1.6v1.6h-1.6zM693.7 495.1h1.6v1.6h-1.6zM693.9 515.4h1.6v1.6h-1.6zM694 515.2h1.6v1.6h-1.6zM694.2 480.5h1.6v1.6h-1.6zM694 489.7h1.6v1.6h-1.6zM693.8 515.1h1.6v1.6h-1.6zM694.1 511.9h1.6v1.6h-1.6zM694.3 515.3h1.6v1.6h-1.6zM694 475.3h1.6v1.6h-1.6zM694 482.6h1.6v1.6h-1.6zM693.9 469.6h1.6v1.6h-1.6zM694.2 567.3h1.6v1.6h-1.6zM693.8 566.2h1.6v1.6h-1.6zM694.1 565.9h1.6v1.6h-1.6zM693.8 571.1h1.6v1.6h-1.6zM702.4 528.4h1.6v1.6h-1.6zM702.4 530.4h1.6v1.6h-1.6zM702 526.3h1.6v1.6h-1.6zM702.4 529.7h1.6v1.6h-1.6zM702 524.9h1.6v1.6h-1.6zM702.1 530.9h1.6v1.6h-1.6zM702 532.8h1.6v1.6h-1.6zM702.2 523.2h1.6v1.6h-1.6zM702 565.3h1.6v1.6h-1.6zM702 564.6h1.6v1.6h-1.6zM702.2 565.4h1.6v1.6h-1.6z"/>
<g fill="#1b9e77"><rect x="669" y="487.6" width="2.3" height="57.5"/><rect x="677.4" y="554.7" width="2.3" height="24.9"/><rect x="685.5" y="529.8" width="2.3" height="42.1"/><rect x="693.6" y="516.4" width="2.3" height="46"/><rect x="701.9" y="533.6" width="2.3" height="30.6"/><circle cx="670.1" cy="516.4" r="3.3"/><circle cx="678.5" cy="567.3" r="3.3"/><circle cx="686.6" cy="550.8" r="3.3"/><circle cx="694.8" cy="541.3" r="3.3"/><circle cx="703" cy="547.8" r="3.3"/></g>
<path fill="#d95f02" opacity="0.7" d="M736.2 565.2h1.6v1.6h-1.6zM736.6 564h1.6v1.6h-1.6zM736.2 562.6h1.6v1.6h-1.6zM736.6 565.4h1.6v1.6h-1.6zM736.6 560.9h1.6v1.6h-1.6zM736.8 562.1h1.6v1.6h-1.6zM736.3 562.1h1.6v1.6h-1.6zM736.4 559.6h1.6v1.6h-1.6zM736.7 581.7h1.6v1.6h-1.6zM736.4 582.5h1.6v1.6h-1.6zM736.4 580.7h1.6v1.6h-1.6zM736.3 582.6h1.6v1.6h-1.6zM743 571.1h1.6v1.6h-1.6zM743.1 569h1.6v1.6h-1.6zM743.2 571.1h1.6v1.6h-1.6zM743.5 569.4h1.6v1.6h-1.6zM743.1 567h1.6v1.6h-1.6zM743.4 569.8h1.6v1.6h-1.6zM743.4 568.3h1.6v1.6h-1.6zM743.1 564.2h1.6v1.6h-1.6zM743.2 570.9h1.6v1.6h-1.6zM742.9 567.9h1.6v1.6h-1.6zM743.5 563.5h1.6v1.6h-1.6zM743.2 581.5h1.6v1.6h-1.6zM743 581.2h1.6v1.6h-1.6zM743.4 580.9h1.6v1.6h-1.6zM743.4 582.6h1.6v1.6h-1.6zM750.1 567.1h1.6v1.6h-1.6zM750.3 565.5h1.6v1.6h-1.6zM750.1 568.9h1.6v1.6h-1.6zM750.1 568h1.6v1.6h-1.6zM750.5 568.5h1.6v1.6h-1.6zM750.1 567.6h1.6v1.6h-1.6zM750.1 565.4h1.6v1.6h-1.6zM750.5 580.8h1.6v1.6h-1.6zM750.5 581.6h1.6v1.6h-1.6zM750.5 581.1h1.6v1.6h-1.6zM750 582.6h1.6v1.6h-1.6zM756.9 563.8h1.6v1.6h-1.6zM757 567.8h1.6v1.6h-1.6zM757.2 565.3h1.6v1.6h-1.6zM756.8 563.3h1.6v1.6h-1.6zM757.2 564.4h1.6v1.6h-1.6zM757 568h1.6v1.6h-1.6zM757.3 565.7h1.6v1.6h-1.6zM757.1 567.9h1.6v1.6h-1.6zM756.8 561.5h1.6v1.6h-1.6zM757 582h1.6v1.6h-1.6zM757.1 580.8h1.6v1.6h-1.6zM757.2 580.8h1.6v1.6h-1.6zM757 582.6h1.6v1.6h-1.6zM763.6 562.9h1.6v1.6h-1.6zM764 561.4h1.6v1.6h-1.6zM763.9 563.4h1.6v1.6h-1.6zM763.5 561.5h1.6v1.6h-1.6zM763.7 562.8h1.6v1.6h-1.6zM764 559.6h1.6v1.6h-1.6zM763.9 580.6h1.6v1.6h-1.6zM763.4 578.8h1.6v1.6h-1.6zM763.8 579h1.6v1.6h-1.6zM763.9 579.1h1.6v1.6h-1.6zM763.9 582.6h1.6v1.6h-1.6zM770.6 573.6h1.6v1.6h-1.6zM770.7 574.2h1.6v1.6h-1.6zM770.6 574.8h1.6v1.6h-1.6zM770.7 573.6h1.6v1.6h-1.6zM770.7 574.6h1.6v1.6h-1.6zM770.6 574.6h1.6v1.6h-1.6zM770.7 573.9h1.6v1.6h-1.6zM770.3 574.9h1.6v1.6h-1.6zM770.5 571.1h1.6v1.6h-1.6zM770.8 581.1h1.6v1.6h-1.6zM770.6 580.8h1.6v1.6h-1.6zM770.8 581.1h1.6v1.6h-1.6zM770.4 580.8h1.6v1.6h-1.6zM770.3 582.6h1.6v1.6h-1.6z"/>
<g fill="#d95f02"><rect x="736.1" y="566.2" width="2.3" height="15.3"/><rect x="742.9" y="571.9" width="2.3" height="9.6"/><rect x="749.9" y="570" width="2.3" height="11.5"/><rect x="756.6" y="568.8" width="2.3" height="12.6"/><rect x="763.4" y="564.2" width="2.3" height="15.3"/><rect x="770.1" y="575.7" width="2.3" height="5.7"/><circle cx="737.3" cy="574.6" r="3.3"/><circle cx="744" cy="577.7" r="3.3"/><circle cx="751" cy="576.5" r="3.3"/><circle cx="757.8" cy="576.1" r="3.3"/><circle cx="764.5" cy="571.5" r="3.3"/><circle cx="771.3" cy="579.6" r="3.3"/></g>
<path fill="#7570b3" opacity="0.7" d="M806.1 492.4h1.6v1.6h-1.6zM805.9 492.6h1.6v1.6h-1.6zM805.9 477.8h1.6v1.6h-1.6zM805.8 471.6h1.6v1.6h-1.6zM806.2 491.3h1.6v1.6h-1.6zM805.6 454.4h1.6v1.6h-1.6zM805.8 489.3h1.6v1.6h-1.6zM806 490.2h1.6v1.6h-1.6zM805.8 471.6h1.6v1.6h-1.6zM806.1 450.5h1.6v1.6h-1.6zM806 544.3h1.6v1.6h-1.6zM805.8 549.7h1.6v1.6h-1.6zM806.1 555.4h1.6v1.6h-1.6zM806 552.1h1.6v1.6h-1.6zM806 545.6h1.6v1.6h-1.6zM805.9 569.2h1.6v1.6h-1.6zM816.4 538.7h1.6v1.6h-1.6zM816 532.6h1.6v1.6h-1.6zM816.1 534.5h1.6v1.6h-1.6zM816.1 541.7h1.6v1.6h-1.6zM816.5 533.3h1.6v1.6h-1.6zM816.2 538.1h1.6v1.6h-1.6zM816.3 539.8h1.6v1.6h-1.6zM816.5 530.9h1.6v1.6h-1.6zM816.4 572.8h1.6v1.6h-1.6zM816 572.8h1.6v1.6h-1.6zM816.1 572.5h1.6v1.6h-1.6zM816.3 576.4h1.6v1.6h-1.6zM816.2 576.9h1.6v1.6h-1.6zM826.9 544.3h1.6v1.6h-1.6zM826.6 540.4h1.6v1.6h-1.6zM826.6 532.4h1.6v1.6h-1.6zM826.3 538.1h1.6v1.6h-1.6zM826.7 544h1.6v1.6h-1.6zM826.4 537.7h1.6v1.6h-1.6zM826.5 543.9h1.6v1.6h-1.6zM826.7 531.6h1.6v1.6h-1.6zM826.7 530.9h1.6v1.6h-1.6zM826.4 572.2h1.6v1.6h-1.6zM826.6 574.2h1.6v1.6h-1.6zM826.3 573.4h1.6v1.6h-1.6zM826.3 574.9h1.6v1.6h-1.6zM837 531.1h1.6v1.6h-1.6zM837.1 527.2h1.6v1.6h-1.6zM837.1 534.4h1.6v1.6h-1.6zM837 529.5h1.6v1.6h-1.6zM836.8 522.6h1.6v1.6h-1.6zM837.2 531.9h1.6v1.6h-1.6zM837 520.5h1.6v1.6h-1.6zM836.8 533.4h1.6v1.6h-1.6zM837.1 523.1h1.6v1.6h-1.6zM836.7 515.6h1.6v1.6h-1.6zM836.6 571.3h1.6v1.6h-1.6zM837.1 571.1h1.6v1.6h-1.6zM836.7 569.6h1.6v1.6h-1.6zM836.8 573.3h1.6v1.6h-1.6zM836.9 576.9h1.6v1.6h-1.6z"/>
<g fill="#7570b3"><rect x="805.6" y="493.4" width="2.3" height="51.7"/><rect x="815.9" y="543.2" width="2.3" height="28.7"/><rect x="826.2" y="545.1" width="2.3" height="26.8"/><rect x="836.6" y="539.4" width="2.3" height="28.7"/><circle cx="806.7" cy="517.5" r="3.3"/><circle cx="817" cy="556.6" r="3.3"/><circle cx="827.4" cy="560.4" r="3.3"/><circle cx="837.7" cy="553.5" r="3.3"/></g>
<line x1="646.6" y1="545.1" x2="863.5" y2="545.1" stroke="#000" stroke-width="1.6" stroke-dasharray="6.8 8.6"/>
<g stroke="#000" stroke-width="1.4" fill="none"><line x1="686.6" y1="519.4" x2="686.6" y2="570"/><line x1="676.1" y1="519.4" x2="697.1" y2="519.4"/><line x1="676.1" y1="570" x2="697.1" y2="570"/><line x1="661.5" y1="544.3" x2="713.1" y2="544.3" stroke-width="1.8"/></g>
<g stroke="#000" stroke-width="1.4" fill="none"><line x1="754.4" y1="571.9" x2="754.4" y2="580.9"/><line x1="743.9" y1="571.9" x2="764.9" y2="571.9"/><line x1="743.9" y1="580.9" x2="764.9" y2="580.9"/><line x1="732.2" y1="576.1" x2="776.5" y2="576.1" stroke-width="1.8"/></g>
<g stroke="#000" stroke-width="1.4" fill="none"><line x1="822.3" y1="524" x2="822.3" y2="570"/><line x1="811.8" y1="524" x2="832.8" y2="524"/><line x1="811.8" y1="570" x2="832.8" y2="570"/><line x1="800.2" y1="547" x2="844" y2="547" stroke-width="1.8"/></g>
<g stroke="#000" stroke-width="1.4" fill="none"><line x1="645.8" y1="449.5" x2="645.8" y2="586"/><line x1="645.0999999999999" y1="585.6" x2="863.5" y2="585.6"/><line x1="640.1999999999999" y1="583.4" x2="645.8" y2="583.4"/><line x1="640.1999999999999" y1="545.1" x2="645.8" y2="545.1"/><line x1="640.1999999999999" y1="506.8" x2="645.8" y2="506.8"/><line x1="640.1999999999999" y1="468.5" x2="645.8" y2="468.5"/><line x1="686.6" y1="585.6" x2="686.6" y2="591.4"/><line x1="754.4" y1="585.6" x2="754.4" y2="591.4"/><line x1="822.3" y1="585.6" x2="822.3" y2="591.4"/></g>
<text x="635.4" y="588.6" font-size="14.5" text-anchor="end">0</text>
<text x="635.4" y="550.3" font-size="14.5" text-anchor="end">1</text>
<text x="635.4" y="512" font-size="14.5" text-anchor="end">2</text>
<text x="635.4" y="473.7" font-size="14.5" text-anchor="end">3</text>
<text transform="translate(616.7,515.5) rotate(-90)" font-size="15.3" text-anchor="middle"><tspan class="gr" font-size="16.5">δ</tspan>-SG (FC)</text>
<text x="685.8" y="606.3" font-size="15.3" text-anchor="middle">WT</text>
<text x="754.1" y="606.3" font-size="15.1" text-anchor="middle" class="i">Sgcg</text>
<text x="821.4" y="606.3" font-size="15.1" text-anchor="middle"><tspan class="i">Sgcg</tspan><tspan font-size="9.7" dx="0.9" dy="-4.6">TG</tspan></text>
<text x="709.5" y="441.6" font-size="11.3" text-anchor="middle"><tspan class="i">P</tspan> = 0.0002</text>
<rect x="683.6" y="445.1" width="52.3" height="1.5" fill="#000"/>
<text x="793.6" y="441.6" font-size="11.3" text-anchor="middle"><tspan class="i">P</tspan> = 0.0041</text>
<rect x="768.1" y="445.1" width="51.7" height="1.5" fill="#000"/>
<text x="463.7" y="649.8" font-size="15.4" text-anchor="middle">Complex purification</text>
<rect x="49.5" y="658.3" width="793.5" height="1.7" fill="#000"/>
<text x="11.8" y="684.8" class="b" font-size="19">E</text>
<text x="138.5" y="684.6" font-size="15" text-anchor="middle"><tspan class="gr" font-size="16.5">α</tspan>-SG</text>
<text x="248.4" y="685.3" font-size="15">kDa</text>
<text x="245.4" y="727.3" font-size="15">-55</text>
<rect x="33.8" y="691.8" width="210" height="54.2" fill="#c9c9c9"/>

<g filter="url(#bb)"><path d="M38.4 715Q48 716.2 57.7 715A4 4 0 0 1 57.7 723Q48 721.8 38.4 723A4 4 0 0 1 38.4 715Z" fill="#000"/><path d="M71.8 713.1Q78.6 713.9 85.3 713.1A5.2 5.2 0 0 1 85.3 723.6Q78.6 722.9 71.8 723.6A5.2 5.2 0 0 1 71.8 713.1Z" fill="#000"/><path d="M187.9 715.1Q197.2 715.9 206.5 715.1A2.5 2.5 0 0 1 206.5 720.1Q197.2 719.4 187.9 720.1A2.5 2.5 0 0 1 187.9 715.1Z" fill="#1a1a1a"/><path d="M218.4 714.1Q228.5 714.9 238.6 714.1A3.5 3.5 0 0 1 238.6 721.1Q228.5 720.4 218.4 721.1A3.5 3.5 0 0 1 218.4 714.1Z" fill="#000"/></g>
<g fill="#474747"><rect x="33.8" y="748.7" width="59" height="2.95"/><rect x="97.4" y="748.7" width="83" height="2.95"/><rect x="185.4" y="748.7" width="58.4" height="2.95"/></g>
<text x="63.3" y="766.1" font-size="15.2" text-anchor="middle">WT</text>
<text x="140.4" y="766.1" font-size="15.2" text-anchor="middle" class="i">Sgcg</text>
<text x="215.4" y="766.1" font-size="15.2" text-anchor="middle"><tspan class="i">Sgcg</tspan><tspan font-size="9.8" dx="0.8" dy="-4.3">TG</tspan></text>
<text x="312" y="684.8" class="b" font-size="19">F</text>
<text x="433.9" y="684.6" font-size="15" text-anchor="middle"><tspan class="gr" font-size="16.5">β</tspan>-SG</text>
<text x="542.8" y="685.3" font-size="15">kDa</text>
<text x="542.8" y="745.3" font-size="15">-35</text>
<rect x="327.9" y="691.8" width="211.6" height="54.2" fill="#c9c9c9"/>

<g filter="url(#bb)"><path d="M335.8 707.2Q344.5 708.2 353.2 707.2A6.2 6.2 0 0 1 353.2 719.8Q344.5 718.8 335.8 719.8A6.2 6.2 0 0 1 335.8 707.2Z" fill="#000"/><path d="M366.8 706.2Q374.1 707.2 381.4 706.2A7.2 7.2 0 0 1 381.4 720.8Q374.1 719.8 366.8 720.8A7.2 7.2 0 0 1 366.8 706.2Z" fill="#000"/><path d="M487.1 703.2Q494.4 704.7 501.7 703.2A5 5 0 0 1 501.7 713.2Q494.4 711.7 487.1 713.2A5 5 0 0 1 487.1 703.2Z" fill="#000"/><path d="M516 702.2Q524.2 703.5 532.5 702.2A6 6 0 0 1 532.5 714.2Q524.2 713 516 714.2A6 6 0 0 1 516 702.2Z" fill="#000"/></g>
<g fill="#474747"><rect x="327.9" y="748.7" width="58.1" height="2.95"/><rect x="392.5" y="748.7" width="82.4" height="2.95"/><rect x="481.4" y="748.7" width="58.1" height="2.95"/></g>
<text x="357.4" y="766.1" font-size="15.2" text-anchor="middle">WT</text>
<text x="434.5" y="766.1" font-size="15.2" text-anchor="middle" class="i">Sgcg</text>
<text x="510.5" y="766.1" font-size="15.2" text-anchor="middle"><tspan class="i">Sgcg</tspan><tspan font-size="9.8" dx="0.8" dy="-4.3">TG</tspan></text>
<text x="614.2" y="684.8" class="b" font-size="19">G</text>
<text x="741.7" y="684.6" font-size="15" text-anchor="middle"><tspan class="gr" font-size="16.5">δ</tspan>-SG</text>
<text x="853.3" y="685.3" font-size="15">kDa</text>
<text x="853.3" y="728.9" font-size="15">-35</text>
<rect x="632.8" y="695.4" width="218.2" height="50.6" fill="#bfbfbf"/>

<g filter="url(#bb)"><path d="M638.2 717.9Q648.9 718.4 659.6 717.9A2.1 2.1 0 0 1 659.6 722.1Q648.9 721.6 638.2 722.1A2.1 2.1 0 0 1 638.2 717.9Z" fill="#000"/><path d="M669.9 717.4Q680.8 717.9 691.6 717.4A2.6 2.6 0 0 1 691.6 722.6Q680.8 722.1 669.9 722.6A2.6 2.6 0 0 1 669.9 717.4Z" fill="#000"/><path d="M792.7 716.9Q803.4 717.5 814.1 716.9A3.1 3.1 0 0 1 814.1 723.1Q803.4 722.5 792.7 723.1A3.1 3.1 0 0 1 792.7 716.9Z" fill="#000"/><path d="M824 715.8Q834.5 716.5 845 715.8A4.2 4.2 0 0 1 845 724.2Q834.5 723.5 824 724.2A4.2 4.2 0 0 1 824 715.8Z" fill="#000"/></g>
<g fill="#474747"><rect x="632.8" y="748.7" width="59.1" height="2.95"/><rect x="700" y="748.7" width="83" height="2.95"/><rect x="791.3" y="748.7" width="59.7" height="2.95"/></g>
<text x="662.3" y="766.1" font-size="15.2" text-anchor="middle">WT</text>
<text x="741.7" y="766.1" font-size="15.2" text-anchor="middle" class="i">Sgcg</text>
<text x="821" y="766.1" font-size="15.2" text-anchor="middle"><tspan class="i">Sgcg</tspan><tspan font-size="9.8" dx="0.8" dy="-4.3">TG</tspan></text>
<text x="11" y="806.9" class="b" font-size="19">H</text>
<text x="137.8" y="806.9" font-size="15" text-anchor="middle"><tspan class="gr" font-size="16.5">γ</tspan>-SG</text>
<text x="248.4" y="809.5" font-size="15">kDa</text>
<text x="245.4" y="850.5" font-size="15">-35</text>
<rect x="33.8" y="817.1" width="210" height="51.6" fill="#acacac"/>

<g filter="url(#bb)"><path d="M37.6 836.5Q47.5 837.2 57.5 836.5A2.5 2.5 0 0 1 57.5 841.5Q47.5 840.8 37.6 841.5A2.5 2.5 0 0 1 37.6 836.5Z" fill="#000"/><path d="M68.5 835.5Q77.6 836.2 86.7 835.5A3.5 3.5 0 0 1 86.7 842.5Q77.6 841.8 68.5 842.5A3.5 3.5 0 0 1 68.5 835.5Z" fill="#000"/></g>
<g fill="#474747"><rect x="33.8" y="871.7" width="59" height="2.95"/><rect x="97.4" y="871.7" width="83" height="2.95"/><rect x="185.4" y="871.7" width="58.4" height="2.95"/></g>
<text x="63.3" y="889.2" font-size="15.2" text-anchor="middle">WT</text>
<text x="140.4" y="889.2" font-size="15.2" text-anchor="middle" class="i">Sgcg</text>
<text x="215.4" y="889.2" font-size="15.2" text-anchor="middle"><tspan class="i">Sgcg</tspan><tspan font-size="9.8" dx="0.8" dy="-4.3">TG</tspan></text>
<text x="317" y="806.9" class="b" font-size="19">I</text>
<text x="433.9" y="807.9" font-size="15.3" text-anchor="middle">Human SSPN</text>
<text x="542.8" y="810.2" font-size="15">kDa</text>
<text x="542.8" y="860.4" font-size="15">-25</text>
<rect x="327.9" y="816.4" width="211.6" height="52.3" fill="#b6b6b6"/>

<g filter="url(#bb)"><path d="M481.4 840.4Q491.1 841.1 500.8 840.4A4.2 4.2 0 0 1 500.8 848.9Q491.1 848.1 481.4 848.9A4.2 4.2 0 0 1 481.4 840.4Z" fill="#000"/><path d="M512 838.6Q522 839.6 531.9 838.6A6 6 0 0 1 531.9 850.6Q522 849.6 512 850.6A6 6 0 0 1 512 838.6Z" fill="#000"/></g>
<g fill="#474747"><rect x="327.9" y="871.7" width="58.1" height="2.95"/><rect x="392.5" y="871.7" width="82.4" height="2.95"/><rect x="481.4" y="871.7" width="58.1" height="2.95"/></g>
<text x="357.4" y="889.2" font-size="15.2" text-anchor="middle">WT</text>
<text x="434.5" y="889.2" font-size="15.2" text-anchor="middle" class="i">Sgcg</text>
<text x="510.5" y="889.2" font-size="15.2" text-anchor="middle"><tspan class="i">Sgcg</tspan><tspan font-size="9.8" dx="0.8" dy="-4.3">TG</tspan></text>
<text x="616.9" y="806.9" class="b" font-size="19">J</text>
<text x="741.7" y="808.9" font-size="15.3" text-anchor="middle">Mouse SSPN</text>
<text x="853.3" y="810.2" font-size="15">kDa</text>
<text x="853.3" y="835.8" font-size="15">-25</text>
<rect x="632.8" y="817.7" width="218.2" height="51" fill="#b3b3b3"/>
<g filter="url(#bs)" fill="#9a9a9a" opacity="0.35"><ellipse cx="718" cy="840" rx="8" ry="2.5"/><ellipse cx="745" cy="839" rx="9" ry="3"/><ellipse cx="775" cy="839" rx="8" ry="2"/></g>
<g filter="url(#bb)"><path d="M641.1 836.7Q652 837.5 662.8 836.7A5 5 0 0 1 662.8 846.7Q652 846 641.1 846.7A5 5 0 0 1 641.1 836.7Z" fill="#000"/><path d="M674 834.2Q683.9 835.2 693.8 834.2A6.2 6.2 0 0 1 693.8 846.8Q683.9 845.8 674 846.8A6.2 6.2 0 0 1 674 834.2Z" fill="#000"/></g>
<g fill="#474747"><rect x="632.8" y="871.7" width="59.1" height="2.95"/><rect x="700" y="871.7" width="83" height="2.95"/><rect x="791.3" y="871.7" width="59.7" height="2.95"/></g>
<text x="662.3" y="889.2" font-size="15.2" text-anchor="middle">WT</text>
<text x="741.7" y="889.2" font-size="15.2" text-anchor="middle" class="i">Sgcg</text>
<text x="821" y="889.2" font-size="15.2" text-anchor="middle"><tspan class="i">Sgcg</tspan><tspan font-size="9.8" dx="0.8" dy="-4.3">TG</tspan></text>
</svg></body></html>
